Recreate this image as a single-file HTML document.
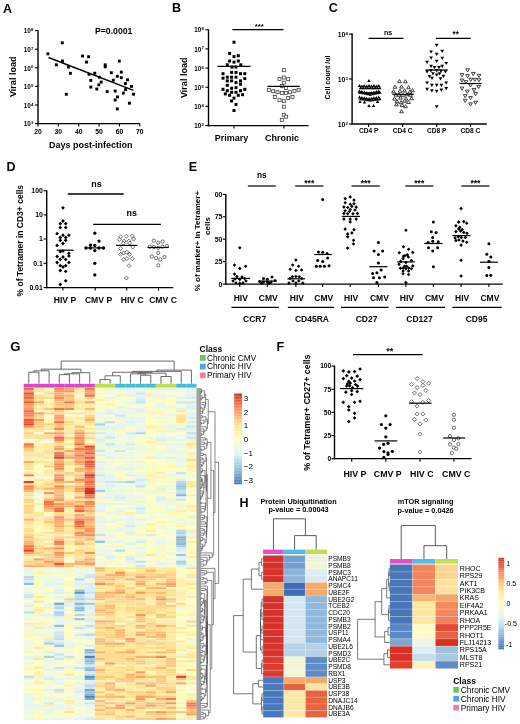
<!DOCTYPE html>
<html><head><meta charset="utf-8"><style>
html,body{margin:0;padding:0;background:#fff;}
svg{display:block;filter:blur(0.3px);}
</style></head><body>
<svg width="520" height="724" viewBox="0 0 520 724" font-family="Liberation Sans, sans-serif" shape-rendering="geometricPrecision">
<rect x="0" y="0" width="520" height="724" fill="#fff"/>
<text x="2.9" y="12.6" font-size="12.5" font-weight="bold" fill="#000">A</text>
<text x="95" y="34.1" font-size="8.7" font-weight="bold" fill="#000">P=0.0001</text>
<line x1="38" y1="29.9" x2="38" y2="124.2" stroke="#000" stroke-width="1.4"/>
<line x1="37.4" y1="123.6" x2="139.8" y2="123.6" stroke="#000" stroke-width="1.3"/>
<line x1="34.9" y1="30.6" x2="38" y2="30.6" stroke="#000" stroke-width="1.1"/>
<text x="30.7" y="33.3" font-size="6.3" font-weight="bold" text-anchor="end" fill="#000">10</text>
<text x="30.9" y="31.2" font-size="4.3" font-weight="bold" fill="#000">8</text>
<line x1="34.9" y1="49.2" x2="38" y2="49.2" stroke="#000" stroke-width="1.1"/>
<text x="30.7" y="51.9" font-size="6.3" font-weight="bold" text-anchor="end" fill="#000">10</text>
<text x="30.9" y="49.8" font-size="4.3" font-weight="bold" fill="#000">7</text>
<line x1="34.9" y1="67.8" x2="38" y2="67.8" stroke="#000" stroke-width="1.1"/>
<text x="30.7" y="70.5" font-size="6.3" font-weight="bold" text-anchor="end" fill="#000">10</text>
<text x="30.9" y="68.4" font-size="4.3" font-weight="bold" fill="#000">6</text>
<line x1="34.9" y1="86.4" x2="38" y2="86.4" stroke="#000" stroke-width="1.1"/>
<text x="30.7" y="89.1" font-size="6.3" font-weight="bold" text-anchor="end" fill="#000">10</text>
<text x="30.9" y="87" font-size="4.3" font-weight="bold" fill="#000">5</text>
<line x1="34.9" y1="105" x2="38" y2="105" stroke="#000" stroke-width="1.1"/>
<text x="30.7" y="107.7" font-size="6.3" font-weight="bold" text-anchor="end" fill="#000">10</text>
<text x="30.9" y="105.6" font-size="4.3" font-weight="bold" fill="#000">4</text>
<line x1="34.9" y1="123.6" x2="38" y2="123.6" stroke="#000" stroke-width="1.1"/>
<text x="30.7" y="126.3" font-size="6.3" font-weight="bold" text-anchor="end" fill="#000">10</text>
<text x="30.9" y="124.2" font-size="4.3" font-weight="bold" fill="#000">3</text>
<line x1="38" y1="123.6" x2="38" y2="126.6" stroke="#000" stroke-width="1.1"/>
<text x="38" y="134.3" font-size="6.8" font-weight="bold" text-anchor="middle" fill="#000">20</text>
<line x1="58.36" y1="123.6" x2="58.36" y2="126.6" stroke="#000" stroke-width="1.1"/>
<text x="58.36" y="134.3" font-size="6.8" font-weight="bold" text-anchor="middle" fill="#000">30</text>
<line x1="78.72" y1="123.6" x2="78.72" y2="126.6" stroke="#000" stroke-width="1.1"/>
<text x="78.72" y="134.3" font-size="6.8" font-weight="bold" text-anchor="middle" fill="#000">40</text>
<line x1="99.08" y1="123.6" x2="99.08" y2="126.6" stroke="#000" stroke-width="1.1"/>
<text x="99.08" y="134.3" font-size="6.8" font-weight="bold" text-anchor="middle" fill="#000">50</text>
<line x1="119.44" y1="123.6" x2="119.44" y2="126.6" stroke="#000" stroke-width="1.1"/>
<text x="119.44" y="134.3" font-size="6.8" font-weight="bold" text-anchor="middle" fill="#000">60</text>
<line x1="139.8" y1="123.6" x2="139.8" y2="126.6" stroke="#000" stroke-width="1.1"/>
<text x="139.8" y="134.3" font-size="6.8" font-weight="bold" text-anchor="middle" fill="#000">70</text>
<text x="90.7" y="148.2" font-size="9" font-weight="bold" text-anchor="middle" fill="#000">Days post-infection</text>
<text transform="translate(16.4,76.8) rotate(-90)" x="0" y="0" font-size="9" font-weight="bold" text-anchor="middle">Viral load</text>
<line x1="48.5" y1="57.5" x2="133.5" y2="90.4" stroke="#000" stroke-width="1.5"/>
<rect x="46.45" y="52.35" width="2.9" height="2.9" fill="#000"/>
<rect x="60.85" y="41.35" width="2.9" height="2.9" fill="#000"/>
<rect x="54.85" y="63.35" width="2.9" height="2.9" fill="#000"/>
<rect x="61.05" y="59.55" width="2.9" height="2.9" fill="#000"/>
<rect x="66.95" y="65.65" width="2.9" height="2.9" fill="#000"/>
<rect x="68.95" y="71.85" width="2.9" height="2.9" fill="#000"/>
<rect x="81.05" y="54.55" width="2.9" height="2.9" fill="#000"/>
<rect x="87.15" y="55.25" width="2.9" height="2.9" fill="#000"/>
<rect x="85.05" y="60.65" width="2.9" height="2.9" fill="#000"/>
<rect x="64.85" y="92.85" width="2.9" height="2.9" fill="#000"/>
<rect x="103.75" y="63.35" width="2.9" height="2.9" fill="#000"/>
<rect x="103.75" y="65.35" width="2.9" height="2.9" fill="#000"/>
<rect x="117.85" y="59.65" width="2.9" height="2.9" fill="#000"/>
<rect x="87.55" y="72.85" width="2.9" height="2.9" fill="#000"/>
<rect x="93.35" y="71.75" width="2.9" height="2.9" fill="#000"/>
<rect x="89.35" y="78.95" width="2.9" height="2.9" fill="#000"/>
<rect x="97.95" y="75.75" width="2.9" height="2.9" fill="#000"/>
<rect x="99.75" y="80.65" width="2.9" height="2.9" fill="#000"/>
<rect x="97.35" y="83.35" width="2.9" height="2.9" fill="#000"/>
<rect x="89.35" y="85.65" width="2.9" height="2.9" fill="#000"/>
<rect x="95.35" y="87.55" width="2.9" height="2.9" fill="#000"/>
<rect x="109.85" y="71.25" width="2.9" height="2.9" fill="#000"/>
<rect x="119.85" y="70.65" width="2.9" height="2.9" fill="#000"/>
<rect x="115.85" y="74.85" width="2.9" height="2.9" fill="#000"/>
<rect x="119.85" y="76.25" width="2.9" height="2.9" fill="#000"/>
<rect x="111.85" y="78.75" width="2.9" height="2.9" fill="#000"/>
<rect x="126.05" y="78.35" width="2.9" height="2.9" fill="#000"/>
<rect x="123.95" y="82.15" width="2.9" height="2.9" fill="#000"/>
<rect x="130.05" y="84.95" width="2.9" height="2.9" fill="#000"/>
<rect x="124.15" y="88.15" width="2.9" height="2.9" fill="#000"/>
<rect x="121.85" y="91.65" width="2.9" height="2.9" fill="#000"/>
<rect x="132.05" y="92.75" width="2.9" height="2.9" fill="#000"/>
<rect x="105.75" y="90.15" width="2.9" height="2.9" fill="#000"/>
<rect x="113.75" y="89.55" width="2.9" height="2.9" fill="#000"/>
<rect x="116.05" y="95.45" width="2.9" height="2.9" fill="#000"/>
<rect x="113.75" y="98.55" width="2.9" height="2.9" fill="#000"/>
<rect x="127.95" y="101.75" width="2.9" height="2.9" fill="#000"/>
<rect x="115.85" y="107.45" width="2.9" height="2.9" fill="#000"/>
<text x="172" y="11.9" font-size="12.5" font-weight="bold" fill="#000">B</text>
<line x1="208.5" y1="29.2" x2="208.5" y2="126.2" stroke="#000" stroke-width="1.4"/>
<line x1="207.9" y1="125.6" x2="308.6" y2="125.6" stroke="#000" stroke-width="1.3"/>
<line x1="205.4" y1="29.7" x2="208.5" y2="29.7" stroke="#000" stroke-width="1.1"/>
<text x="201.2" y="32.4" font-size="6.3" font-weight="bold" text-anchor="end" fill="#000">10</text>
<text x="201.4" y="30.3" font-size="4.3" font-weight="bold" fill="#000">8</text>
<line x1="205.4" y1="48.88" x2="208.5" y2="48.88" stroke="#000" stroke-width="1.1"/>
<text x="201.2" y="51.58" font-size="6.3" font-weight="bold" text-anchor="end" fill="#000">10</text>
<text x="201.4" y="49.48" font-size="4.3" font-weight="bold" fill="#000">7</text>
<line x1="205.4" y1="68.06" x2="208.5" y2="68.06" stroke="#000" stroke-width="1.1"/>
<text x="201.2" y="70.76" font-size="6.3" font-weight="bold" text-anchor="end" fill="#000">10</text>
<text x="201.4" y="68.66" font-size="4.3" font-weight="bold" fill="#000">6</text>
<line x1="205.4" y1="87.24" x2="208.5" y2="87.24" stroke="#000" stroke-width="1.1"/>
<text x="201.2" y="89.94" font-size="6.3" font-weight="bold" text-anchor="end" fill="#000">10</text>
<text x="201.4" y="87.84" font-size="4.3" font-weight="bold" fill="#000">5</text>
<line x1="205.4" y1="106.42" x2="208.5" y2="106.42" stroke="#000" stroke-width="1.1"/>
<text x="201.2" y="109.12" font-size="6.3" font-weight="bold" text-anchor="end" fill="#000">10</text>
<text x="201.4" y="107.02" font-size="4.3" font-weight="bold" fill="#000">4</text>
<line x1="205.4" y1="125.6" x2="208.5" y2="125.6" stroke="#000" stroke-width="1.1"/>
<text x="201.2" y="128.3" font-size="6.3" font-weight="bold" text-anchor="end" fill="#000">10</text>
<text x="201.4" y="126.2" font-size="4.3" font-weight="bold" fill="#000">3</text>
<line x1="234" y1="125.6" x2="234" y2="128.6" stroke="#000" stroke-width="1.1"/>
<line x1="283.8" y1="125.6" x2="283.8" y2="128.6" stroke="#000" stroke-width="1.1"/>
<text x="231.5" y="140.6" font-size="9" font-weight="bold" text-anchor="middle" fill="#000">Primary</text>
<text x="282" y="140.6" font-size="9" font-weight="bold" text-anchor="middle" fill="#000">Chronic</text>
<text transform="translate(186.7,77.8) rotate(-90)" x="0" y="0" font-size="9" font-weight="bold" text-anchor="middle">Viral load</text>
<line x1="232.4" y1="29.7" x2="283.5" y2="29.7" stroke="#000" stroke-width="1.3"/>
<text x="259.2" y="28.9" font-size="7.8" font-weight="bold" text-anchor="middle" fill="#000">***</text>
<rect x="232.5" y="40.7" width="3" height="3" fill="#000"/>
<rect x="228.1" y="51.9" width="3" height="3" fill="#000"/>
<rect x="232.5" y="55.1" width="3" height="3" fill="#000"/>
<rect x="236.8" y="54.2" width="3" height="3" fill="#000"/>
<rect x="228.1" y="59.5" width="3" height="3" fill="#000"/>
<rect x="232.5" y="60.6" width="3" height="3" fill="#000"/>
<rect x="236.8" y="59.5" width="3" height="3" fill="#000"/>
<rect x="225.8" y="63.3" width="3" height="3" fill="#000"/>
<rect x="239.3" y="63.3" width="3" height="3" fill="#000"/>
<rect x="230.5" y="65.6" width="3" height="3" fill="#000"/>
<rect x="234.5" y="65.6" width="3" height="3" fill="#000"/>
<rect x="230.1" y="70.9" width="3" height="3" fill="#000"/>
<rect x="234.5" y="70.9" width="3" height="3" fill="#000"/>
<rect x="221.5" y="72.2" width="3" height="3" fill="#000"/>
<rect x="239" y="72.2" width="3" height="3" fill="#000"/>
<rect x="243.3" y="72.2" width="3" height="3" fill="#000"/>
<rect x="225.8" y="75.7" width="3" height="3" fill="#000"/>
<rect x="230.1" y="75.7" width="3" height="3" fill="#000"/>
<rect x="234.5" y="75.7" width="3" height="3" fill="#000"/>
<rect x="221.5" y="76.7" width="3" height="3" fill="#000"/>
<rect x="243.3" y="77.1" width="3" height="3" fill="#000"/>
<rect x="225.8" y="79.4" width="3" height="3" fill="#000"/>
<rect x="230.1" y="79.4" width="3" height="3" fill="#000"/>
<rect x="239" y="79.4" width="3" height="3" fill="#000"/>
<rect x="234.5" y="81.1" width="3" height="3" fill="#000"/>
<rect x="239" y="82.7" width="3" height="3" fill="#000"/>
<rect x="225.8" y="83.8" width="3" height="3" fill="#000"/>
<rect x="234.5" y="86.1" width="3" height="3" fill="#000"/>
<rect x="230.1" y="86.8" width="3" height="3" fill="#000"/>
<rect x="221.5" y="87.8" width="3" height="3" fill="#000"/>
<rect x="243.3" y="87.8" width="3" height="3" fill="#000"/>
<rect x="225.8" y="89.2" width="3" height="3" fill="#000"/>
<rect x="239" y="89.2" width="3" height="3" fill="#000"/>
<rect x="230.1" y="90.8" width="3" height="3" fill="#000"/>
<rect x="234.5" y="90.8" width="3" height="3" fill="#000"/>
<rect x="223.8" y="92.4" width="3" height="3" fill="#000"/>
<rect x="241.1" y="93.2" width="3" height="3" fill="#000"/>
<rect x="228.1" y="93.8" width="3" height="3" fill="#000"/>
<rect x="236.8" y="93.8" width="3" height="3" fill="#000"/>
<rect x="232.5" y="96.6" width="3" height="3" fill="#000"/>
<rect x="230.1" y="99.5" width="3" height="3" fill="#000"/>
<rect x="234.5" y="102.9" width="3" height="3" fill="#000"/>
<rect x="232.5" y="109" width="3" height="3" fill="#000"/>
<line x1="217.6" y1="66.4" x2="250.5" y2="66.4" stroke="#000" stroke-width="1.3"/>
<rect x="282.3" y="68.7" width="3" height="3" fill="#fff" stroke="#333" stroke-width="0.75"/>
<rect x="278" y="77.5" width="3" height="3" fill="#fff" stroke="#333" stroke-width="0.75"/>
<rect x="282.3" y="76" width="3" height="3" fill="#fff" stroke="#333" stroke-width="0.75"/>
<rect x="286.7" y="77.7" width="3" height="3" fill="#fff" stroke="#333" stroke-width="0.75"/>
<rect x="282.3" y="81.2" width="3" height="3" fill="#fff" stroke="#333" stroke-width="0.75"/>
<rect x="280.3" y="84.4" width="3" height="3" fill="#fff" stroke="#333" stroke-width="0.75"/>
<rect x="284.4" y="86.6" width="3" height="3" fill="#fff" stroke="#333" stroke-width="0.75"/>
<rect x="267.3" y="88.3" width="3" height="3" fill="#fff" stroke="#333" stroke-width="0.75"/>
<rect x="297.1" y="88.3" width="3" height="3" fill="#fff" stroke="#333" stroke-width="0.75"/>
<rect x="271.7" y="89.7" width="3" height="3" fill="#fff" stroke="#333" stroke-width="0.75"/>
<rect x="293" y="89.3" width="3" height="3" fill="#fff" stroke="#333" stroke-width="0.75"/>
<rect x="276" y="90.7" width="3" height="3" fill="#fff" stroke="#333" stroke-width="0.75"/>
<rect x="288.5" y="90.7" width="3" height="3" fill="#fff" stroke="#333" stroke-width="0.75"/>
<rect x="280.3" y="91.6" width="3" height="3" fill="#fff" stroke="#333" stroke-width="0.75"/>
<rect x="284.4" y="91.3" width="3" height="3" fill="#fff" stroke="#333" stroke-width="0.75"/>
<rect x="273.3" y="95.6" width="3" height="3" fill="#fff" stroke="#333" stroke-width="0.75"/>
<rect x="291" y="95.3" width="3" height="3" fill="#fff" stroke="#333" stroke-width="0.75"/>
<rect x="286.7" y="96.4" width="3" height="3" fill="#fff" stroke="#333" stroke-width="0.75"/>
<rect x="278" y="98.7" width="3" height="3" fill="#fff" stroke="#333" stroke-width="0.75"/>
<rect x="282.3" y="99.7" width="3" height="3" fill="#fff" stroke="#333" stroke-width="0.75"/>
<rect x="282.3" y="105.2" width="3" height="3" fill="#fff" stroke="#333" stroke-width="0.75"/>
<rect x="282.3" y="113.3" width="3" height="3" fill="#fff" stroke="#333" stroke-width="0.75"/>
<rect x="284.7" y="115.2" width="3" height="3" fill="#fff" stroke="#333" stroke-width="0.75"/>
<rect x="280.3" y="118.3" width="3" height="3" fill="#fff" stroke="#333" stroke-width="0.75"/>
<line x1="267.5" y1="86.4" x2="299.8" y2="86.4" stroke="#000" stroke-width="1.3"/>
<text x="328.7" y="12" font-size="12.5" font-weight="bold" fill="#000">C</text>
<line x1="352.1" y1="33.2" x2="352.1" y2="124.6" stroke="#000" stroke-width="1.4"/>
<line x1="351.5" y1="124" x2="486.7" y2="124" stroke="#000" stroke-width="1.3"/>
<line x1="349" y1="34.1" x2="352.1" y2="34.1" stroke="#000" stroke-width="1.1"/>
<text x="345.3" y="36.8" font-size="6.8" font-weight="bold" text-anchor="end" fill="#000">10</text>
<text x="345.5" y="34.7" font-size="4.3" font-weight="bold" fill="#000">4</text>
<line x1="349" y1="79" x2="352.1" y2="79" stroke="#000" stroke-width="1.1"/>
<text x="345.3" y="81.7" font-size="6.8" font-weight="bold" text-anchor="end" fill="#000">10</text>
<text x="345.5" y="79.6" font-size="4.3" font-weight="bold" fill="#000">3</text>
<line x1="349" y1="124" x2="352.1" y2="124" stroke="#000" stroke-width="1.1"/>
<text x="345.3" y="126.7" font-size="6.8" font-weight="bold" text-anchor="end" fill="#000">10</text>
<text x="345.5" y="124.6" font-size="4.3" font-weight="bold" fill="#000">2</text>
<line x1="368.6" y1="124" x2="368.6" y2="127" stroke="#000" stroke-width="1.1"/>
<line x1="402.7" y1="124" x2="402.7" y2="127" stroke="#000" stroke-width="1.1"/>
<line x1="436.7" y1="124" x2="436.7" y2="127" stroke="#000" stroke-width="1.1"/>
<line x1="470.5" y1="124" x2="470.5" y2="127" stroke="#000" stroke-width="1.1"/>
<text x="368.6" y="132.9" font-size="6.6" font-weight="bold" text-anchor="middle" fill="#000">CD4 P</text>
<text x="402.7" y="132.9" font-size="6.6" font-weight="bold" text-anchor="middle" fill="#000">CD4 C</text>
<text x="436.7" y="132.9" font-size="6.6" font-weight="bold" text-anchor="middle" fill="#000">CD8 P</text>
<text x="470.5" y="132.9" font-size="6.6" font-weight="bold" text-anchor="middle" fill="#000">CD8 C</text>
<text transform="translate(330.31,77.5) rotate(-90)" x="0" y="0" font-size="7" font-weight="bold" text-anchor="middle">Cell count /ul</text>
<line x1="368.6" y1="38.3" x2="403.5" y2="38.3" stroke="#000" stroke-width="1.2"/>
<text x="388" y="35" font-size="7" font-weight="bold" text-anchor="middle" fill="#000">ns</text>
<line x1="435.9" y1="38.3" x2="470.8" y2="38.3" stroke="#000" stroke-width="1.2"/>
<text x="455.7" y="36.9" font-size="8.2" font-weight="bold" text-anchor="middle" fill="#000">**</text>
<polygon points="368.9,79.02 370.65,81.99 367.14,81.99" fill="#000"/>
<polygon points="360,100.02 361.75,102.99 358.25,102.99" fill="#000"/>
<polygon points="364.5,100.42 366.25,103.39 362.75,103.39" fill="#000"/>
<polygon points="377.5,100.02 379.25,102.99 375.75,102.99" fill="#000"/>
<polygon points="369,104.02 370.75,106.99 367.25,106.99" fill="#000"/>
<polygon points="373.5,104.02 375.25,106.99 371.75,106.99" fill="#000"/>
<polygon points="359.5,84.02 361.25,86.99 357.75,86.99" fill="#000"/>
<polygon points="360.6,86.22 362.36,89.19 358.85,89.19" fill="#000"/>
<polygon points="359.5,89.42 361.25,92.39 357.75,92.39" fill="#000"/>
<polygon points="360.6,90.82 362.36,93.79 358.85,93.79" fill="#000"/>
<polygon points="359.5,95.52 361.25,98.49 357.75,98.49" fill="#000"/>
<polygon points="360.6,97.22 362.36,100.19 358.85,100.19" fill="#000"/>
<polygon points="361.9,84.52 363.65,87.49 360.14,87.49" fill="#000"/>
<polygon points="363,86.22 364.75,89.19 361.25,89.19" fill="#000"/>
<polygon points="361.9,90.02 363.65,92.99 360.14,92.99" fill="#000"/>
<polygon points="363,91.32 364.75,94.29 361.25,94.29" fill="#000"/>
<polygon points="361.9,95.92 363.65,98.89 360.14,98.89" fill="#000"/>
<polygon points="363,97.54 364.75,100.51 361.25,100.51" fill="#000"/>
<polygon points="364.3,84.02 366.06,86.99 362.55,86.99" fill="#000"/>
<polygon points="365.4,86.22 367.16,89.19 363.65,89.19" fill="#000"/>
<polygon points="364.3,90.62 366.06,93.59 362.55,93.59" fill="#000"/>
<polygon points="365.4,91.82 367.16,94.79 363.65,94.79" fill="#000"/>
<polygon points="364.3,96.32 366.06,99.29 362.55,99.29" fill="#000"/>
<polygon points="365.4,97.87 367.16,100.84 363.65,100.84" fill="#000"/>
<polygon points="366.7,84.52 368.45,87.49 364.94,87.49" fill="#000"/>
<polygon points="367.8,86.22 369.56,89.19 366.05,89.19" fill="#000"/>
<polygon points="366.7,91.22 368.45,94.19 364.94,94.19" fill="#000"/>
<polygon points="367.8,92.32 369.56,95.29 366.05,95.29" fill="#000"/>
<polygon points="366.7,96.72 368.45,99.69 364.94,99.69" fill="#000"/>
<polygon points="367.8,98.19 369.56,101.16 366.05,101.16" fill="#000"/>
<polygon points="369.1,84.02 370.86,86.99 367.35,86.99" fill="#000"/>
<polygon points="370.2,86.22 371.96,89.19 368.45,89.19" fill="#000"/>
<polygon points="369.1,91.82 370.86,94.79 367.35,94.79" fill="#000"/>
<polygon points="370.2,92.82 371.96,95.79 368.45,95.79" fill="#000"/>
<polygon points="369.1,97.12 370.86,100.09 367.35,100.09" fill="#000"/>
<polygon points="370.2,98.52 371.96,101.49 368.45,101.49" fill="#000"/>
<polygon points="371.5,84.52 373.25,87.49 369.75,87.49" fill="#000"/>
<polygon points="372.6,86.22 374.36,89.19 370.85,89.19" fill="#000"/>
<polygon points="371.5,91.22 373.25,94.19 369.75,94.19" fill="#000"/>
<polygon points="372.6,92.32 374.36,95.29 370.85,95.29" fill="#000"/>
<polygon points="371.5,96.72 373.25,99.69 369.75,99.69" fill="#000"/>
<polygon points="372.6,98.19 374.36,101.16 370.85,101.16" fill="#000"/>
<polygon points="373.9,84.02 375.65,86.99 372.14,86.99" fill="#000"/>
<polygon points="375,86.22 376.75,89.19 373.25,89.19" fill="#000"/>
<polygon points="373.9,90.62 375.65,93.59 372.14,93.59" fill="#000"/>
<polygon points="375,91.82 376.75,94.79 373.25,94.79" fill="#000"/>
<polygon points="373.9,96.32 375.65,99.29 372.14,99.29" fill="#000"/>
<polygon points="375,97.87 376.75,100.84 373.25,100.84" fill="#000"/>
<polygon points="376.3,84.52 378.06,87.49 374.55,87.49" fill="#000"/>
<polygon points="377.4,86.22 379.16,89.19 375.65,89.19" fill="#000"/>
<polygon points="376.3,90.02 378.06,92.99 374.55,92.99" fill="#000"/>
<polygon points="377.4,91.32 379.16,94.29 375.65,94.29" fill="#000"/>
<polygon points="376.3,95.92 378.06,98.89 374.55,98.89" fill="#000"/>
<polygon points="377.4,97.54 379.16,100.51 375.65,100.51" fill="#000"/>
<polygon points="378.7,84.02 380.45,86.99 376.94,86.99" fill="#000"/>
<polygon points="379.8,86.22 381.56,89.19 378.05,89.19" fill="#000"/>
<polygon points="378.7,89.42 380.45,92.39 376.94,92.39" fill="#000"/>
<polygon points="379.8,90.82 381.56,93.79 378.05,93.79" fill="#000"/>
<polygon points="378.7,95.52 380.45,98.49 376.94,98.49" fill="#000"/>
<polygon points="379.8,97.22 381.56,100.19 378.05,100.19" fill="#000"/>
<line x1="357.8" y1="92.8" x2="380" y2="92.8" stroke="#000" stroke-width="1.2"/>
<polygon points="399.5,79.49 401.38,82.68 397.62,82.68" fill="#fff" stroke="#222" stroke-width="0.85" stroke-linejoin="round"/>
<polygon points="405.4,79.69 407.28,82.88 403.51,82.88" fill="#fff" stroke="#222" stroke-width="0.85" stroke-linejoin="round"/>
<polygon points="395,85.09 396.88,88.28 393.12,88.28" fill="#fff" stroke="#222" stroke-width="0.85" stroke-linejoin="round"/>
<polygon points="401.5,84.89 403.38,88.08 399.62,88.08" fill="#fff" stroke="#222" stroke-width="0.85" stroke-linejoin="round"/>
<polygon points="408.5,85.59 410.38,88.78 406.62,88.78" fill="#fff" stroke="#222" stroke-width="0.85" stroke-linejoin="round"/>
<polygon points="393.5,89.59 395.38,92.78 391.62,92.78" fill="#fff" stroke="#222" stroke-width="0.85" stroke-linejoin="round"/>
<polygon points="400,89.09 401.88,92.28 398.12,92.28" fill="#fff" stroke="#222" stroke-width="0.85" stroke-linejoin="round"/>
<polygon points="404.5,88.79 406.38,91.98 402.62,91.98" fill="#fff" stroke="#222" stroke-width="0.85" stroke-linejoin="round"/>
<polygon points="410,90.09 411.88,93.28 408.12,93.28" fill="#fff" stroke="#222" stroke-width="0.85" stroke-linejoin="round"/>
<polygon points="412.5,88.59 414.38,91.78 410.62,91.78" fill="#fff" stroke="#222" stroke-width="0.85" stroke-linejoin="round"/>
<polygon points="396,92.89 397.88,96.08 394.12,96.08" fill="#fff" stroke="#222" stroke-width="0.85" stroke-linejoin="round"/>
<polygon points="399,93.09 400.88,96.28 397.12,96.28" fill="#fff" stroke="#222" stroke-width="0.85" stroke-linejoin="round"/>
<polygon points="403,93.59 404.88,96.78 401.12,96.78" fill="#fff" stroke="#222" stroke-width="0.85" stroke-linejoin="round"/>
<polygon points="407,92.59 408.88,95.78 405.12,95.78" fill="#fff" stroke="#222" stroke-width="0.85" stroke-linejoin="round"/>
<polygon points="410.5,93.09 412.38,96.28 408.62,96.28" fill="#fff" stroke="#222" stroke-width="0.85" stroke-linejoin="round"/>
<polygon points="394.5,96.89 396.38,100.08 392.62,100.08" fill="#fff" stroke="#222" stroke-width="0.85" stroke-linejoin="round"/>
<polygon points="400.5,95.89 402.38,99.08 398.62,99.08" fill="#fff" stroke="#222" stroke-width="0.85" stroke-linejoin="round"/>
<polygon points="406,96.89 407.88,100.08 404.12,100.08" fill="#fff" stroke="#222" stroke-width="0.85" stroke-linejoin="round"/>
<polygon points="411.5,96.59 413.38,99.78 409.62,99.78" fill="#fff" stroke="#222" stroke-width="0.85" stroke-linejoin="round"/>
<polygon points="397,99.59 398.88,102.78 395.12,102.78" fill="#fff" stroke="#222" stroke-width="0.85" stroke-linejoin="round"/>
<polygon points="401,100.59 402.88,103.78 399.12,103.78" fill="#fff" stroke="#222" stroke-width="0.85" stroke-linejoin="round"/>
<polygon points="404.5,99.09 406.38,102.28 402.62,102.28" fill="#fff" stroke="#222" stroke-width="0.85" stroke-linejoin="round"/>
<polygon points="408.5,100.29 410.38,103.48 406.62,103.48" fill="#fff" stroke="#222" stroke-width="0.85" stroke-linejoin="round"/>
<polygon points="396.5,102.69 398.38,105.88 394.62,105.88" fill="#fff" stroke="#222" stroke-width="0.85" stroke-linejoin="round"/>
<polygon points="402,103.29 403.88,106.48 400.12,106.48" fill="#fff" stroke="#222" stroke-width="0.85" stroke-linejoin="round"/>
<polygon points="405.5,104.59 407.38,107.78 403.62,107.78" fill="#fff" stroke="#222" stroke-width="0.85" stroke-linejoin="round"/>
<polygon points="401.5,109.59 403.38,112.78 399.62,112.78" fill="#fff" stroke="#222" stroke-width="0.85" stroke-linejoin="round"/>
<line x1="392.4" y1="94.3" x2="413.8" y2="94.3" stroke="#000" stroke-width="1.2"/>
<polygon points="436.7,47.01 438.58,43.82 434.81,43.82" fill="#000"/>
<polygon points="431.1,53.61 432.99,50.42 429.22,50.42" fill="#000"/>
<polygon points="442.2,52.91 444.08,49.72 440.31,49.72" fill="#000"/>
<polygon points="436.7,56.01 438.58,52.82 434.81,52.82" fill="#000"/>
<polygon points="431.1,59.71 432.99,56.52 429.22,56.52" fill="#000"/>
<polygon points="442.2,60.01 444.08,56.82 440.31,56.82" fill="#000"/>
<polygon points="436.7,62.91 438.58,59.72 434.81,59.72" fill="#000"/>
<polygon points="427.1,63.91 428.99,60.72 425.22,60.72" fill="#000"/>
<polygon points="446.2,65.11 448.08,61.92 444.31,61.92" fill="#000"/>
<polygon points="431.1,67.91 432.99,64.72 429.22,64.72" fill="#000"/>
<polygon points="442.2,67.91 444.08,64.72 440.31,64.72" fill="#000"/>
<polygon points="434.5,69.21 436.38,66.02 432.62,66.02" fill="#000"/>
<polygon points="439,69.21 440.88,66.02 437.12,66.02" fill="#000"/>
<polygon points="427.1,73.51 428.99,70.32 425.22,70.32" fill="#000"/>
<polygon points="431,72.41 432.88,69.22 429.12,69.22" fill="#000"/>
<polygon points="436.7,72.41 438.58,69.22 434.81,69.22" fill="#000"/>
<polygon points="441,72.91 442.88,69.72 439.12,69.72" fill="#000"/>
<polygon points="445.5,73.51 447.38,70.32 443.62,70.32" fill="#000"/>
<polygon points="433,75.41 434.88,72.22 431.12,72.22" fill="#000"/>
<polygon points="439.5,75.41 441.38,72.22 437.62,72.22" fill="#000"/>
<polygon points="429.5,78.21 431.38,75.02 427.62,75.02" fill="#000"/>
<polygon points="436.7,76.71 438.58,73.52 434.81,73.52" fill="#000"/>
<polygon points="443.5,77.91 445.38,74.72 441.62,74.72" fill="#000"/>
<polygon points="432,79.91 433.88,76.72 430.12,76.72" fill="#000"/>
<polygon points="440.5,80.41 442.38,77.22 438.62,77.22" fill="#000"/>
<polygon points="427.1,84.61 428.99,81.42 425.22,81.42" fill="#000"/>
<polygon points="446.2,84.61 448.08,81.42 444.31,81.42" fill="#000"/>
<polygon points="431.9,87.01 433.78,83.82 430.01,83.82" fill="#000"/>
<polygon points="436.7,87.01 438.58,83.82 434.81,83.82" fill="#000"/>
<polygon points="441.4,87.01 443.28,83.82 439.51,83.82" fill="#000"/>
<polygon points="427.1,90.91 428.99,87.72 425.22,87.72" fill="#000"/>
<polygon points="446.2,90.21 448.08,87.02 444.31,87.02" fill="#000"/>
<polygon points="431.9,92.51 433.78,89.32 430.01,89.32" fill="#000"/>
<polygon points="436.7,93.01 438.58,89.82 434.81,89.82" fill="#000"/>
<polygon points="441.4,91.71 443.28,88.52 439.51,88.52" fill="#000"/>
<polygon points="436.7,108.41 438.58,105.22 434.81,105.22" fill="#000"/>
<line x1="425.6" y1="70" x2="447.8" y2="70" stroke="#000" stroke-width="1.2"/>
<polygon points="467.6,71.91 469.49,68.72 465.72,68.72" fill="#fff" stroke="#222" stroke-width="0.85" stroke-linejoin="round"/>
<polygon points="462,76.71 463.88,73.52 460.12,73.52" fill="#fff" stroke="#222" stroke-width="0.85" stroke-linejoin="round"/>
<polygon points="467.6,77.81 469.49,74.62 465.72,74.62" fill="#fff" stroke="#222" stroke-width="0.85" stroke-linejoin="round"/>
<polygon points="473.2,75.61 475.08,72.42 471.31,72.42" fill="#fff" stroke="#222" stroke-width="0.85" stroke-linejoin="round"/>
<polygon points="479,77.51 480.88,74.32 477.12,74.32" fill="#fff" stroke="#222" stroke-width="0.85" stroke-linejoin="round"/>
<polygon points="462,82.21 463.88,79.02 460.12,79.02" fill="#fff" stroke="#222" stroke-width="0.85" stroke-linejoin="round"/>
<polygon points="466,83.81 467.88,80.62 464.12,80.62" fill="#fff" stroke="#222" stroke-width="0.85" stroke-linejoin="round"/>
<polygon points="470.8,81.41 472.69,78.22 468.92,78.22" fill="#fff" stroke="#222" stroke-width="0.85" stroke-linejoin="round"/>
<polygon points="474.8,81.41 476.69,78.22 472.92,78.22" fill="#fff" stroke="#222" stroke-width="0.85" stroke-linejoin="round"/>
<polygon points="479,81.91 480.88,78.72 477.12,78.72" fill="#fff" stroke="#222" stroke-width="0.85" stroke-linejoin="round"/>
<polygon points="462,90.21 463.88,87.02 460.12,87.02" fill="#fff" stroke="#222" stroke-width="0.85" stroke-linejoin="round"/>
<polygon points="470.5,87.01 472.38,83.82 468.62,83.82" fill="#fff" stroke="#222" stroke-width="0.85" stroke-linejoin="round"/>
<polygon points="474,91.71 475.88,88.52 472.12,88.52" fill="#fff" stroke="#222" stroke-width="0.85" stroke-linejoin="round"/>
<polygon points="478.7,88.61 480.58,85.42 476.81,85.42" fill="#fff" stroke="#222" stroke-width="0.85" stroke-linejoin="round"/>
<polygon points="467.3,93.31 469.19,90.12 465.42,90.12" fill="#fff" stroke="#222" stroke-width="0.85" stroke-linejoin="round"/>
<polygon points="475.6,95.71 477.49,92.52 473.72,92.52" fill="#fff" stroke="#222" stroke-width="0.85" stroke-linejoin="round"/>
<polygon points="465.2,97.81 467.08,94.62 463.31,94.62" fill="#fff" stroke="#222" stroke-width="0.85" stroke-linejoin="round"/>
<polygon points="470.5,99.71 472.38,96.52 468.62,96.52" fill="#fff" stroke="#222" stroke-width="0.85" stroke-linejoin="round"/>
<polygon points="465.2,102.51 467.08,99.32 463.31,99.32" fill="#fff" stroke="#222" stroke-width="0.85" stroke-linejoin="round"/>
<polygon points="475.6,104.41 477.49,101.22 473.72,101.22" fill="#fff" stroke="#222" stroke-width="0.85" stroke-linejoin="round"/>
<polygon points="470.5,106.01 472.38,102.82 468.62,102.82" fill="#fff" stroke="#222" stroke-width="0.85" stroke-linejoin="round"/>
<line x1="459.4" y1="83.5" x2="481.6" y2="83.5" stroke="#000" stroke-width="1.2"/>
<text x="6.6" y="171.1" font-size="12.5" font-weight="bold" fill="#000">D</text>
<line x1="46.7" y1="190.3" x2="46.7" y2="288.2" stroke="#000" stroke-width="1.4"/>
<line x1="46.1" y1="287.6" x2="173.3" y2="287.6" stroke="#000" stroke-width="1.3"/>
<line x1="43.6" y1="190.8" x2="46.7" y2="190.8" stroke="#000" stroke-width="1.1"/>
<text x="42.8" y="193.2" font-size="6.9" font-weight="bold" text-anchor="end" fill="#000">100</text>
<line x1="43.6" y1="214.9" x2="46.7" y2="214.9" stroke="#000" stroke-width="1.1"/>
<text x="42.8" y="217.3" font-size="6.9" font-weight="bold" text-anchor="end" fill="#000">10</text>
<line x1="43.6" y1="239" x2="46.7" y2="239" stroke="#000" stroke-width="1.1"/>
<text x="42.8" y="241.4" font-size="6.9" font-weight="bold" text-anchor="end" fill="#000">1</text>
<line x1="43.6" y1="263.3" x2="46.7" y2="263.3" stroke="#000" stroke-width="1.1"/>
<text x="42.8" y="265.7" font-size="6.9" font-weight="bold" text-anchor="end" fill="#000">0.1</text>
<line x1="43.6" y1="287.6" x2="46.7" y2="287.6" stroke="#000" stroke-width="1.1"/>
<text x="42.8" y="290" font-size="6.9" font-weight="bold" text-anchor="end" fill="#000">0.01</text>
<line x1="62.9" y1="287.6" x2="62.9" y2="290.6" stroke="#000" stroke-width="1.1"/>
<line x1="95.2" y1="287.6" x2="95.2" y2="290.6" stroke="#000" stroke-width="1.1"/>
<line x1="126.7" y1="287.6" x2="126.7" y2="290.6" stroke="#000" stroke-width="1.1"/>
<line x1="158.5" y1="287.6" x2="158.5" y2="290.6" stroke="#000" stroke-width="1.1"/>
<text x="64.9" y="302.8" font-size="8.6" font-weight="bold" text-anchor="middle" fill="#000">HIV P</text>
<text x="98.5" y="302.8" font-size="8.6" font-weight="bold" text-anchor="middle" fill="#000">CMV P</text>
<text x="132.2" y="302.8" font-size="8.6" font-weight="bold" text-anchor="middle" fill="#000">HIV C</text>
<text x="163" y="302.8" font-size="8.6" font-weight="bold" text-anchor="middle" fill="#000">CMV C</text>
<text transform="translate(22.62,240.7) rotate(-90)" x="0" y="0" font-size="8.5" font-weight="bold" text-anchor="middle">% of Tetramer in CD3+ cells</text>
<line x1="67.8" y1="194" x2="123.7" y2="194" stroke="#000" stroke-width="1.3"/>
<text x="96.4" y="186.5" font-size="9" font-weight="bold" text-anchor="middle" fill="#000">ns</text>
<line x1="93.2" y1="224.4" x2="160.9" y2="224.4" stroke="#000" stroke-width="1.3"/>
<text x="131.7" y="216.4" font-size="9" font-weight="bold" text-anchor="middle" fill="#000">ns</text>
<polygon points="63,205.91 64.89,207.8 63,209.69 61.11,207.8" fill="#000"/>
<polygon points="63,219.11 64.89,221 63,222.89 61.11,221" fill="#000"/>
<polygon points="60.3,221.81 62.19,223.7 60.3,225.59 58.41,223.7" fill="#000"/>
<polygon points="65.7,221.81 67.59,223.7 65.7,225.59 63.81,223.7" fill="#000"/>
<polygon points="60.3,225.71 62.19,227.6 60.3,229.49 58.41,227.6" fill="#000"/>
<polygon points="65.7,225.71 67.59,227.6 65.7,229.49 63.81,227.6" fill="#000"/>
<polygon points="57.1,231.81 58.99,233.7 57.1,235.59 55.21,233.7" fill="#000"/>
<polygon points="63,233.31 64.89,235.2 63,237.09 61.11,235.2" fill="#000"/>
<polygon points="68.9,233.31 70.79,235.2 68.9,237.09 67.01,235.2" fill="#000"/>
<polygon points="60.3,235.61 62.19,237.5 60.3,239.39 58.41,237.5" fill="#000"/>
<polygon points="65.7,235.61 67.59,237.5 65.7,239.39 63.81,237.5" fill="#000"/>
<polygon points="60.3,238.41 62.19,240.3 60.3,242.19 58.41,240.3" fill="#000"/>
<polygon points="65.7,238.41 67.59,240.3 65.7,242.19 63.81,240.3" fill="#000"/>
<polygon points="57.1,243.51 58.99,245.4 57.1,247.29 55.21,245.4" fill="#000"/>
<polygon points="63,241.61 64.89,243.5 63,245.39 61.11,243.5" fill="#000"/>
<polygon points="60.3,249.81 62.19,251.7 60.3,253.59 58.41,251.7" fill="#000"/>
<polygon points="63,249.21 64.89,251.1 63,252.99 61.11,251.1" fill="#000"/>
<polygon points="68.9,251.41 70.79,253.3 68.9,255.19 67.01,253.3" fill="#000"/>
<polygon points="57.1,254.61 58.99,256.5 57.1,258.39 55.21,256.5" fill="#000"/>
<polygon points="63,255.11 64.89,257 63,258.89 61.11,257" fill="#000"/>
<polygon points="68.9,254.01 70.79,255.9 68.9,257.79 67.01,255.9" fill="#000"/>
<polygon points="60.3,257.51 62.19,259.4 60.3,261.29 58.41,259.4" fill="#000"/>
<polygon points="65.7,257.51 67.59,259.4 65.7,261.29 63.81,259.4" fill="#000"/>
<polygon points="57.1,260.61 58.99,262.5 57.1,264.39 55.21,262.5" fill="#000"/>
<polygon points="68.9,260.61 70.79,262.5 68.9,264.39 67.01,262.5" fill="#000"/>
<polygon points="60.3,263.81 62.19,265.7 60.3,267.59 58.41,265.7" fill="#000"/>
<polygon points="65.7,263.81 67.59,265.7 65.7,267.59 63.81,265.7" fill="#000"/>
<polygon points="63,265.11 64.89,267 63,268.89 61.11,267" fill="#000"/>
<polygon points="60.3,268.61 62.19,270.5 60.3,272.39 58.41,270.5" fill="#000"/>
<polygon points="65.7,269.41 67.59,271.3 65.7,273.19 63.81,271.3" fill="#000"/>
<polygon points="65.7,278.91 67.59,280.8 65.7,282.69 63.81,280.8" fill="#000"/>
<polygon points="60.3,282.51 62.19,284.4 60.3,286.29 58.41,284.4" fill="#000"/>
<line x1="56.7" y1="250.2" x2="73.7" y2="250.2" stroke="#000" stroke-width="1.2"/>
<circle cx="94.8" cy="233.2" r="1.65" fill="#000"/>
<circle cx="99" cy="241.1" r="1.65" fill="#000"/>
<circle cx="90.5" cy="245.1" r="1.65" fill="#000"/>
<circle cx="94.8" cy="245.4" r="1.65" fill="#000"/>
<circle cx="86" cy="248" r="1.65" fill="#000"/>
<circle cx="90.5" cy="248" r="1.65" fill="#000"/>
<circle cx="94.8" cy="250.6" r="1.65" fill="#000"/>
<circle cx="99" cy="248" r="1.65" fill="#000"/>
<circle cx="103.5" cy="248" r="1.65" fill="#000"/>
<circle cx="94.8" cy="263.3" r="1.65" fill="#000"/>
<circle cx="94.8" cy="274.9" r="1.65" fill="#000"/>
<line x1="84.8" y1="247.9" x2="105.1" y2="247.9" stroke="#000" stroke-width="1.2"/>
<polygon points="120.6,234.8 122.6,236.8 120.6,238.8 118.6,236.8" fill="#fff" stroke="#333" stroke-width="0.7"/>
<polygon points="126.4,234.3 128.4,236.3 126.4,238.3 124.4,236.3" fill="#fff" stroke="#333" stroke-width="0.7"/>
<polygon points="132.3,233.9 134.3,235.9 132.3,237.9 130.3,235.9" fill="#fff" stroke="#333" stroke-width="0.7"/>
<polygon points="119.3,237.5 121.3,239.5 119.3,241.5 117.3,239.5" fill="#fff" stroke="#333" stroke-width="0.7"/>
<polygon points="124,239.1 126,241.1 124,243.1 122,241.1" fill="#fff" stroke="#333" stroke-width="0.7"/>
<polygon points="128.8,239.1 130.8,241.1 128.8,243.1 126.8,241.1" fill="#fff" stroke="#333" stroke-width="0.7"/>
<polygon points="133.6,237 135.6,239 133.6,241 131.6,239" fill="#fff" stroke="#333" stroke-width="0.7"/>
<polygon points="123.3,241.2 125.3,243.2 123.3,245.2 121.3,243.2" fill="#fff" stroke="#333" stroke-width="0.7"/>
<polygon points="129.6,241.2 131.6,243.2 129.6,245.2 127.6,243.2" fill="#fff" stroke="#333" stroke-width="0.7"/>
<polygon points="132.8,245 134.8,247 132.8,249 130.8,247" fill="#fff" stroke="#333" stroke-width="0.7"/>
<polygon points="120.6,246.6 122.6,248.6 120.6,250.6 118.6,248.6" fill="#fff" stroke="#333" stroke-width="0.7"/>
<polygon points="120.6,252.3 122.6,254.3 120.6,256.3 118.6,254.3" fill="#fff" stroke="#333" stroke-width="0.7"/>
<polygon points="123.7,251 125.7,253 123.7,255 121.7,253" fill="#fff" stroke="#333" stroke-width="0.7"/>
<polygon points="126.9,250.2 128.9,252.2 126.9,254.2 124.9,252.2" fill="#fff" stroke="#333" stroke-width="0.7"/>
<polygon points="129.6,252.3 131.6,254.3 129.6,256.3 127.6,254.3" fill="#fff" stroke="#333" stroke-width="0.7"/>
<polygon points="123.7,257.4 125.7,259.4 123.7,261.4 121.7,259.4" fill="#fff" stroke="#333" stroke-width="0.7"/>
<polygon points="126.9,256.6 128.9,258.6 126.9,260.6 124.9,258.6" fill="#fff" stroke="#333" stroke-width="0.7"/>
<polygon points="132.3,256.6 134.3,258.6 132.3,260.6 130.3,258.6" fill="#fff" stroke="#333" stroke-width="0.7"/>
<polygon points="129.1,263.7 131.1,265.7 129.1,267.7 127.1,265.7" fill="#fff" stroke="#333" stroke-width="0.7"/>
<polygon points="126.4,276.1 128.4,278.1 126.4,280.1 124.4,278.1" fill="#fff" stroke="#333" stroke-width="0.7"/>
<line x1="116.1" y1="245.4" x2="137.5" y2="245.4" stroke="#000" stroke-width="1.2"/>
<circle cx="153.9" cy="240.6" r="1.63" fill="#fff" stroke="#333" stroke-width="0.7"/>
<circle cx="158.2" cy="242.7" r="1.63" fill="#fff" stroke="#333" stroke-width="0.7"/>
<circle cx="162.5" cy="241.6" r="1.63" fill="#fff" stroke="#333" stroke-width="0.7"/>
<circle cx="149.8" cy="246.7" r="1.63" fill="#fff" stroke="#333" stroke-width="0.7"/>
<circle cx="153.9" cy="247" r="1.63" fill="#fff" stroke="#333" stroke-width="0.7"/>
<circle cx="158.2" cy="247.9" r="1.63" fill="#fff" stroke="#333" stroke-width="0.7"/>
<circle cx="162.5" cy="246.7" r="1.63" fill="#fff" stroke="#333" stroke-width="0.7"/>
<circle cx="166.9" cy="245.9" r="1.63" fill="#fff" stroke="#333" stroke-width="0.7"/>
<circle cx="158.2" cy="253" r="1.63" fill="#fff" stroke="#333" stroke-width="0.7"/>
<circle cx="151.8" cy="256.5" r="1.63" fill="#fff" stroke="#333" stroke-width="0.7"/>
<circle cx="156.1" cy="258.1" r="1.63" fill="#fff" stroke="#333" stroke-width="0.7"/>
<circle cx="160.2" cy="259.4" r="1.63" fill="#fff" stroke="#333" stroke-width="0.7"/>
<circle cx="164.5" cy="257" r="1.63" fill="#fff" stroke="#333" stroke-width="0.7"/>
<circle cx="158.2" cy="265.4" r="1.63" fill="#fff" stroke="#333" stroke-width="0.7"/>
<line x1="147.5" y1="247.5" x2="168.8" y2="247.5" stroke="#000" stroke-width="1.2"/>
<text x="188.7" y="171.1" font-size="12.5" font-weight="bold" fill="#000">E</text>
<line x1="225.8" y1="193.9" x2="225.8" y2="284.7" stroke="#000" stroke-width="1.4"/>
<line x1="225.2" y1="284.1" x2="502.7" y2="284.1" stroke="#000" stroke-width="1.3"/>
<line x1="222.7" y1="194.4" x2="225.8" y2="194.4" stroke="#000" stroke-width="1.1"/>
<text x="222.4" y="196.8" font-size="6.9" font-weight="bold" text-anchor="end" fill="#000">00</text>
<line x1="222.7" y1="216.8" x2="225.8" y2="216.8" stroke="#000" stroke-width="1.1"/>
<text x="222.4" y="219.2" font-size="6.9" font-weight="bold" text-anchor="end" fill="#000">75</text>
<line x1="222.7" y1="239.2" x2="225.8" y2="239.2" stroke="#000" stroke-width="1.1"/>
<text x="222.4" y="241.6" font-size="6.9" font-weight="bold" text-anchor="end" fill="#000">50</text>
<line x1="222.7" y1="261.7" x2="225.8" y2="261.7" stroke="#000" stroke-width="1.1"/>
<text x="222.4" y="264.1" font-size="6.9" font-weight="bold" text-anchor="end" fill="#000">25</text>
<line x1="222.7" y1="284.1" x2="225.8" y2="284.1" stroke="#000" stroke-width="1.1"/>
<text x="222.4" y="286.5" font-size="6.9" font-weight="bold" text-anchor="end" fill="#000">0</text>
<line x1="239.8" y1="284.1" x2="239.8" y2="287.1" stroke="#000" stroke-width="1.1"/>
<text x="240.8" y="301" font-size="8.5" font-weight="bold" text-anchor="middle" fill="#000">HIV</text>
<line x1="267.3" y1="284.1" x2="267.3" y2="287.1" stroke="#000" stroke-width="1.1"/>
<text x="268.3" y="301" font-size="8.5" font-weight="bold" text-anchor="middle" fill="#000">CMV</text>
<line x1="295.9" y1="284.1" x2="295.9" y2="287.1" stroke="#000" stroke-width="1.1"/>
<text x="296.9" y="301" font-size="8.5" font-weight="bold" text-anchor="middle" fill="#000">HIV</text>
<line x1="322.7" y1="284.1" x2="322.7" y2="287.1" stroke="#000" stroke-width="1.1"/>
<text x="323.7" y="301" font-size="8.5" font-weight="bold" text-anchor="middle" fill="#000">CMV</text>
<line x1="350.2" y1="284.1" x2="350.2" y2="287.1" stroke="#000" stroke-width="1.1"/>
<text x="351.2" y="301" font-size="8.5" font-weight="bold" text-anchor="middle" fill="#000">HIV</text>
<line x1="378.4" y1="284.1" x2="378.4" y2="287.1" stroke="#000" stroke-width="1.1"/>
<text x="379.4" y="301" font-size="8.5" font-weight="bold" text-anchor="middle" fill="#000">CMV</text>
<line x1="405.9" y1="284.1" x2="405.9" y2="287.1" stroke="#000" stroke-width="1.1"/>
<text x="406.9" y="301" font-size="8.5" font-weight="bold" text-anchor="middle" fill="#000">HIV</text>
<line x1="433.4" y1="284.1" x2="433.4" y2="287.1" stroke="#000" stroke-width="1.1"/>
<text x="434.4" y="301" font-size="8.5" font-weight="bold" text-anchor="middle" fill="#000">CMV</text>
<line x1="461.1" y1="284.1" x2="461.1" y2="287.1" stroke="#000" stroke-width="1.1"/>
<text x="462.1" y="301" font-size="8.5" font-weight="bold" text-anchor="middle" fill="#000">HIV</text>
<line x1="488.9" y1="284.1" x2="488.9" y2="287.1" stroke="#000" stroke-width="1.1"/>
<text x="489.9" y="301" font-size="8.5" font-weight="bold" text-anchor="middle" fill="#000">CMV</text>
<line x1="231.5" y1="307.3" x2="279" y2="307.3" stroke="#000" stroke-width="1.2"/>
<text x="254.6" y="321.8" font-size="8.5" font-weight="bold" text-anchor="middle" fill="#000">CCR7</text>
<line x1="287.8" y1="307.3" x2="334" y2="307.3" stroke="#000" stroke-width="1.2"/>
<text x="312" y="321.8" font-size="8.5" font-weight="bold" text-anchor="middle" fill="#000">CD45RA</text>
<line x1="341" y1="307.3" x2="388.5" y2="307.3" stroke="#000" stroke-width="1.2"/>
<text x="366.5" y="321.8" font-size="8.5" font-weight="bold" text-anchor="middle" fill="#000">CD27</text>
<line x1="395.8" y1="307.3" x2="445" y2="307.3" stroke="#000" stroke-width="1.2"/>
<text x="419.5" y="321.8" font-size="8.5" font-weight="bold" text-anchor="middle" fill="#000">CD127</text>
<line x1="452.4" y1="307.3" x2="501.7" y2="307.3" stroke="#000" stroke-width="1.2"/>
<text x="476.5" y="321.8" font-size="8.5" font-weight="bold" text-anchor="middle" fill="#000">CD95</text>
<text transform="translate(200.25,241.1) rotate(-90)" x="0" y="0" font-size="8" font-weight="bold" text-anchor="middle">% of marker+ in Tetramer+</text>
<text transform="translate(209.95,226) rotate(-90)" x="0" y="0" font-size="8" font-weight="bold" text-anchor="middle">cells</text>
<line x1="247.8" y1="186" x2="275.8" y2="186" stroke="#000" stroke-width="1.2"/>
<text x="261.8" y="178" font-size="8.2" font-weight="bold" text-anchor="middle" fill="#000">ns</text>
<line x1="295.2" y1="186" x2="323.4" y2="186" stroke="#000" stroke-width="1.2"/>
<text x="309.3" y="185.8" font-size="8.6" font-weight="bold" text-anchor="middle" fill="#000">***</text>
<line x1="351.5" y1="186" x2="379.8" y2="186" stroke="#000" stroke-width="1.2"/>
<text x="365.65" y="185.8" font-size="8.6" font-weight="bold" text-anchor="middle" fill="#000">***</text>
<line x1="405.2" y1="186" x2="433.4" y2="186" stroke="#000" stroke-width="1.2"/>
<text x="419.3" y="185.8" font-size="8.6" font-weight="bold" text-anchor="middle" fill="#000">***</text>
<line x1="461.4" y1="186" x2="489.5" y2="186" stroke="#000" stroke-width="1.2"/>
<text x="475.45" y="185.8" font-size="8.6" font-weight="bold" text-anchor="middle" fill="#000">***</text>
<polygon points="239.8,245.92 241.58,247.7 239.8,249.48 238.02,247.7" fill="#000"/>
<polygon points="234.5,263.22 236.28,265 234.5,266.78 232.72,265" fill="#000"/>
<polygon points="245.7,264.52 247.48,266.3 245.7,268.08 243.92,266.3" fill="#000"/>
<polygon points="239.8,266.62 241.58,268.4 239.8,270.18 238.02,268.4" fill="#000"/>
<polygon points="234.5,272.32 236.28,274.1 234.5,275.88 232.72,274.1" fill="#000"/>
<polygon points="237,274.72 238.78,276.5 237,278.28 235.22,276.5" fill="#000"/>
<polygon points="242,275.22 243.78,277 242,278.78 240.22,277" fill="#000"/>
<polygon points="239.8,277.72 241.58,279.5 239.8,281.28 238.02,279.5" fill="#000"/>
<polygon points="233,279.22 234.78,281 233,282.78 231.22,281" fill="#000"/>
<polygon points="246,279.22 247.78,281 246,282.78 244.22,281" fill="#000"/>
<polygon points="236,281.22 237.78,283 236,284.78 234.22,283" fill="#000"/>
<polygon points="243,281.22 244.78,283 243,284.78 241.22,283" fill="#000"/>
<polygon points="239.8,281.52 241.58,283.3 239.8,285.08 238.02,283.3" fill="#000"/>
<polygon points="235,277.22 236.78,279 235,280.78 233.22,279" fill="#000"/>
<polygon points="244.5,276.72 246.28,278.5 244.5,280.28 242.72,278.5" fill="#000"/>
<circle cx="263.5" cy="278.4" r="1.5" fill="#000"/>
<circle cx="272" cy="276.9" r="1.5" fill="#000"/>
<circle cx="263.5" cy="282" r="1.5" fill="#000"/>
<circle cx="267.3" cy="282" r="1.5" fill="#000"/>
<circle cx="271" cy="282" r="1.5" fill="#000"/>
<circle cx="275" cy="280.5" r="1.5" fill="#000"/>
<circle cx="259.6" cy="281.5" r="1.5" fill="#000"/>
<circle cx="267.3" cy="279.3" r="1.5" fill="#000"/>
<circle cx="269" cy="283.2" r="1.5" fill="#000"/>
<circle cx="261.5" cy="283.2" r="1.5" fill="#000"/>
<polygon points="295.9,258.22 297.68,260 295.9,261.78 294.12,260" fill="#000"/>
<polygon points="292.7,263.22 294.48,265 292.7,266.78 290.92,265" fill="#000"/>
<polygon points="298.6,264.52 300.38,266.3 298.6,268.08 296.82,266.3" fill="#000"/>
<polygon points="290.2,267.52 291.98,269.3 290.2,271.08 288.42,269.3" fill="#000"/>
<polygon points="295.9,268.72 297.68,270.5 295.9,272.28 294.12,270.5" fill="#000"/>
<polygon points="301.6,268.12 303.38,269.9 301.6,271.68 299.82,269.9" fill="#000"/>
<polygon points="295.9,274.72 297.68,276.5 295.9,278.28 294.12,276.5" fill="#000"/>
<polygon points="290,276.72 291.78,278.5 290,280.28 288.22,278.5" fill="#000"/>
<polygon points="301.8,276.72 303.58,278.5 301.8,280.28 300.02,278.5" fill="#000"/>
<polygon points="293,279.22 294.78,281 293,282.78 291.22,281" fill="#000"/>
<polygon points="298.8,279.22 300.58,281 298.8,282.78 297.02,281" fill="#000"/>
<polygon points="289,281.22 290.78,283 289,284.78 287.22,283" fill="#000"/>
<polygon points="295.9,281.22 297.68,283 295.9,284.78 294.12,283" fill="#000"/>
<polygon points="302.8,281.22 304.58,283 302.8,284.78 301.02,283" fill="#000"/>
<polygon points="292.5,275.02 294.28,276.8 292.5,278.58 290.72,276.8" fill="#000"/>
<polygon points="299.3,275.02 301.08,276.8 299.3,278.58 297.52,276.8" fill="#000"/>
<circle cx="322.7" cy="199.5" r="1.5" fill="#000"/>
<circle cx="318.5" cy="251.9" r="1.5" fill="#000"/>
<circle cx="322.7" cy="252.3" r="1.5" fill="#000"/>
<circle cx="327" cy="253.6" r="1.5" fill="#000"/>
<circle cx="317.7" cy="260.4" r="1.5" fill="#000"/>
<circle cx="327.6" cy="257.9" r="1.5" fill="#000"/>
<circle cx="322.7" cy="261.4" r="1.5" fill="#000"/>
<circle cx="316.4" cy="266.3" r="1.5" fill="#000"/>
<circle cx="320.2" cy="266.3" r="1.5" fill="#000"/>
<circle cx="324.4" cy="266.3" r="1.5" fill="#000"/>
<circle cx="329.1" cy="265.7" r="1.5" fill="#000"/>
<polygon points="345.2,196.82 346.98,198.6 345.2,200.38 343.42,198.6" fill="#000"/>
<polygon points="350.2,195.12 351.98,196.9 350.2,198.68 348.42,196.9" fill="#000"/>
<polygon points="354,198.32 355.78,200.1 354,201.88 352.22,200.1" fill="#000"/>
<polygon points="345.2,201.02 346.98,202.8 345.2,204.58 343.42,202.8" fill="#000"/>
<polygon points="350.2,202.52 351.98,204.3 350.2,206.08 348.42,204.3" fill="#000"/>
<polygon points="354,201.92 355.78,203.7 354,205.48 352.22,203.7" fill="#000"/>
<polygon points="343.9,205.32 345.68,207.1 343.9,208.88 342.12,207.1" fill="#000"/>
<polygon points="347.7,205.72 349.48,207.5 347.7,209.28 345.92,207.5" fill="#000"/>
<polygon points="351.9,204.62 353.68,206.4 351.9,208.18 350.12,206.4" fill="#000"/>
<polygon points="356.2,205.32 357.98,207.1 356.2,208.88 354.42,207.1" fill="#000"/>
<polygon points="345.2,208.92 346.98,210.7 345.2,212.48 343.42,210.7" fill="#000"/>
<polygon points="350.2,207.82 351.98,209.6 350.2,211.38 348.42,209.6" fill="#000"/>
<polygon points="355,208.22 356.78,210 355,211.78 353.22,210" fill="#000"/>
<polygon points="343.9,211.62 345.68,213.4 343.9,215.18 342.12,213.4" fill="#000"/>
<polygon points="347.7,212.02 349.48,213.8 347.7,215.58 345.92,213.8" fill="#000"/>
<polygon points="353,212.02 354.78,213.8 353,215.58 351.22,213.8" fill="#000"/>
<polygon points="357.4,211.62 359.18,213.4 357.4,215.18 355.62,213.4" fill="#000"/>
<polygon points="349.5,209.72 351.28,211.5 349.5,213.28 347.72,211.5" fill="#000"/>
<polygon points="343.9,217.32 345.68,219.1 343.9,220.88 342.12,219.1" fill="#000"/>
<polygon points="350.2,217.32 351.98,219.1 350.2,220.88 348.42,219.1" fill="#000"/>
<polygon points="356.2,217.32 357.98,219.1 356.2,220.88 354.42,219.1" fill="#000"/>
<polygon points="350.2,220.12 351.98,221.9 350.2,223.68 348.42,221.9" fill="#000"/>
<polygon points="345.2,227.32 346.98,229.1 345.2,230.88 343.42,229.1" fill="#000"/>
<polygon points="354,227.92 355.78,229.7 354,231.48 352.22,229.7" fill="#000"/>
<polygon points="347.7,232.12 349.48,233.9 347.7,235.68 345.92,233.9" fill="#000"/>
<polygon points="351.9,231.12 353.68,232.9 351.9,234.68 350.12,232.9" fill="#000"/>
<polygon points="347.7,234.92 349.48,236.7 347.7,238.48 345.92,236.7" fill="#000"/>
<polygon points="353.5,238.52 355.28,240.3 353.5,242.08 351.72,240.3" fill="#000"/>
<polygon points="353.5,242.12 355.28,243.9 353.5,245.68 351.72,243.9" fill="#000"/>
<polygon points="347.7,246.32 349.48,248.1 347.7,249.88 345.92,248.1" fill="#000"/>
<circle cx="378.4" cy="242.4" r="1.5" fill="#000"/>
<circle cx="374.1" cy="250.9" r="1.5" fill="#000"/>
<circle cx="382.6" cy="250.9" r="1.5" fill="#000"/>
<circle cx="378.4" cy="254.5" r="1.5" fill="#000"/>
<circle cx="378.4" cy="262.9" r="1.5" fill="#000"/>
<circle cx="372.7" cy="273.5" r="1.5" fill="#000"/>
<circle cx="381.1" cy="269.9" r="1.5" fill="#000"/>
<circle cx="376.9" cy="272.7" r="1.5" fill="#000"/>
<circle cx="373.5" cy="277.7" r="1.5" fill="#000"/>
<circle cx="379.4" cy="277.7" r="1.5" fill="#000"/>
<circle cx="384.7" cy="276.9" r="1.5" fill="#000"/>
<circle cx="376.9" cy="282.6" r="1.5" fill="#000"/>
<polygon points="405.9,228.52 407.68,230.3 405.9,232.08 404.12,230.3" fill="#000"/>
<polygon points="403.5,245.02 405.28,246.8 403.5,248.58 401.72,246.8" fill="#000"/>
<polygon points="408.6,247.52 410.38,249.3 408.6,251.08 406.82,249.3" fill="#000"/>
<polygon points="399.3,251.02 401.08,252.8 399.3,254.58 397.52,252.8" fill="#000"/>
<polygon points="412.8,250.62 414.58,252.4 412.8,254.18 411.02,252.4" fill="#000"/>
<polygon points="403.5,254.42 405.28,256.2 403.5,257.98 401.72,256.2" fill="#000"/>
<polygon points="407.3,253.02 409.08,254.8 407.3,256.58 405.52,254.8" fill="#000"/>
<polygon points="408.3,255.12 410.08,256.9 408.3,258.68 406.52,256.9" fill="#000"/>
<polygon points="404.8,253.92 406.58,255.7 404.8,257.48 403.02,255.7" fill="#000"/>
<polygon points="403.1,256.82 404.88,258.6 403.1,260.38 401.32,258.6" fill="#000"/>
<polygon points="411.4,258.62 413.18,260.4 411.4,262.18 409.62,260.4" fill="#000"/>
<polygon points="400.7,259.62 402.48,261.4 400.7,263.18 398.92,261.4" fill="#000"/>
<polygon points="406,260.62 407.78,262.4 406,264.18 404.22,262.4" fill="#000"/>
<polygon points="399,262.52 400.78,264.3 399,266.08 397.22,264.3" fill="#000"/>
<polygon points="412.8,264.12 414.58,265.9 412.8,267.68 411.02,265.9" fill="#000"/>
<polygon points="404.5,264.42 406.28,266.2 404.5,267.98 402.72,266.2" fill="#000"/>
<polygon points="406.6,264.42 408.38,266.2 406.6,267.98 404.82,266.2" fill="#000"/>
<polygon points="400.4,266.52 402.18,268.3 400.4,270.08 398.62,268.3" fill="#000"/>
<polygon points="403.1,266.22 404.88,268 403.1,269.78 401.32,268" fill="#000"/>
<polygon points="405.9,266.82 407.68,268.6 405.9,270.38 404.12,268.6" fill="#000"/>
<polygon points="408.6,266.22 410.38,268 408.6,269.78 406.82,268" fill="#000"/>
<polygon points="411.4,267.02 413.18,268.8 411.4,270.58 409.62,268.8" fill="#000"/>
<polygon points="403.1,269.22 404.88,271 403.1,272.78 401.32,271" fill="#000"/>
<polygon points="408.6,269.22 410.38,271 408.6,272.78 406.82,271" fill="#000"/>
<polygon points="403.1,272.02 404.88,273.8 403.1,275.58 401.32,273.8" fill="#000"/>
<polygon points="408.6,272.72 410.38,274.5 408.6,276.28 406.82,274.5" fill="#000"/>
<polygon points="405.9,280.82 407.68,282.6 405.9,284.38 404.12,282.6" fill="#000"/>
<circle cx="433.4" cy="221.9" r="1.5" fill="#000"/>
<circle cx="431.3" cy="231.8" r="1.5" fill="#000"/>
<circle cx="436.1" cy="232.5" r="1.5" fill="#000"/>
<circle cx="432.7" cy="237.5" r="1.5" fill="#000"/>
<circle cx="428.1" cy="242.4" r="1.5" fill="#000"/>
<circle cx="432.7" cy="241.3" r="1.5" fill="#000"/>
<circle cx="438.2" cy="241.8" r="1.5" fill="#000"/>
<circle cx="428.5" cy="247.7" r="1.5" fill="#000"/>
<circle cx="437.6" cy="247.7" r="1.5" fill="#000"/>
<circle cx="432.7" cy="250.9" r="1.5" fill="#000"/>
<circle cx="433.4" cy="266.7" r="1.5" fill="#000"/>
<polygon points="461.1,206.82 462.88,208.6 461.1,210.38 459.32,208.6" fill="#000"/>
<polygon points="458.7,220.32 460.48,222.1 458.7,223.88 456.92,222.1" fill="#000"/>
<polygon points="463.8,219.82 465.58,221.6 463.8,223.38 462.02,221.6" fill="#000"/>
<polygon points="466.7,221.42 468.48,223.2 466.7,224.98 464.92,223.2" fill="#000"/>
<polygon points="455.9,223.92 457.68,225.7 455.9,227.48 454.12,225.7" fill="#000"/>
<polygon points="459.8,225.52 461.58,227.3 459.8,229.08 458.02,227.3" fill="#000"/>
<polygon points="458.7,227.12 460.48,228.9 458.7,230.68 456.92,228.9" fill="#000"/>
<polygon points="462.2,227.72 463.98,229.5 462.2,231.28 460.42,229.5" fill="#000"/>
<polygon points="455.9,229.82 457.68,231.6 455.9,233.38 454.12,231.6" fill="#000"/>
<polygon points="460.6,229.32 462.38,231.1 460.6,232.88 458.82,231.1" fill="#000"/>
<polygon points="463.8,230.62 465.58,232.4 463.8,234.18 462.02,232.4" fill="#000"/>
<polygon points="467,231.42 468.78,233.2 467,234.98 465.22,233.2" fill="#000"/>
<polygon points="455.1,236.12 456.88,237.9 455.1,239.68 453.32,237.9" fill="#000"/>
<polygon points="458.3,235.02 460.08,236.8 458.3,238.58 456.52,236.8" fill="#000"/>
<polygon points="461.4,235.72 463.18,237.5 461.4,239.28 459.62,237.5" fill="#000"/>
<polygon points="465.4,235.72 467.18,237.5 465.4,239.28 463.62,237.5" fill="#000"/>
<polygon points="455.9,238.82 457.68,240.6 455.9,242.38 454.12,240.6" fill="#000"/>
<polygon points="459,238.22 460.78,240 459,241.78 457.22,240" fill="#000"/>
<polygon points="463,239.32 464.78,241.1 463,242.88 461.22,241.1" fill="#000"/>
<polygon points="466.7,240.42 468.48,242.2 466.7,243.98 464.92,242.2" fill="#000"/>
<polygon points="461.1,243.32 462.88,245.1 461.1,246.88 459.32,245.1" fill="#000"/>
<polygon points="461.1,258.42 462.88,260.2 461.1,261.98 459.32,260.2" fill="#000"/>
<polygon points="461.1,274.22 462.88,276 461.1,277.78 459.32,276" fill="#000"/>
<circle cx="488.9" cy="243.8" r="1.5" fill="#000"/>
<circle cx="486.8" cy="254.3" r="1.5" fill="#000"/>
<circle cx="490.8" cy="257" r="1.5" fill="#000"/>
<circle cx="488.9" cy="261.3" r="1.5" fill="#000"/>
<circle cx="488.9" cy="267.6" r="1.5" fill="#000"/>
<circle cx="486.8" cy="275.6" r="1.5" fill="#000"/>
<circle cx="490.8" cy="275.2" r="1.5" fill="#000"/>
<line x1="231.3" y1="278.4" x2="250" y2="278.4" stroke="#000" stroke-width="1.2"/>
<line x1="258.8" y1="281.1" x2="276.8" y2="281.1" stroke="#000" stroke-width="1.2"/>
<line x1="287.4" y1="278.8" x2="305" y2="278.8" stroke="#000" stroke-width="1.2"/>
<line x1="314.3" y1="254.5" x2="331.8" y2="254.5" stroke="#000" stroke-width="1.2"/>
<line x1="341.8" y1="216.4" x2="360" y2="216.4" stroke="#000" stroke-width="1.2"/>
<line x1="369.3" y1="266.7" x2="387.5" y2="266.7" stroke="#000" stroke-width="1.2"/>
<line x1="397.2" y1="261.9" x2="414.8" y2="261.9" stroke="#000" stroke-width="1.2"/>
<line x1="424.3" y1="243.5" x2="442.5" y2="243.5" stroke="#000" stroke-width="1.2"/>
<line x1="452.4" y1="235.6" x2="470.5" y2="235.6" stroke="#000" stroke-width="1.2"/>
<line x1="480" y1="262.2" x2="497.9" y2="262.2" stroke="#000" stroke-width="1.2"/>
<text x="276.4" y="351.1" font-size="12.5" font-weight="bold" fill="#000">F</text>
<line x1="334.5" y1="365.6" x2="334.5" y2="459.3" stroke="#000" stroke-width="1.4"/>
<line x1="333.9" y1="458.7" x2="471.5" y2="458.7" stroke="#000" stroke-width="1.3"/>
<line x1="331.4" y1="366.1" x2="334.5" y2="366.1" stroke="#000" stroke-width="1.1"/>
<text x="331.3" y="368.4" font-size="6.7" font-weight="bold" text-anchor="end" fill="#000">100</text>
<line x1="331.4" y1="389.3" x2="334.5" y2="389.3" stroke="#000" stroke-width="1.1"/>
<text x="331.3" y="391.6" font-size="6.7" font-weight="bold" text-anchor="end" fill="#000">75</text>
<line x1="331.4" y1="412.4" x2="334.5" y2="412.4" stroke="#000" stroke-width="1.1"/>
<text x="331.3" y="414.7" font-size="6.7" font-weight="bold" text-anchor="end" fill="#000">50</text>
<line x1="331.4" y1="435.6" x2="334.5" y2="435.6" stroke="#000" stroke-width="1.1"/>
<text x="331.3" y="437.9" font-size="6.7" font-weight="bold" text-anchor="end" fill="#000">25</text>
<line x1="331.4" y1="458.7" x2="334.5" y2="458.7" stroke="#000" stroke-width="1.1"/>
<text x="331.3" y="461" font-size="6.7" font-weight="bold" text-anchor="end" fill="#000">0</text>
<line x1="351.7" y1="458.7" x2="351.7" y2="461.7" stroke="#000" stroke-width="1.1"/>
<line x1="385.8" y1="458.7" x2="385.8" y2="461.7" stroke="#000" stroke-width="1.1"/>
<line x1="420" y1="458.7" x2="420" y2="461.7" stroke="#000" stroke-width="1.1"/>
<line x1="453.9" y1="458.7" x2="453.9" y2="461.7" stroke="#000" stroke-width="1.1"/>
<text x="355" y="476.9" font-size="8.8" font-weight="bold" text-anchor="middle" fill="#000">HIV P</text>
<text x="387.8" y="476.9" font-size="8.8" font-weight="bold" text-anchor="middle" fill="#000">CMV P</text>
<text x="421.8" y="476.9" font-size="8.8" font-weight="bold" text-anchor="middle" fill="#000">HIV C</text>
<text x="456.3" y="476.9" font-size="8.8" font-weight="bold" text-anchor="middle" fill="#000">CMV C</text>
<text transform="translate(309.76,412.6) rotate(-90)" x="0" y="0" font-size="8.9" font-weight="bold" text-anchor="middle">% of Tetramer+ CD27+ cells</text>
<line x1="353" y1="354.6" x2="422.5" y2="354.6" stroke="#000" stroke-width="1.3"/>
<text x="389.8" y="353.6" font-size="9.2" font-weight="bold" text-anchor="middle" fill="#000">**</text>
<polygon points="343.3,369.04 345.16,370.9 343.3,372.76 341.44,370.9" fill="#000"/>
<polygon points="348.8,370.04 350.66,371.9 348.8,373.76 346.94,371.9" fill="#000"/>
<polygon points="354.6,369.74 356.46,371.6 354.6,373.46 352.74,371.6" fill="#000"/>
<polygon points="360.1,367.14 361.96,369 360.1,370.86 358.24,369" fill="#000"/>
<polygon points="346.7,373.84 348.56,375.7 346.7,377.56 344.84,375.7" fill="#000"/>
<polygon points="357.2,374.34 359.06,376.2 357.2,378.06 355.34,376.2" fill="#000"/>
<polygon points="343.3,376.74 345.16,378.6 343.3,380.46 341.44,378.6" fill="#000"/>
<polygon points="351.7,376.24 353.56,378.1 351.7,379.96 349.84,378.1" fill="#000"/>
<polygon points="360.1,377.74 361.96,379.6 360.1,381.46 358.24,379.6" fill="#000"/>
<polygon points="348.8,379.54 350.66,381.4 348.8,383.26 346.94,381.4" fill="#000"/>
<polygon points="354.6,379.14 356.46,381 354.6,382.86 352.74,381" fill="#000"/>
<polygon points="347.4,382.04 349.26,383.9 347.4,385.76 345.54,383.9" fill="#000"/>
<polygon points="350.3,381.34 352.16,383.2 350.3,385.06 348.44,383.2" fill="#000"/>
<polygon points="346.7,384.24 348.56,386.1 346.7,387.96 344.84,386.1" fill="#000"/>
<polygon points="349.6,383.94 351.46,385.8 349.6,387.66 347.74,385.8" fill="#000"/>
<polygon points="357.5,384.24 359.36,386.1 357.5,387.96 355.64,386.1" fill="#000"/>
<polygon points="345.9,390.34 347.76,392.2 345.9,394.06 344.04,392.2" fill="#000"/>
<polygon points="351.7,388.84 353.56,390.7 351.7,392.56 349.84,390.7" fill="#000"/>
<polygon points="357.2,389.74 359.06,391.6 357.2,393.46 355.34,391.6" fill="#000"/>
<polygon points="351.7,392.64 353.56,394.5 351.7,396.36 349.84,394.5" fill="#000"/>
<polygon points="343.3,400.44 345.16,402.3 343.3,404.16 341.44,402.3" fill="#000"/>
<polygon points="354.6,400.44 356.46,402.3 354.6,404.16 352.74,402.3" fill="#000"/>
<polygon points="360.1,399.44 361.96,401.3 360.1,403.16 358.24,401.3" fill="#000"/>
<polygon points="348.8,404.84 350.66,406.7 348.8,408.56 346.94,406.7" fill="#000"/>
<polygon points="348.8,408.14 350.66,410 348.8,411.86 346.94,410" fill="#000"/>
<polygon points="354.6,411.44 356.46,413.3 354.6,415.16 352.74,413.3" fill="#000"/>
<polygon points="354.6,416.14 356.46,418 354.6,419.86 352.74,418" fill="#000"/>
<polygon points="348.8,419.74 350.66,421.6 348.8,423.46 346.94,421.6" fill="#000"/>
<polygon points="352.5,385.64 354.36,387.5 352.5,389.36 350.64,387.5" fill="#000"/>
<polygon points="355.5,382.64 357.36,384.5 355.5,386.36 353.64,384.5" fill="#000"/>
<line x1="340.1" y1="388.6" x2="363.3" y2="388.6" stroke="#000" stroke-width="1.2"/>
<circle cx="385.8" cy="415.8" r="1.6" fill="#000"/>
<circle cx="381.4" cy="424.5" r="1.6" fill="#000"/>
<circle cx="390.1" cy="424.5" r="1.6" fill="#000"/>
<circle cx="385.8" cy="428.1" r="1.6" fill="#000"/>
<circle cx="385.8" cy="436.8" r="1.6" fill="#000"/>
<circle cx="383.6" cy="444.3" r="1.6" fill="#000"/>
<circle cx="388" cy="443.3" r="1.6" fill="#000"/>
<circle cx="379.6" cy="448.1" r="1.6" fill="#000"/>
<circle cx="383.9" cy="451.6" r="1.6" fill="#000"/>
<circle cx="388" cy="452.8" r="1.6" fill="#000"/>
<circle cx="392.3" cy="451.3" r="1.6" fill="#000"/>
<circle cx="388" cy="454.5" r="1.6" fill="#000"/>
<circle cx="383.9" cy="457.4" r="1.6" fill="#000"/>
<line x1="374.6" y1="440.9" x2="397.4" y2="440.9" stroke="#000" stroke-width="1.2"/>
<polygon points="417.1,376.54 419.16,378.6 417.1,380.66 415.04,378.6" fill="#fff" stroke="#333" stroke-width="0.7"/>
<polygon points="422.9,379.64 424.96,381.7 422.9,383.76 420.84,381.7" fill="#fff" stroke="#333" stroke-width="0.7"/>
<polygon points="428.7,381.14 430.76,383.2 428.7,385.26 426.64,383.2" fill="#fff" stroke="#333" stroke-width="0.7"/>
<polygon points="411.6,382.24 413.66,384.3 411.6,386.36 409.54,384.3" fill="#fff" stroke="#333" stroke-width="0.7"/>
<polygon points="422.9,383.34 424.96,385.4 422.9,387.46 420.84,385.4" fill="#fff" stroke="#333" stroke-width="0.7"/>
<polygon points="417.1,385.44 419.16,387.5 417.1,389.56 415.04,387.5" fill="#fff" stroke="#333" stroke-width="0.7"/>
<polygon points="425.8,388.34 427.86,390.4 425.8,392.46 423.74,390.4" fill="#fff" stroke="#333" stroke-width="0.7"/>
<polygon points="414.5,390.94 416.56,393 414.5,395.06 412.44,393" fill="#fff" stroke="#333" stroke-width="0.7"/>
<polygon points="420,392.44 422.06,394.5 420,396.56 417.94,394.5" fill="#fff" stroke="#333" stroke-width="0.7"/>
<polygon points="411.6,399.64 413.66,401.7 411.6,403.76 409.54,401.7" fill="#fff" stroke="#333" stroke-width="0.7"/>
<polygon points="422.9,400.24 424.96,402.3 422.9,404.36 420.84,402.3" fill="#fff" stroke="#333" stroke-width="0.7"/>
<polygon points="428.7,398.54 430.76,400.6 428.7,402.66 426.64,400.6" fill="#fff" stroke="#333" stroke-width="0.7"/>
<polygon points="417.1,404.04 419.16,406.1 417.1,408.16 415.04,406.1" fill="#fff" stroke="#333" stroke-width="0.7"/>
<polygon points="417.1,411.84 419.16,413.9 417.1,415.96 415.04,413.9" fill="#fff" stroke="#333" stroke-width="0.7"/>
<polygon points="422.9,411.84 424.96,413.9 422.9,415.96 420.84,413.9" fill="#fff" stroke="#333" stroke-width="0.7"/>
<polygon points="414.5,417.34 416.56,419.4 414.5,421.46 412.44,419.4" fill="#fff" stroke="#333" stroke-width="0.7"/>
<polygon points="425.8,418.04 427.86,420.1 425.8,422.16 423.74,420.1" fill="#fff" stroke="#333" stroke-width="0.7"/>
<polygon points="420,421.74 422.06,423.8 420,425.86 417.94,423.8" fill="#fff" stroke="#333" stroke-width="0.7"/>
<polygon points="420,432.14 422.06,434.2 420,436.26 417.94,434.2" fill="#fff" stroke="#333" stroke-width="0.7"/>
<polygon points="420,449.94 422.06,452 420,454.06 417.94,452" fill="#fff" stroke="#333" stroke-width="0.7"/>
<line x1="409" y1="403.2" x2="431.6" y2="403.2" stroke="#000" stroke-width="1.2"/>
<circle cx="453.9" cy="414.8" r="1.66" fill="#fff" stroke="#333" stroke-width="0.7"/>
<circle cx="453.9" cy="419.7" r="1.66" fill="#fff" stroke="#333" stroke-width="0.7"/>
<circle cx="453.9" cy="427.8" r="1.66" fill="#fff" stroke="#333" stroke-width="0.7"/>
<circle cx="450" cy="436.1" r="1.66" fill="#fff" stroke="#333" stroke-width="0.7"/>
<circle cx="458.3" cy="438.3" r="1.66" fill="#fff" stroke="#333" stroke-width="0.7"/>
<circle cx="453.9" cy="440" r="1.66" fill="#fff" stroke="#333" stroke-width="0.7"/>
<circle cx="450" cy="444.3" r="1.66" fill="#fff" stroke="#333" stroke-width="0.7"/>
<circle cx="458.3" cy="444.1" r="1.66" fill="#fff" stroke="#333" stroke-width="0.7"/>
<circle cx="453.9" cy="447.7" r="1.66" fill="#fff" stroke="#333" stroke-width="0.7"/>
<circle cx="456.2" cy="448.7" r="1.66" fill="#fff" stroke="#333" stroke-width="0.7"/>
<circle cx="451.9" cy="453" r="1.66" fill="#fff" stroke="#333" stroke-width="0.7"/>
<line x1="443.2" y1="438" x2="465.2" y2="438" stroke="#000" stroke-width="1.2"/>
<text x="10.3" y="351.3" font-size="13.2" font-weight="bold" fill="#000">G</text>
<rect x="23.7" y="388" width="10.21" height="2.26" fill="#ee6946"/>
<rect x="33.86" y="388" width="10.21" height="2.26" fill="#feeaa0"/>
<rect x="44.03" y="388" width="10.21" height="2.26" fill="#feffc1"/>
<rect x="54.19" y="388" width="10.21" height="2.26" fill="#fb8b58"/>
<rect x="64.36" y="388" width="10.21" height="2.26" fill="#fda86b"/>
<rect x="74.52" y="388" width="10.21" height="2.26" fill="#feeba0"/>
<rect x="84.69" y="388" width="10.21" height="2.26" fill="#f2754c"/>
<rect x="94.85" y="388" width="10.21" height="2.26" fill="#fafdc7"/>
<rect x="105.02" y="388" width="10.21" height="2.26" fill="#e9f7e7"/>
<rect x="115.18" y="388" width="10.21" height="2.26" fill="#e0f3f8"/>
<rect x="125.35" y="388" width="10.21" height="2.26" fill="#e1f4f5"/>
<rect x="135.51" y="388" width="10.21" height="2.26" fill="#eff9dc"/>
<rect x="145.68" y="388" width="10.21" height="2.26" fill="#fcfec4"/>
<rect x="155.84" y="388" width="10.21" height="2.26" fill="#ddf1f7"/>
<rect x="166.01" y="388" width="10.21" height="2.26" fill="#e1f3f6"/>
<rect x="176.17" y="388" width="10.21" height="2.26" fill="#f0f9db"/>
<rect x="186.34" y="388" width="10.21" height="2.26" fill="#ebf7e4"/>
<rect x="23.7" y="390.21" width="10.21" height="2.26" fill="#fc9b62"/>
<rect x="33.86" y="390.21" width="10.21" height="2.26" fill="#fee496"/>
<rect x="44.03" y="390.21" width="10.21" height="2.26" fill="#fff1aa"/>
<rect x="54.19" y="390.21" width="10.21" height="2.26" fill="#fc955f"/>
<rect x="64.36" y="390.21" width="10.21" height="2.26" fill="#fc8f5a"/>
<rect x="74.52" y="390.21" width="10.21" height="2.26" fill="#feea9f"/>
<rect x="84.69" y="390.21" width="10.21" height="2.26" fill="#fca066"/>
<rect x="94.85" y="390.21" width="10.21" height="2.26" fill="#fffab7"/>
<rect x="105.02" y="390.21" width="10.21" height="2.26" fill="#f4fbd3"/>
<rect x="115.18" y="390.21" width="10.21" height="2.26" fill="#eff9dd"/>
<rect x="125.35" y="390.21" width="10.21" height="2.26" fill="#e7f6ec"/>
<rect x="135.51" y="390.21" width="10.21" height="2.26" fill="#ebf7e4"/>
<rect x="145.68" y="390.21" width="10.21" height="2.26" fill="#f6fccf"/>
<rect x="155.84" y="390.21" width="10.21" height="2.26" fill="#f2fad6"/>
<rect x="166.01" y="390.21" width="10.21" height="2.26" fill="#f0f9db"/>
<rect x="176.17" y="390.21" width="10.21" height="2.26" fill="#eef9de"/>
<rect x="186.34" y="390.21" width="10.21" height="2.26" fill="#dff2f7"/>
<rect x="23.7" y="392.43" width="10.21" height="2.26" fill="#e24c36"/>
<rect x="33.86" y="392.43" width="10.21" height="2.26" fill="#fdfec2"/>
<rect x="44.03" y="392.43" width="10.21" height="2.26" fill="#fed589"/>
<rect x="54.19" y="392.43" width="10.21" height="2.26" fill="#fdae6f"/>
<rect x="64.36" y="392.43" width="10.21" height="2.26" fill="#fee090"/>
<rect x="74.52" y="392.43" width="10.21" height="2.26" fill="#fff1a9"/>
<rect x="84.69" y="392.43" width="10.21" height="2.26" fill="#fc9a61"/>
<rect x="94.85" y="392.43" width="10.21" height="2.26" fill="#fff7b3"/>
<rect x="105.02" y="392.43" width="10.21" height="2.26" fill="#eef8de"/>
<rect x="115.18" y="392.43" width="10.21" height="2.26" fill="#f2fad6"/>
<rect x="125.35" y="392.43" width="10.21" height="2.26" fill="#edf8df"/>
<rect x="135.51" y="392.43" width="10.21" height="2.26" fill="#cce6f1"/>
<rect x="145.68" y="392.43" width="10.21" height="2.26" fill="#edf8e1"/>
<rect x="155.84" y="392.43" width="10.21" height="2.26" fill="#fafdc7"/>
<rect x="166.01" y="392.43" width="10.21" height="2.26" fill="#fcfec5"/>
<rect x="176.17" y="392.43" width="10.21" height="2.26" fill="#f9fdca"/>
<rect x="186.34" y="392.43" width="10.21" height="2.26" fill="#e4f4f1"/>
<rect x="23.7" y="394.64" width="10.21" height="2.26" fill="#f3774d"/>
<rect x="33.86" y="394.64" width="10.21" height="2.26" fill="#fee090"/>
<rect x="44.03" y="394.64" width="10.21" height="2.26" fill="#fff4af"/>
<rect x="54.19" y="394.64" width="10.21" height="2.26" fill="#fda96b"/>
<rect x="64.36" y="394.64" width="10.21" height="2.26" fill="#fdac6d"/>
<rect x="74.52" y="394.64" width="10.21" height="2.26" fill="#fdfec2"/>
<rect x="84.69" y="394.64" width="10.21" height="2.26" fill="#f06e48"/>
<rect x="94.85" y="394.64" width="10.21" height="2.26" fill="#f1fad9"/>
<rect x="105.02" y="394.64" width="10.21" height="2.26" fill="#f9fdc9"/>
<rect x="115.18" y="394.64" width="10.21" height="2.26" fill="#fff5b0"/>
<rect x="125.35" y="394.64" width="10.21" height="2.26" fill="#e2f4f4"/>
<rect x="135.51" y="394.64" width="10.21" height="2.26" fill="#e6f5ee"/>
<rect x="145.68" y="394.64" width="10.21" height="2.26" fill="#fff1aa"/>
<rect x="155.84" y="394.64" width="10.21" height="2.26" fill="#e6f5ec"/>
<rect x="166.01" y="394.64" width="10.21" height="2.26" fill="#eef8de"/>
<rect x="176.17" y="394.64" width="10.21" height="2.26" fill="#f2fad7"/>
<rect x="186.34" y="394.64" width="10.21" height="2.26" fill="#e3f4f3"/>
<rect x="23.7" y="396.85" width="10.21" height="2.26" fill="#ee6a46"/>
<rect x="33.86" y="396.85" width="10.21" height="2.26" fill="#fed88a"/>
<rect x="44.03" y="396.85" width="10.21" height="2.26" fill="#fed88b"/>
<rect x="54.19" y="396.85" width="10.21" height="2.26" fill="#fc8e5a"/>
<rect x="64.36" y="396.85" width="10.21" height="2.26" fill="#fdc981"/>
<rect x="74.52" y="396.85" width="10.21" height="2.26" fill="#fff5b0"/>
<rect x="84.69" y="396.85" width="10.21" height="2.26" fill="#fed387"/>
<rect x="94.85" y="396.85" width="10.21" height="2.26" fill="#fffcbb"/>
<rect x="105.02" y="396.85" width="10.21" height="2.26" fill="#e4f5f0"/>
<rect x="115.18" y="396.85" width="10.21" height="2.26" fill="#f9fdca"/>
<rect x="125.35" y="396.85" width="10.21" height="2.26" fill="#fffdbc"/>
<rect x="135.51" y="396.85" width="10.21" height="2.26" fill="#dcf1f7"/>
<rect x="145.68" y="396.85" width="10.21" height="2.26" fill="#f2fad8"/>
<rect x="155.84" y="396.85" width="10.21" height="2.26" fill="#edf8e1"/>
<rect x="166.01" y="396.85" width="10.21" height="2.26" fill="#fcfec4"/>
<rect x="176.17" y="396.85" width="10.21" height="2.26" fill="#e1f3f6"/>
<rect x="186.34" y="396.85" width="10.21" height="2.26" fill="#d3ebf3"/>
<rect x="23.7" y="399.07" width="10.21" height="2.26" fill="#fc965f"/>
<rect x="33.86" y="399.07" width="10.21" height="2.26" fill="#fee598"/>
<rect x="44.03" y="399.07" width="10.21" height="2.26" fill="#fffcbb"/>
<rect x="54.19" y="399.07" width="10.21" height="2.26" fill="#fdb372"/>
<rect x="64.36" y="399.07" width="10.21" height="2.26" fill="#fdc07b"/>
<rect x="74.52" y="399.07" width="10.21" height="2.26" fill="#feeaa0"/>
<rect x="84.69" y="399.07" width="10.21" height="2.26" fill="#fff1aa"/>
<rect x="94.85" y="399.07" width="10.21" height="2.26" fill="#fff3ad"/>
<rect x="105.02" y="399.07" width="10.21" height="2.26" fill="#fffbba"/>
<rect x="115.18" y="399.07" width="10.21" height="2.26" fill="#fdfec3"/>
<rect x="125.35" y="399.07" width="10.21" height="2.26" fill="#f0f9db"/>
<rect x="135.51" y="399.07" width="10.21" height="2.26" fill="#d5ecf4"/>
<rect x="145.68" y="399.07" width="10.21" height="2.26" fill="#f6fbd0"/>
<rect x="155.84" y="399.07" width="10.21" height="2.26" fill="#fffebe"/>
<rect x="166.01" y="399.07" width="10.21" height="2.26" fill="#f7fcce"/>
<rect x="176.17" y="399.07" width="10.21" height="2.26" fill="#eef9de"/>
<rect x="186.34" y="399.07" width="10.21" height="2.26" fill="#f5fbd1"/>
<rect x="23.7" y="401.28" width="10.21" height="2.26" fill="#e7573c"/>
<rect x="33.86" y="401.28" width="10.21" height="2.26" fill="#fda76a"/>
<rect x="44.03" y="401.28" width="10.21" height="2.26" fill="#fff5b0"/>
<rect x="54.19" y="401.28" width="10.21" height="2.26" fill="#fdc37d"/>
<rect x="64.36" y="401.28" width="10.21" height="2.26" fill="#f4794e"/>
<rect x="74.52" y="401.28" width="10.21" height="2.26" fill="#fee497"/>
<rect x="84.69" y="401.28" width="10.21" height="2.26" fill="#fca166"/>
<rect x="94.85" y="401.28" width="10.21" height="2.26" fill="#fafdc8"/>
<rect x="105.02" y="401.28" width="10.21" height="2.26" fill="#f3fad5"/>
<rect x="115.18" y="401.28" width="10.21" height="2.26" fill="#f1fad9"/>
<rect x="125.35" y="401.28" width="10.21" height="2.26" fill="#e7f6eb"/>
<rect x="135.51" y="401.28" width="10.21" height="2.26" fill="#c0deec"/>
<rect x="145.68" y="401.28" width="10.21" height="2.26" fill="#f7fccf"/>
<rect x="155.84" y="401.28" width="10.21" height="2.26" fill="#eff9dd"/>
<rect x="166.01" y="401.28" width="10.21" height="2.26" fill="#fffcba"/>
<rect x="176.17" y="401.28" width="10.21" height="2.26" fill="#cce6f1"/>
<rect x="186.34" y="401.28" width="10.21" height="2.26" fill="#c9e4f0"/>
<rect x="23.7" y="403.49" width="10.21" height="2.26" fill="#fc915c"/>
<rect x="33.86" y="403.49" width="10.21" height="2.26" fill="#fee090"/>
<rect x="44.03" y="403.49" width="10.21" height="2.26" fill="#feeca2"/>
<rect x="54.19" y="403.49" width="10.21" height="2.26" fill="#fdc27c"/>
<rect x="64.36" y="403.49" width="10.21" height="2.26" fill="#fdc27c"/>
<rect x="74.52" y="403.49" width="10.21" height="2.26" fill="#feeba0"/>
<rect x="84.69" y="403.49" width="10.21" height="2.26" fill="#feeda4"/>
<rect x="94.85" y="403.49" width="10.21" height="2.26" fill="#fafdc8"/>
<rect x="105.02" y="403.49" width="10.21" height="2.26" fill="#feefa6"/>
<rect x="115.18" y="403.49" width="10.21" height="2.26" fill="#fcfec4"/>
<rect x="125.35" y="403.49" width="10.21" height="2.26" fill="#eef8de"/>
<rect x="135.51" y="403.49" width="10.21" height="2.26" fill="#e9f6e7"/>
<rect x="145.68" y="403.49" width="10.21" height="2.26" fill="#fbfec6"/>
<rect x="155.84" y="403.49" width="10.21" height="2.26" fill="#e4f4f1"/>
<rect x="166.01" y="403.49" width="10.21" height="2.26" fill="#fffdbc"/>
<rect x="176.17" y="403.49" width="10.21" height="2.26" fill="#f3fad6"/>
<rect x="186.34" y="403.49" width="10.21" height="2.26" fill="#e2f4f5"/>
<rect x="23.7" y="405.71" width="10.21" height="2.26" fill="#fdb373"/>
<rect x="33.86" y="405.71" width="10.21" height="2.26" fill="#fff4ae"/>
<rect x="44.03" y="405.71" width="10.21" height="2.26" fill="#fff3ad"/>
<rect x="54.19" y="405.71" width="10.21" height="2.26" fill="#fed488"/>
<rect x="64.36" y="405.71" width="10.21" height="2.26" fill="#fdc780"/>
<rect x="74.52" y="405.71" width="10.21" height="2.26" fill="#feefa6"/>
<rect x="84.69" y="405.71" width="10.21" height="2.26" fill="#fff0a8"/>
<rect x="94.85" y="405.71" width="10.21" height="2.26" fill="#fafdc8"/>
<rect x="105.02" y="405.71" width="10.21" height="2.26" fill="#f6fcd0"/>
<rect x="115.18" y="405.71" width="10.21" height="2.26" fill="#e8f6ea"/>
<rect x="125.35" y="405.71" width="10.21" height="2.26" fill="#fbfdc6"/>
<rect x="135.51" y="405.71" width="10.21" height="2.26" fill="#f8fccd"/>
<rect x="145.68" y="405.71" width="10.21" height="2.26" fill="#fffab7"/>
<rect x="155.84" y="405.71" width="10.21" height="2.26" fill="#ebf7e3"/>
<rect x="166.01" y="405.71" width="10.21" height="2.26" fill="#edf8e1"/>
<rect x="176.17" y="405.71" width="10.21" height="2.26" fill="#f1fad9"/>
<rect x="186.34" y="405.71" width="10.21" height="2.26" fill="#dcf0f6"/>
<rect x="23.7" y="407.92" width="10.21" height="2.26" fill="#fc9861"/>
<rect x="33.86" y="407.92" width="10.21" height="2.26" fill="#fee89d"/>
<rect x="44.03" y="407.92" width="10.21" height="2.26" fill="#fdc880"/>
<rect x="54.19" y="407.92" width="10.21" height="2.26" fill="#f3764d"/>
<rect x="64.36" y="407.92" width="10.21" height="2.26" fill="#fb8a57"/>
<rect x="74.52" y="407.92" width="10.21" height="2.26" fill="#feefa7"/>
<rect x="84.69" y="407.92" width="10.21" height="2.26" fill="#fdbd79"/>
<rect x="94.85" y="407.92" width="10.21" height="2.26" fill="#f7fcce"/>
<rect x="105.02" y="407.92" width="10.21" height="2.26" fill="#fff8b4"/>
<rect x="115.18" y="407.92" width="10.21" height="2.26" fill="#ecf8e2"/>
<rect x="125.35" y="407.92" width="10.21" height="2.26" fill="#e7f6eb"/>
<rect x="135.51" y="407.92" width="10.21" height="2.26" fill="#e5f5ef"/>
<rect x="145.68" y="407.92" width="10.21" height="2.26" fill="#fffbb8"/>
<rect x="155.84" y="407.92" width="10.21" height="2.26" fill="#f7fccd"/>
<rect x="166.01" y="407.92" width="10.21" height="2.26" fill="#f6fccf"/>
<rect x="176.17" y="407.92" width="10.21" height="2.26" fill="#def2f7"/>
<rect x="186.34" y="407.92" width="10.21" height="2.26" fill="#e0f3f8"/>
<rect x="23.7" y="410.13" width="10.21" height="2.26" fill="#f06e48"/>
<rect x="33.86" y="410.13" width="10.21" height="2.26" fill="#fffcbb"/>
<rect x="44.03" y="410.13" width="10.21" height="2.26" fill="#fff5b0"/>
<rect x="54.19" y="410.13" width="10.21" height="2.26" fill="#fdca81"/>
<rect x="64.36" y="410.13" width="10.21" height="2.26" fill="#f8fccc"/>
<rect x="74.52" y="410.13" width="10.21" height="2.26" fill="#f3fad5"/>
<rect x="84.69" y="410.13" width="10.21" height="2.26" fill="#fee99e"/>
<rect x="94.85" y="410.13" width="10.21" height="2.26" fill="#fffebd"/>
<rect x="105.02" y="410.13" width="10.21" height="2.26" fill="#e1f4f5"/>
<rect x="115.18" y="410.13" width="10.21" height="2.26" fill="#eef8df"/>
<rect x="125.35" y="410.13" width="10.21" height="2.26" fill="#f2fad8"/>
<rect x="135.51" y="410.13" width="10.21" height="2.26" fill="#dcf0f6"/>
<rect x="145.68" y="410.13" width="10.21" height="2.26" fill="#edf8e1"/>
<rect x="155.84" y="410.13" width="10.21" height="2.26" fill="#f5fbd2"/>
<rect x="166.01" y="410.13" width="10.21" height="2.26" fill="#f9fdca"/>
<rect x="176.17" y="410.13" width="10.21" height="2.26" fill="#fee89d"/>
<rect x="186.34" y="410.13" width="10.21" height="2.26" fill="#f6fbd0"/>
<rect x="23.7" y="412.35" width="10.21" height="2.26" fill="#f57b4f"/>
<rect x="33.86" y="412.35" width="10.21" height="2.26" fill="#fc9a61"/>
<rect x="44.03" y="412.35" width="10.21" height="2.26" fill="#fed186"/>
<rect x="54.19" y="412.35" width="10.21" height="2.26" fill="#fee090"/>
<rect x="64.36" y="412.35" width="10.21" height="2.26" fill="#feefa7"/>
<rect x="74.52" y="412.35" width="10.21" height="2.26" fill="#fee496"/>
<rect x="84.69" y="412.35" width="10.21" height="2.26" fill="#fff0a8"/>
<rect x="94.85" y="412.35" width="10.21" height="2.26" fill="#def2f7"/>
<rect x="105.02" y="412.35" width="10.21" height="2.26" fill="#d3eaf3"/>
<rect x="115.18" y="412.35" width="10.21" height="2.26" fill="#e1f4f6"/>
<rect x="125.35" y="412.35" width="10.21" height="2.26" fill="#e0f3f7"/>
<rect x="135.51" y="412.35" width="10.21" height="2.26" fill="#f0f9db"/>
<rect x="145.68" y="412.35" width="10.21" height="2.26" fill="#fff3ad"/>
<rect x="155.84" y="412.35" width="10.21" height="2.26" fill="#fff7b3"/>
<rect x="166.01" y="412.35" width="10.21" height="2.26" fill="#f5fbd1"/>
<rect x="176.17" y="412.35" width="10.21" height="2.26" fill="#ffffc0"/>
<rect x="186.34" y="412.35" width="10.21" height="2.26" fill="#dcf1f7"/>
<rect x="23.7" y="414.56" width="10.21" height="2.26" fill="#f67e51"/>
<rect x="33.86" y="414.56" width="10.21" height="2.26" fill="#fed388"/>
<rect x="44.03" y="414.56" width="10.21" height="2.26" fill="#f9fdc9"/>
<rect x="54.19" y="414.56" width="10.21" height="2.26" fill="#fda569"/>
<rect x="64.36" y="414.56" width="10.21" height="2.26" fill="#fafdc8"/>
<rect x="74.52" y="414.56" width="10.21" height="2.26" fill="#fffbb9"/>
<rect x="84.69" y="414.56" width="10.21" height="2.26" fill="#fed98b"/>
<rect x="94.85" y="414.56" width="10.21" height="2.26" fill="#eff9dd"/>
<rect x="105.02" y="414.56" width="10.21" height="2.26" fill="#fdfec2"/>
<rect x="115.18" y="414.56" width="10.21" height="2.26" fill="#c7e3ef"/>
<rect x="125.35" y="414.56" width="10.21" height="2.26" fill="#f2fad6"/>
<rect x="135.51" y="414.56" width="10.21" height="2.26" fill="#f6fccf"/>
<rect x="145.68" y="414.56" width="10.21" height="2.26" fill="#f9fdca"/>
<rect x="155.84" y="414.56" width="10.21" height="2.26" fill="#fdfec3"/>
<rect x="166.01" y="414.56" width="10.21" height="2.26" fill="#e9f6e8"/>
<rect x="176.17" y="414.56" width="10.21" height="2.26" fill="#fee090"/>
<rect x="186.34" y="414.56" width="10.21" height="2.26" fill="#e6f5ed"/>
<rect x="23.7" y="416.77" width="10.21" height="2.26" fill="#fdac6e"/>
<rect x="33.86" y="416.77" width="10.21" height="2.26" fill="#fee091"/>
<rect x="44.03" y="416.77" width="10.21" height="2.26" fill="#fffcba"/>
<rect x="54.19" y="416.77" width="10.21" height="2.26" fill="#fc9d64"/>
<rect x="64.36" y="416.77" width="10.21" height="2.26" fill="#feeea6"/>
<rect x="74.52" y="416.77" width="10.21" height="2.26" fill="#fee89c"/>
<rect x="84.69" y="416.77" width="10.21" height="2.26" fill="#fdca81"/>
<rect x="94.85" y="416.77" width="10.21" height="2.26" fill="#eef8df"/>
<rect x="105.02" y="416.77" width="10.21" height="2.26" fill="#ebf7e4"/>
<rect x="115.18" y="416.77" width="10.21" height="2.26" fill="#e9f7e7"/>
<rect x="125.35" y="416.77" width="10.21" height="2.26" fill="#e7f6eb"/>
<rect x="135.51" y="416.77" width="10.21" height="2.26" fill="#e7f6eb"/>
<rect x="145.68" y="416.77" width="10.21" height="2.26" fill="#fffbb9"/>
<rect x="155.84" y="416.77" width="10.21" height="2.26" fill="#edf8df"/>
<rect x="166.01" y="416.77" width="10.21" height="2.26" fill="#f9fdcb"/>
<rect x="176.17" y="416.77" width="10.21" height="2.26" fill="#fee395"/>
<rect x="186.34" y="416.77" width="10.21" height="2.26" fill="#d6edf4"/>
<rect x="23.7" y="418.99" width="10.21" height="2.26" fill="#e6553b"/>
<rect x="33.86" y="418.99" width="10.21" height="2.26" fill="#fc9a61"/>
<rect x="44.03" y="418.99" width="10.21" height="2.26" fill="#fff8b4"/>
<rect x="54.19" y="418.99" width="10.21" height="2.26" fill="#fdb574"/>
<rect x="64.36" y="418.99" width="10.21" height="2.26" fill="#feefa7"/>
<rect x="74.52" y="418.99" width="10.21" height="2.26" fill="#fff5b0"/>
<rect x="84.69" y="418.99" width="10.21" height="2.26" fill="#fdb070"/>
<rect x="94.85" y="418.99" width="10.21" height="2.26" fill="#f2fad7"/>
<rect x="105.02" y="418.99" width="10.21" height="2.26" fill="#f9fdca"/>
<rect x="115.18" y="418.99" width="10.21" height="2.26" fill="#fff8b4"/>
<rect x="125.35" y="418.99" width="10.21" height="2.26" fill="#e9f6e8"/>
<rect x="135.51" y="418.99" width="10.21" height="2.26" fill="#ecf7e3"/>
<rect x="145.68" y="418.99" width="10.21" height="2.26" fill="#fdfec3"/>
<rect x="155.84" y="418.99" width="10.21" height="2.26" fill="#fffdbc"/>
<rect x="166.01" y="418.99" width="10.21" height="2.26" fill="#f4fbd3"/>
<rect x="176.17" y="418.99" width="10.21" height="2.26" fill="#fee191"/>
<rect x="186.34" y="418.99" width="10.21" height="2.26" fill="#edf8e0"/>
<rect x="23.7" y="421.2" width="10.21" height="2.26" fill="#e85c3e"/>
<rect x="33.86" y="421.2" width="10.21" height="2.26" fill="#fecc83"/>
<rect x="44.03" y="421.2" width="10.21" height="2.26" fill="#fff7b3"/>
<rect x="54.19" y="421.2" width="10.21" height="2.26" fill="#f07049"/>
<rect x="64.36" y="421.2" width="10.21" height="2.26" fill="#fed589"/>
<rect x="74.52" y="421.2" width="10.21" height="2.26" fill="#fff4ae"/>
<rect x="84.69" y="421.2" width="10.21" height="2.26" fill="#fed68a"/>
<rect x="94.85" y="421.2" width="10.21" height="2.26" fill="#e0f3f8"/>
<rect x="105.02" y="421.2" width="10.21" height="2.26" fill="#bcdbeb"/>
<rect x="115.18" y="421.2" width="10.21" height="2.26" fill="#f0f9db"/>
<rect x="125.35" y="421.2" width="10.21" height="2.26" fill="#e0f3f8"/>
<rect x="135.51" y="421.2" width="10.21" height="2.26" fill="#e6f5ee"/>
<rect x="145.68" y="421.2" width="10.21" height="2.26" fill="#fffebd"/>
<rect x="155.84" y="421.2" width="10.21" height="2.26" fill="#eff9dc"/>
<rect x="166.01" y="421.2" width="10.21" height="2.26" fill="#f7fcce"/>
<rect x="176.17" y="421.2" width="10.21" height="2.26" fill="#fee89c"/>
<rect x="186.34" y="421.2" width="10.21" height="2.26" fill="#d3eaf3"/>
<rect x="23.7" y="423.41" width="10.21" height="2.26" fill="#de4130"/>
<rect x="33.86" y="423.41" width="10.21" height="2.26" fill="#fecd84"/>
<rect x="44.03" y="423.41" width="10.21" height="2.26" fill="#fecf85"/>
<rect x="54.19" y="423.41" width="10.21" height="2.26" fill="#fdc780"/>
<rect x="64.36" y="423.41" width="10.21" height="2.26" fill="#fee191"/>
<rect x="74.52" y="423.41" width="10.21" height="2.26" fill="#feeea6"/>
<rect x="84.69" y="423.41" width="10.21" height="2.26" fill="#fee79a"/>
<rect x="94.85" y="423.41" width="10.21" height="2.26" fill="#a9cfe4"/>
<rect x="105.02" y="423.41" width="10.21" height="2.26" fill="#fcfec4"/>
<rect x="115.18" y="423.41" width="10.21" height="2.26" fill="#e3f4f2"/>
<rect x="125.35" y="423.41" width="10.21" height="2.26" fill="#e2f4f5"/>
<rect x="135.51" y="423.41" width="10.21" height="2.26" fill="#eef9dd"/>
<rect x="145.68" y="423.41" width="10.21" height="2.26" fill="#fcfec4"/>
<rect x="155.84" y="423.41" width="10.21" height="2.26" fill="#f7fccd"/>
<rect x="166.01" y="423.41" width="10.21" height="2.26" fill="#f1fad8"/>
<rect x="176.17" y="423.41" width="10.21" height="2.26" fill="#fffbb8"/>
<rect x="186.34" y="423.41" width="10.21" height="2.26" fill="#e9f6e8"/>
<rect x="23.7" y="425.63" width="10.21" height="2.26" fill="#fc8f5a"/>
<rect x="33.86" y="425.63" width="10.21" height="2.26" fill="#fdc880"/>
<rect x="44.03" y="425.63" width="10.21" height="2.26" fill="#fee698"/>
<rect x="54.19" y="425.63" width="10.21" height="2.26" fill="#fdc37d"/>
<rect x="64.36" y="425.63" width="10.21" height="2.26" fill="#fff3ad"/>
<rect x="74.52" y="425.63" width="10.21" height="2.26" fill="#fdba77"/>
<rect x="84.69" y="425.63" width="10.21" height="2.26" fill="#fffbb8"/>
<rect x="94.85" y="425.63" width="10.21" height="2.26" fill="#e4f4f1"/>
<rect x="105.02" y="425.63" width="10.21" height="2.26" fill="#e1f3f6"/>
<rect x="115.18" y="425.63" width="10.21" height="2.26" fill="#e6f5ec"/>
<rect x="125.35" y="425.63" width="10.21" height="2.26" fill="#f2fad6"/>
<rect x="135.51" y="425.63" width="10.21" height="2.26" fill="#edf8e1"/>
<rect x="145.68" y="425.63" width="10.21" height="2.26" fill="#feeca3"/>
<rect x="155.84" y="425.63" width="10.21" height="2.26" fill="#fff5b0"/>
<rect x="166.01" y="425.63" width="10.21" height="2.26" fill="#e1f4f5"/>
<rect x="176.17" y="425.63" width="10.21" height="2.26" fill="#f2fad7"/>
<rect x="186.34" y="425.63" width="10.21" height="2.26" fill="#c7e2ef"/>
<rect x="23.7" y="427.84" width="10.21" height="2.26" fill="#fee496"/>
<rect x="33.86" y="427.84" width="10.21" height="2.26" fill="#fee293"/>
<rect x="44.03" y="427.84" width="10.21" height="2.26" fill="#fee698"/>
<rect x="54.19" y="427.84" width="10.21" height="2.26" fill="#fa8957"/>
<rect x="64.36" y="427.84" width="10.21" height="2.26" fill="#fee99e"/>
<rect x="74.52" y="427.84" width="10.21" height="2.26" fill="#fee294"/>
<rect x="84.69" y="427.84" width="10.21" height="2.26" fill="#fee99d"/>
<rect x="94.85" y="427.84" width="10.21" height="2.26" fill="#daeff6"/>
<rect x="105.02" y="427.84" width="10.21" height="2.26" fill="#e2f4f5"/>
<rect x="115.18" y="427.84" width="10.21" height="2.26" fill="#e3f4f3"/>
<rect x="125.35" y="427.84" width="10.21" height="2.26" fill="#feffc0"/>
<rect x="135.51" y="427.84" width="10.21" height="2.26" fill="#e9f7e7"/>
<rect x="145.68" y="427.84" width="10.21" height="2.26" fill="#fff5b0"/>
<rect x="155.84" y="427.84" width="10.21" height="2.26" fill="#eef9dd"/>
<rect x="166.01" y="427.84" width="10.21" height="2.26" fill="#fff8b5"/>
<rect x="176.17" y="427.84" width="10.21" height="2.26" fill="#d9eef5"/>
<rect x="186.34" y="427.84" width="10.21" height="2.26" fill="#e4f4f1"/>
<rect x="23.7" y="430.05" width="10.21" height="2.26" fill="#feeea5"/>
<rect x="33.86" y="430.05" width="10.21" height="2.26" fill="#fee79b"/>
<rect x="44.03" y="430.05" width="10.21" height="2.26" fill="#f4fbd2"/>
<rect x="54.19" y="430.05" width="10.21" height="2.26" fill="#fee090"/>
<rect x="64.36" y="430.05" width="10.21" height="2.26" fill="#fff0a8"/>
<rect x="74.52" y="430.05" width="10.21" height="2.26" fill="#fdc17b"/>
<rect x="84.69" y="430.05" width="10.21" height="2.26" fill="#fff8b4"/>
<rect x="94.85" y="430.05" width="10.21" height="2.26" fill="#fcfec5"/>
<rect x="105.02" y="430.05" width="10.21" height="2.26" fill="#eff9dd"/>
<rect x="115.18" y="430.05" width="10.21" height="2.26" fill="#fff9b7"/>
<rect x="125.35" y="430.05" width="10.21" height="2.26" fill="#f6fbd0"/>
<rect x="135.51" y="430.05" width="10.21" height="2.26" fill="#e4f5f0"/>
<rect x="145.68" y="430.05" width="10.21" height="2.26" fill="#fbfdc7"/>
<rect x="155.84" y="430.05" width="10.21" height="2.26" fill="#fff5af"/>
<rect x="166.01" y="430.05" width="10.21" height="2.26" fill="#e9f6e8"/>
<rect x="176.17" y="430.05" width="10.21" height="2.26" fill="#ecf8e1"/>
<rect x="186.34" y="430.05" width="10.21" height="2.26" fill="#eaf7e5"/>
<rect x="23.7" y="432.27" width="10.21" height="2.26" fill="#fecc83"/>
<rect x="33.86" y="432.27" width="10.21" height="2.26" fill="#fffbb9"/>
<rect x="44.03" y="432.27" width="10.21" height="2.26" fill="#fdaf6f"/>
<rect x="54.19" y="432.27" width="10.21" height="2.26" fill="#fc9e64"/>
<rect x="64.36" y="432.27" width="10.21" height="2.26" fill="#fee293"/>
<rect x="74.52" y="432.27" width="10.21" height="2.26" fill="#fc8f5a"/>
<rect x="84.69" y="432.27" width="10.21" height="2.26" fill="#fed186"/>
<rect x="94.85" y="432.27" width="10.21" height="2.26" fill="#d2eaf3"/>
<rect x="105.02" y="432.27" width="10.21" height="2.26" fill="#e2f4f4"/>
<rect x="115.18" y="432.27" width="10.21" height="2.26" fill="#fdfec3"/>
<rect x="125.35" y="432.27" width="10.21" height="2.26" fill="#d0e8f2"/>
<rect x="135.51" y="432.27" width="10.21" height="2.26" fill="#b0d3e6"/>
<rect x="145.68" y="432.27" width="10.21" height="2.26" fill="#feffc0"/>
<rect x="155.84" y="432.27" width="10.21" height="2.26" fill="#f5fbd2"/>
<rect x="166.01" y="432.27" width="10.21" height="2.26" fill="#f9fdc9"/>
<rect x="176.17" y="432.27" width="10.21" height="2.26" fill="#feffc1"/>
<rect x="186.34" y="432.27" width="10.21" height="2.26" fill="#bedceb"/>
<rect x="23.7" y="434.48" width="10.21" height="2.26" fill="#fee294"/>
<rect x="33.86" y="434.48" width="10.21" height="2.26" fill="#fee192"/>
<rect x="44.03" y="434.48" width="10.21" height="2.26" fill="#fee090"/>
<rect x="54.19" y="434.48" width="10.21" height="2.26" fill="#fdc37d"/>
<rect x="64.36" y="434.48" width="10.21" height="2.26" fill="#fff8b5"/>
<rect x="74.52" y="434.48" width="10.21" height="2.26" fill="#fda76a"/>
<rect x="84.69" y="434.48" width="10.21" height="2.26" fill="#fff0a9"/>
<rect x="94.85" y="434.48" width="10.21" height="2.26" fill="#f6fbd0"/>
<rect x="105.02" y="434.48" width="10.21" height="2.26" fill="#e4f5f0"/>
<rect x="115.18" y="434.48" width="10.21" height="2.26" fill="#ecf8e2"/>
<rect x="125.35" y="434.48" width="10.21" height="2.26" fill="#e2f4f4"/>
<rect x="135.51" y="434.48" width="10.21" height="2.26" fill="#feffc0"/>
<rect x="145.68" y="434.48" width="10.21" height="2.26" fill="#feffc0"/>
<rect x="155.84" y="434.48" width="10.21" height="2.26" fill="#eff9dd"/>
<rect x="166.01" y="434.48" width="10.21" height="2.26" fill="#fbfdc6"/>
<rect x="176.17" y="434.48" width="10.21" height="2.26" fill="#ecf7e3"/>
<rect x="186.34" y="434.48" width="10.21" height="2.26" fill="#e5f5ef"/>
<rect x="23.7" y="436.69" width="10.21" height="2.26" fill="#fee395"/>
<rect x="33.86" y="436.69" width="10.21" height="2.26" fill="#fee292"/>
<rect x="44.03" y="436.69" width="10.21" height="2.26" fill="#fedb8d"/>
<rect x="54.19" y="436.69" width="10.21" height="2.26" fill="#ef6c47"/>
<rect x="64.36" y="436.69" width="10.21" height="2.26" fill="#fece84"/>
<rect x="74.52" y="436.69" width="10.21" height="2.26" fill="#fa8856"/>
<rect x="84.69" y="436.69" width="10.21" height="2.26" fill="#fed88b"/>
<rect x="94.85" y="436.69" width="10.21" height="2.26" fill="#e8f6e9"/>
<rect x="105.02" y="436.69" width="10.21" height="2.26" fill="#cde7f1"/>
<rect x="115.18" y="436.69" width="10.21" height="2.26" fill="#f4fbd4"/>
<rect x="125.35" y="436.69" width="10.21" height="2.26" fill="#e9f7e7"/>
<rect x="135.51" y="436.69" width="10.21" height="2.26" fill="#eff9dc"/>
<rect x="145.68" y="436.69" width="10.21" height="2.26" fill="#f1fad9"/>
<rect x="155.84" y="436.69" width="10.21" height="2.26" fill="#e6f5ec"/>
<rect x="166.01" y="436.69" width="10.21" height="2.26" fill="#e5f5ef"/>
<rect x="176.17" y="436.69" width="10.21" height="2.26" fill="#f6fbd0"/>
<rect x="186.34" y="436.69" width="10.21" height="2.26" fill="#cae5f0"/>
<rect x="23.7" y="438.91" width="10.21" height="2.26" fill="#feffc1"/>
<rect x="33.86" y="438.91" width="10.21" height="2.26" fill="#fff3ad"/>
<rect x="44.03" y="438.91" width="10.21" height="2.26" fill="#e7f6ec"/>
<rect x="54.19" y="438.91" width="10.21" height="2.26" fill="#f98454"/>
<rect x="64.36" y="438.91" width="10.21" height="2.26" fill="#feeea5"/>
<rect x="74.52" y="438.91" width="10.21" height="2.26" fill="#fda669"/>
<rect x="84.69" y="438.91" width="10.21" height="2.26" fill="#fff1aa"/>
<rect x="94.85" y="438.91" width="10.21" height="2.26" fill="#d9eff6"/>
<rect x="105.02" y="438.91" width="10.21" height="2.26" fill="#f1fad8"/>
<rect x="115.18" y="438.91" width="10.21" height="2.26" fill="#eff9dc"/>
<rect x="125.35" y="438.91" width="10.21" height="2.26" fill="#f3fad5"/>
<rect x="135.51" y="438.91" width="10.21" height="2.26" fill="#fdfec3"/>
<rect x="145.68" y="438.91" width="10.21" height="2.26" fill="#fffab7"/>
<rect x="155.84" y="438.91" width="10.21" height="2.26" fill="#ddf1f7"/>
<rect x="166.01" y="438.91" width="10.21" height="2.26" fill="#eaf7e6"/>
<rect x="176.17" y="438.91" width="10.21" height="2.26" fill="#e1f3f7"/>
<rect x="186.34" y="438.91" width="10.21" height="2.26" fill="#f5fbd1"/>
<rect x="23.7" y="441.12" width="10.21" height="2.26" fill="#eef8de"/>
<rect x="33.86" y="441.12" width="10.21" height="2.26" fill="#f6fcd0"/>
<rect x="44.03" y="441.12" width="10.21" height="2.26" fill="#fbfec6"/>
<rect x="54.19" y="441.12" width="10.21" height="2.26" fill="#fdc27c"/>
<rect x="64.36" y="441.12" width="10.21" height="2.26" fill="#fffcba"/>
<rect x="74.52" y="441.12" width="10.21" height="2.26" fill="#fc9c63"/>
<rect x="84.69" y="441.12" width="10.21" height="2.26" fill="#fbfec6"/>
<rect x="94.85" y="441.12" width="10.21" height="2.26" fill="#e0f3f7"/>
<rect x="105.02" y="441.12" width="10.21" height="2.26" fill="#f4fbd4"/>
<rect x="115.18" y="441.12" width="10.21" height="2.26" fill="#f5fbd2"/>
<rect x="125.35" y="441.12" width="10.21" height="2.26" fill="#e9f6e8"/>
<rect x="135.51" y="441.12" width="10.21" height="2.26" fill="#fdfec2"/>
<rect x="145.68" y="441.12" width="10.21" height="2.26" fill="#feeea6"/>
<rect x="155.84" y="441.12" width="10.21" height="2.26" fill="#fff3ad"/>
<rect x="166.01" y="441.12" width="10.21" height="2.26" fill="#f7fcce"/>
<rect x="176.17" y="441.12" width="10.21" height="2.26" fill="#f4fbd3"/>
<rect x="186.34" y="441.12" width="10.21" height="2.26" fill="#fff5b0"/>
<rect x="23.7" y="443.33" width="10.21" height="2.26" fill="#ee6a46"/>
<rect x="33.86" y="443.33" width="10.21" height="2.26" fill="#fff6b2"/>
<rect x="44.03" y="443.33" width="10.21" height="2.26" fill="#fee89d"/>
<rect x="54.19" y="443.33" width="10.21" height="2.26" fill="#fee699"/>
<rect x="64.36" y="443.33" width="10.21" height="2.26" fill="#fee090"/>
<rect x="74.52" y="443.33" width="10.21" height="2.26" fill="#ee6a46"/>
<rect x="84.69" y="443.33" width="10.21" height="2.26" fill="#fedc8d"/>
<rect x="94.85" y="443.33" width="10.21" height="2.26" fill="#f5fbd1"/>
<rect x="105.02" y="443.33" width="10.21" height="2.26" fill="#c6e2ee"/>
<rect x="115.18" y="443.33" width="10.21" height="2.26" fill="#edf8e1"/>
<rect x="125.35" y="443.33" width="10.21" height="2.26" fill="#d3eaf3"/>
<rect x="135.51" y="443.33" width="10.21" height="2.26" fill="#f1f9d9"/>
<rect x="145.68" y="443.33" width="10.21" height="2.26" fill="#fffcbb"/>
<rect x="155.84" y="443.33" width="10.21" height="2.26" fill="#e4f5f0"/>
<rect x="166.01" y="443.33" width="10.21" height="2.26" fill="#eaf7e5"/>
<rect x="176.17" y="443.33" width="10.21" height="2.26" fill="#e6f5ed"/>
<rect x="186.34" y="443.33" width="10.21" height="2.26" fill="#fee394"/>
<rect x="23.7" y="445.55" width="10.21" height="2.26" fill="#fc8c58"/>
<rect x="33.86" y="445.55" width="10.21" height="2.26" fill="#feeda4"/>
<rect x="44.03" y="445.55" width="10.21" height="2.26" fill="#feea9f"/>
<rect x="54.19" y="445.55" width="10.21" height="2.26" fill="#fdb573"/>
<rect x="64.36" y="445.55" width="10.21" height="2.26" fill="#fffab7"/>
<rect x="74.52" y="445.55" width="10.21" height="2.26" fill="#fdb976"/>
<rect x="84.69" y="445.55" width="10.21" height="2.26" fill="#e24c36"/>
<rect x="94.85" y="445.55" width="10.21" height="2.26" fill="#edf8e1"/>
<rect x="105.02" y="445.55" width="10.21" height="2.26" fill="#e5f5ee"/>
<rect x="115.18" y="445.55" width="10.21" height="2.26" fill="#e1f3f6"/>
<rect x="125.35" y="445.55" width="10.21" height="2.26" fill="#edf8e1"/>
<rect x="135.51" y="445.55" width="10.21" height="2.26" fill="#eef8df"/>
<rect x="145.68" y="445.55" width="10.21" height="2.26" fill="#f4fbd3"/>
<rect x="155.84" y="445.55" width="10.21" height="2.26" fill="#ffffbf"/>
<rect x="166.01" y="445.55" width="10.21" height="2.26" fill="#eef8df"/>
<rect x="176.17" y="445.55" width="10.21" height="2.26" fill="#ebf7e3"/>
<rect x="186.34" y="445.55" width="10.21" height="2.26" fill="#fff5af"/>
<rect x="23.7" y="447.76" width="10.21" height="2.26" fill="#fdc880"/>
<rect x="33.86" y="447.76" width="10.21" height="2.26" fill="#fff2ab"/>
<rect x="44.03" y="447.76" width="10.21" height="2.26" fill="#fff1a9"/>
<rect x="54.19" y="447.76" width="10.21" height="2.26" fill="#fc9961"/>
<rect x="64.36" y="447.76" width="10.21" height="2.26" fill="#fee598"/>
<rect x="74.52" y="447.76" width="10.21" height="2.26" fill="#f3764d"/>
<rect x="84.69" y="447.76" width="10.21" height="2.26" fill="#f1714a"/>
<rect x="94.85" y="447.76" width="10.21" height="2.26" fill="#e8f6e9"/>
<rect x="105.02" y="447.76" width="10.21" height="2.26" fill="#eef8de"/>
<rect x="115.18" y="447.76" width="10.21" height="2.26" fill="#f8fccc"/>
<rect x="125.35" y="447.76" width="10.21" height="2.26" fill="#def2f7"/>
<rect x="135.51" y="447.76" width="10.21" height="2.26" fill="#ebf7e4"/>
<rect x="145.68" y="447.76" width="10.21" height="2.26" fill="#f7fcce"/>
<rect x="155.84" y="447.76" width="10.21" height="2.26" fill="#fffcbb"/>
<rect x="166.01" y="447.76" width="10.21" height="2.26" fill="#eef8de"/>
<rect x="176.17" y="447.76" width="10.21" height="2.26" fill="#f9fdca"/>
<rect x="186.34" y="447.76" width="10.21" height="2.26" fill="#f0f9db"/>
<rect x="23.7" y="449.97" width="10.21" height="2.26" fill="#fecf85"/>
<rect x="33.86" y="449.97" width="10.21" height="2.26" fill="#fff4af"/>
<rect x="44.03" y="449.97" width="10.21" height="2.26" fill="#fee090"/>
<rect x="54.19" y="449.97" width="10.21" height="2.26" fill="#fee597"/>
<rect x="64.36" y="449.97" width="10.21" height="2.26" fill="#fdac6d"/>
<rect x="74.52" y="449.97" width="10.21" height="2.26" fill="#fc9e64"/>
<rect x="84.69" y="449.97" width="10.21" height="2.26" fill="#fb8957"/>
<rect x="94.85" y="449.97" width="10.21" height="2.26" fill="#cce6f1"/>
<rect x="105.02" y="449.97" width="10.21" height="2.26" fill="#f2fad8"/>
<rect x="115.18" y="449.97" width="10.21" height="2.26" fill="#c6e2ee"/>
<rect x="125.35" y="449.97" width="10.21" height="2.26" fill="#f8fccb"/>
<rect x="135.51" y="449.97" width="10.21" height="2.26" fill="#f1f9d9"/>
<rect x="145.68" y="449.97" width="10.21" height="2.26" fill="#fff7b2"/>
<rect x="155.84" y="449.97" width="10.21" height="2.26" fill="#f2fad8"/>
<rect x="166.01" y="449.97" width="10.21" height="2.26" fill="#e8f6ea"/>
<rect x="176.17" y="449.97" width="10.21" height="2.26" fill="#e7f6eb"/>
<rect x="186.34" y="449.97" width="10.21" height="2.26" fill="#fafdc8"/>
<rect x="23.7" y="452.19" width="10.21" height="2.26" fill="#fee598"/>
<rect x="33.86" y="452.19" width="10.21" height="2.26" fill="#fee89c"/>
<rect x="44.03" y="452.19" width="10.21" height="2.26" fill="#fee395"/>
<rect x="54.19" y="452.19" width="10.21" height="2.26" fill="#f1714a"/>
<rect x="64.36" y="452.19" width="10.21" height="2.26" fill="#fedf8f"/>
<rect x="74.52" y="452.19" width="10.21" height="2.26" fill="#fda368"/>
<rect x="84.69" y="452.19" width="10.21" height="2.26" fill="#ea5f40"/>
<rect x="94.85" y="452.19" width="10.21" height="2.26" fill="#f0f9db"/>
<rect x="105.02" y="452.19" width="10.21" height="2.26" fill="#e1f3f6"/>
<rect x="115.18" y="452.19" width="10.21" height="2.26" fill="#ecf8e3"/>
<rect x="125.35" y="452.19" width="10.21" height="2.26" fill="#eaf7e6"/>
<rect x="135.51" y="452.19" width="10.21" height="2.26" fill="#edf8e1"/>
<rect x="145.68" y="452.19" width="10.21" height="2.26" fill="#f3fad5"/>
<rect x="155.84" y="452.19" width="10.21" height="2.26" fill="#ebf7e4"/>
<rect x="166.01" y="452.19" width="10.21" height="2.26" fill="#e5f5ee"/>
<rect x="176.17" y="452.19" width="10.21" height="2.26" fill="#e7f6ec"/>
<rect x="186.34" y="452.19" width="10.21" height="2.26" fill="#fff0a9"/>
<rect x="23.7" y="454.4" width="10.21" height="2.26" fill="#fee191"/>
<rect x="33.86" y="454.4" width="10.21" height="2.26" fill="#fee090"/>
<rect x="44.03" y="454.4" width="10.21" height="2.26" fill="#fff1aa"/>
<rect x="54.19" y="454.4" width="10.21" height="2.26" fill="#f06f49"/>
<rect x="64.36" y="454.4" width="10.21" height="2.26" fill="#fdc17b"/>
<rect x="74.52" y="454.4" width="10.21" height="2.26" fill="#f57c50"/>
<rect x="84.69" y="454.4" width="10.21" height="2.26" fill="#fc975f"/>
<rect x="94.85" y="454.4" width="10.21" height="2.26" fill="#ddf1f7"/>
<rect x="105.02" y="454.4" width="10.21" height="2.26" fill="#f1fad8"/>
<rect x="115.18" y="454.4" width="10.21" height="2.26" fill="#fff4ae"/>
<rect x="125.35" y="454.4" width="10.21" height="2.26" fill="#eaf7e6"/>
<rect x="135.51" y="454.4" width="10.21" height="2.26" fill="#f6fccf"/>
<rect x="145.68" y="454.4" width="10.21" height="2.26" fill="#f4fbd4"/>
<rect x="155.84" y="454.4" width="10.21" height="2.26" fill="#eef8df"/>
<rect x="166.01" y="454.4" width="10.21" height="2.26" fill="#fdfec2"/>
<rect x="176.17" y="454.4" width="10.21" height="2.26" fill="#eff9dd"/>
<rect x="186.34" y="454.4" width="10.21" height="2.26" fill="#fff4af"/>
<rect x="23.7" y="456.61" width="10.21" height="2.26" fill="#feea9f"/>
<rect x="33.86" y="456.61" width="10.21" height="2.26" fill="#feefa7"/>
<rect x="44.03" y="456.61" width="10.21" height="2.26" fill="#fee394"/>
<rect x="54.19" y="456.61" width="10.21" height="2.26" fill="#de4130"/>
<rect x="64.36" y="456.61" width="10.21" height="2.26" fill="#fc9c63"/>
<rect x="74.52" y="456.61" width="10.21" height="2.26" fill="#fc9760"/>
<rect x="84.69" y="456.61" width="10.21" height="2.26" fill="#e7573c"/>
<rect x="94.85" y="456.61" width="10.21" height="2.26" fill="#feffc0"/>
<rect x="105.02" y="456.61" width="10.21" height="2.26" fill="#ddf1f7"/>
<rect x="115.18" y="456.61" width="10.21" height="2.26" fill="#e9f7e7"/>
<rect x="125.35" y="456.61" width="10.21" height="2.26" fill="#eaf7e6"/>
<rect x="135.51" y="456.61" width="10.21" height="2.26" fill="#f2fad7"/>
<rect x="145.68" y="456.61" width="10.21" height="2.26" fill="#feeda3"/>
<rect x="155.84" y="456.61" width="10.21" height="2.26" fill="#e2f4f4"/>
<rect x="166.01" y="456.61" width="10.21" height="2.26" fill="#d9eef5"/>
<rect x="176.17" y="456.61" width="10.21" height="2.26" fill="#ebf7e3"/>
<rect x="186.34" y="456.61" width="10.21" height="2.26" fill="#fffcbb"/>
<rect x="23.7" y="458.83" width="10.21" height="2.26" fill="#fffbb9"/>
<rect x="33.86" y="458.83" width="10.21" height="2.26" fill="#fff4ae"/>
<rect x="44.03" y="458.83" width="10.21" height="2.26" fill="#fdfec3"/>
<rect x="54.19" y="458.83" width="10.21" height="2.26" fill="#fdc27c"/>
<rect x="64.36" y="458.83" width="10.21" height="2.26" fill="#fff2ab"/>
<rect x="74.52" y="458.83" width="10.21" height="2.26" fill="#fdb372"/>
<rect x="84.69" y="458.83" width="10.21" height="2.26" fill="#fc9d63"/>
<rect x="94.85" y="458.83" width="10.21" height="2.26" fill="#f5fbd1"/>
<rect x="105.02" y="458.83" width="10.21" height="2.26" fill="#fffdbc"/>
<rect x="115.18" y="458.83" width="10.21" height="2.26" fill="#f3fad5"/>
<rect x="125.35" y="458.83" width="10.21" height="2.26" fill="#f7fccd"/>
<rect x="135.51" y="458.83" width="10.21" height="2.26" fill="#fffbb9"/>
<rect x="145.68" y="458.83" width="10.21" height="2.26" fill="#feffc1"/>
<rect x="155.84" y="458.83" width="10.21" height="2.26" fill="#f9fdcb"/>
<rect x="166.01" y="458.83" width="10.21" height="2.26" fill="#f4fbd3"/>
<rect x="176.17" y="458.83" width="10.21" height="2.26" fill="#ebf7e4"/>
<rect x="186.34" y="458.83" width="10.21" height="2.26" fill="#fedb8d"/>
<rect x="23.7" y="461.04" width="10.21" height="2.26" fill="#fda76a"/>
<rect x="33.86" y="461.04" width="10.21" height="2.26" fill="#fee394"/>
<rect x="44.03" y="461.04" width="10.21" height="2.26" fill="#fee79b"/>
<rect x="54.19" y="461.04" width="10.21" height="2.26" fill="#fda66a"/>
<rect x="64.36" y="461.04" width="10.21" height="2.26" fill="#fed98c"/>
<rect x="74.52" y="461.04" width="10.21" height="2.26" fill="#fc955e"/>
<rect x="84.69" y="461.04" width="10.21" height="2.26" fill="#e5543a"/>
<rect x="94.85" y="461.04" width="10.21" height="2.26" fill="#dcf1f7"/>
<rect x="105.02" y="461.04" width="10.21" height="2.26" fill="#ebf7e4"/>
<rect x="115.18" y="461.04" width="10.21" height="2.26" fill="#f5fbd1"/>
<rect x="125.35" y="461.04" width="10.21" height="2.26" fill="#eaf7e6"/>
<rect x="135.51" y="461.04" width="10.21" height="2.26" fill="#eaf7e6"/>
<rect x="145.68" y="461.04" width="10.21" height="2.26" fill="#fffdbb"/>
<rect x="155.84" y="461.04" width="10.21" height="2.26" fill="#fafdc8"/>
<rect x="166.01" y="461.04" width="10.21" height="2.26" fill="#f2fad6"/>
<rect x="176.17" y="461.04" width="10.21" height="2.26" fill="#ecf8e2"/>
<rect x="186.34" y="461.04" width="10.21" height="2.26" fill="#f8fccc"/>
<rect x="23.7" y="463.25" width="10.21" height="2.26" fill="#fee192"/>
<rect x="33.86" y="463.25" width="10.21" height="2.26" fill="#fffdbc"/>
<rect x="44.03" y="463.25" width="10.21" height="2.26" fill="#feeba1"/>
<rect x="54.19" y="463.25" width="10.21" height="2.26" fill="#fa8857"/>
<rect x="64.36" y="463.25" width="10.21" height="2.26" fill="#fed88a"/>
<rect x="74.52" y="463.25" width="10.21" height="2.26" fill="#fdaf6f"/>
<rect x="84.69" y="463.25" width="10.21" height="2.26" fill="#e7593d"/>
<rect x="94.85" y="463.25" width="10.21" height="2.26" fill="#eff9dc"/>
<rect x="105.02" y="463.25" width="10.21" height="2.26" fill="#eff9dc"/>
<rect x="115.18" y="463.25" width="10.21" height="2.26" fill="#fffdbb"/>
<rect x="125.35" y="463.25" width="10.21" height="2.26" fill="#e8f6e9"/>
<rect x="135.51" y="463.25" width="10.21" height="2.26" fill="#f3fad5"/>
<rect x="145.68" y="463.25" width="10.21" height="2.26" fill="#f7fccd"/>
<rect x="155.84" y="463.25" width="10.21" height="2.26" fill="#ffffc0"/>
<rect x="166.01" y="463.25" width="10.21" height="2.26" fill="#fffdbd"/>
<rect x="176.17" y="463.25" width="10.21" height="2.26" fill="#f1fad8"/>
<rect x="186.34" y="463.25" width="10.21" height="2.26" fill="#fff8b4"/>
<rect x="23.7" y="465.47" width="10.21" height="2.26" fill="#fee395"/>
<rect x="33.86" y="465.47" width="10.21" height="2.26" fill="#fbfdc7"/>
<rect x="44.03" y="465.47" width="10.21" height="2.26" fill="#fecb82"/>
<rect x="54.19" y="465.47" width="10.21" height="2.26" fill="#fc945d"/>
<rect x="64.36" y="465.47" width="10.21" height="2.26" fill="#fffcbb"/>
<rect x="74.52" y="465.47" width="10.21" height="2.26" fill="#feeda3"/>
<rect x="84.69" y="465.47" width="10.21" height="2.26" fill="#ec6443"/>
<rect x="94.85" y="465.47" width="10.21" height="2.26" fill="#e3f4f3"/>
<rect x="105.02" y="465.47" width="10.21" height="2.26" fill="#f3fad5"/>
<rect x="115.18" y="465.47" width="10.21" height="2.26" fill="#e5f5f0"/>
<rect x="125.35" y="465.47" width="10.21" height="2.26" fill="#f1fad9"/>
<rect x="135.51" y="465.47" width="10.21" height="2.26" fill="#e8f6e8"/>
<rect x="145.68" y="465.47" width="10.21" height="2.26" fill="#fff8b5"/>
<rect x="155.84" y="465.47" width="10.21" height="2.26" fill="#f3fad4"/>
<rect x="166.01" y="465.47" width="10.21" height="2.26" fill="#fff5b0"/>
<rect x="176.17" y="465.47" width="10.21" height="2.26" fill="#e7f6eb"/>
<rect x="186.34" y="465.47" width="10.21" height="2.26" fill="#feeda4"/>
<rect x="23.7" y="467.68" width="10.21" height="2.26" fill="#fedf8f"/>
<rect x="33.86" y="467.68" width="10.21" height="2.26" fill="#fbfdc7"/>
<rect x="44.03" y="467.68" width="10.21" height="2.26" fill="#fdfec4"/>
<rect x="54.19" y="467.68" width="10.21" height="2.26" fill="#fb8a57"/>
<rect x="64.36" y="467.68" width="10.21" height="2.26" fill="#fff4ae"/>
<rect x="74.52" y="467.68" width="10.21" height="2.26" fill="#fdac6e"/>
<rect x="84.69" y="467.68" width="10.21" height="2.26" fill="#fc8e5a"/>
<rect x="94.85" y="467.68" width="10.21" height="2.26" fill="#def1f7"/>
<rect x="105.02" y="467.68" width="10.21" height="2.26" fill="#ecf8e2"/>
<rect x="115.18" y="467.68" width="10.21" height="2.26" fill="#e0f3f7"/>
<rect x="125.35" y="467.68" width="10.21" height="2.26" fill="#def2f7"/>
<rect x="135.51" y="467.68" width="10.21" height="2.26" fill="#f8fccc"/>
<rect x="145.68" y="467.68" width="10.21" height="2.26" fill="#f2fad6"/>
<rect x="155.84" y="467.68" width="10.21" height="2.26" fill="#fdfec2"/>
<rect x="166.01" y="467.68" width="10.21" height="2.26" fill="#fcfec4"/>
<rect x="176.17" y="467.68" width="10.21" height="2.26" fill="#ffffbf"/>
<rect x="186.34" y="467.68" width="10.21" height="2.26" fill="#fff9b6"/>
<rect x="23.7" y="469.89" width="10.21" height="2.26" fill="#fffab8"/>
<rect x="33.86" y="469.89" width="10.21" height="2.26" fill="#fcfec5"/>
<rect x="44.03" y="469.89" width="10.21" height="2.26" fill="#feeba1"/>
<rect x="54.19" y="469.89" width="10.21" height="2.26" fill="#fdc37d"/>
<rect x="64.36" y="469.89" width="10.21" height="2.26" fill="#fff8b5"/>
<rect x="74.52" y="469.89" width="10.21" height="2.26" fill="#fdb674"/>
<rect x="84.69" y="469.89" width="10.21" height="2.26" fill="#fdb272"/>
<rect x="94.85" y="469.89" width="10.21" height="2.26" fill="#f6fccf"/>
<rect x="105.02" y="469.89" width="10.21" height="2.26" fill="#f2fad8"/>
<rect x="115.18" y="469.89" width="10.21" height="2.26" fill="#fffab7"/>
<rect x="125.35" y="469.89" width="10.21" height="2.26" fill="#f7fccd"/>
<rect x="135.51" y="469.89" width="10.21" height="2.26" fill="#ffffbf"/>
<rect x="145.68" y="469.89" width="10.21" height="2.26" fill="#fffcbb"/>
<rect x="155.84" y="469.89" width="10.21" height="2.26" fill="#fffbb9"/>
<rect x="166.01" y="469.89" width="10.21" height="2.26" fill="#f9fdca"/>
<rect x="176.17" y="469.89" width="10.21" height="2.26" fill="#fbfdc6"/>
<rect x="186.34" y="469.89" width="10.21" height="2.26" fill="#fff6b1"/>
<rect x="23.7" y="472.11" width="10.21" height="2.26" fill="#feeca2"/>
<rect x="33.86" y="472.11" width="10.21" height="2.26" fill="#fff5b0"/>
<rect x="44.03" y="472.11" width="10.21" height="2.26" fill="#fee89d"/>
<rect x="54.19" y="472.11" width="10.21" height="2.26" fill="#fee89c"/>
<rect x="64.36" y="472.11" width="10.21" height="2.26" fill="#fdcb82"/>
<rect x="74.52" y="472.11" width="10.21" height="2.26" fill="#fee598"/>
<rect x="84.69" y="472.11" width="10.21" height="2.26" fill="#fc8d59"/>
<rect x="94.85" y="472.11" width="10.21" height="2.26" fill="#e6f5ed"/>
<rect x="105.02" y="472.11" width="10.21" height="2.26" fill="#f3fad6"/>
<rect x="115.18" y="472.11" width="10.21" height="2.26" fill="#f4fbd3"/>
<rect x="125.35" y="472.11" width="10.21" height="2.26" fill="#edf8e0"/>
<rect x="135.51" y="472.11" width="10.21" height="2.26" fill="#eff9dd"/>
<rect x="145.68" y="472.11" width="10.21" height="2.26" fill="#fff7b3"/>
<rect x="155.84" y="472.11" width="10.21" height="2.26" fill="#feeea5"/>
<rect x="166.01" y="472.11" width="10.21" height="2.26" fill="#f9fdca"/>
<rect x="176.17" y="472.11" width="10.21" height="2.26" fill="#c5e1ee"/>
<rect x="186.34" y="472.11" width="10.21" height="2.26" fill="#fbfdc7"/>
<rect x="23.7" y="474.32" width="10.21" height="2.26" fill="#f67e51"/>
<rect x="33.86" y="474.32" width="10.21" height="2.26" fill="#fff7b3"/>
<rect x="44.03" y="474.32" width="10.21" height="2.26" fill="#feefa6"/>
<rect x="54.19" y="474.32" width="10.21" height="2.26" fill="#fc925c"/>
<rect x="64.36" y="474.32" width="10.21" height="2.26" fill="#fede8e"/>
<rect x="74.52" y="474.32" width="10.21" height="2.26" fill="#fdc47d"/>
<rect x="84.69" y="474.32" width="10.21" height="2.26" fill="#d73027"/>
<rect x="94.85" y="474.32" width="10.21" height="2.26" fill="#cde7f1"/>
<rect x="105.02" y="474.32" width="10.21" height="2.26" fill="#e5f5ef"/>
<rect x="115.18" y="474.32" width="10.21" height="2.26" fill="#ffffbf"/>
<rect x="125.35" y="474.32" width="10.21" height="2.26" fill="#d6edf4"/>
<rect x="135.51" y="474.32" width="10.21" height="2.26" fill="#e8f6ea"/>
<rect x="145.68" y="474.32" width="10.21" height="2.26" fill="#fff0a9"/>
<rect x="155.84" y="474.32" width="10.21" height="2.26" fill="#f0f9db"/>
<rect x="166.01" y="474.32" width="10.21" height="2.26" fill="#e7f6ec"/>
<rect x="176.17" y="474.32" width="10.21" height="2.26" fill="#e5f5ef"/>
<rect x="186.34" y="474.32" width="10.21" height="2.26" fill="#fff6b2"/>
<rect x="23.7" y="476.53" width="10.21" height="2.26" fill="#fff8b5"/>
<rect x="33.86" y="476.53" width="10.21" height="2.26" fill="#f1fad8"/>
<rect x="44.03" y="476.53" width="10.21" height="2.26" fill="#f8fccb"/>
<rect x="54.19" y="476.53" width="10.21" height="2.26" fill="#fca166"/>
<rect x="64.36" y="476.53" width="10.21" height="2.26" fill="#fff2ab"/>
<rect x="74.52" y="476.53" width="10.21" height="2.26" fill="#fecd83"/>
<rect x="84.69" y="476.53" width="10.21" height="2.26" fill="#ea5f40"/>
<rect x="94.85" y="476.53" width="10.21" height="2.26" fill="#e7f6ec"/>
<rect x="105.02" y="476.53" width="10.21" height="2.26" fill="#e1f3f6"/>
<rect x="115.18" y="476.53" width="10.21" height="2.26" fill="#fffab8"/>
<rect x="125.35" y="476.53" width="10.21" height="2.26" fill="#fdfec3"/>
<rect x="135.51" y="476.53" width="10.21" height="2.26" fill="#e9f6e8"/>
<rect x="145.68" y="476.53" width="10.21" height="2.26" fill="#fff5af"/>
<rect x="155.84" y="476.53" width="10.21" height="2.26" fill="#fff3ad"/>
<rect x="166.01" y="476.53" width="10.21" height="2.26" fill="#fffebe"/>
<rect x="176.17" y="476.53" width="10.21" height="2.26" fill="#f8fccb"/>
<rect x="186.34" y="476.53" width="10.21" height="2.26" fill="#f6fccf"/>
<rect x="23.7" y="478.75" width="10.21" height="2.26" fill="#fffdbc"/>
<rect x="33.86" y="478.75" width="10.21" height="2.26" fill="#fee597"/>
<rect x="44.03" y="478.75" width="10.21" height="2.26" fill="#fff0a8"/>
<rect x="54.19" y="478.75" width="10.21" height="2.26" fill="#f88454"/>
<rect x="64.36" y="478.75" width="10.21" height="2.26" fill="#fff0a8"/>
<rect x="74.52" y="478.75" width="10.21" height="2.26" fill="#fa8857"/>
<rect x="84.69" y="478.75" width="10.21" height="2.26" fill="#fa8856"/>
<rect x="94.85" y="478.75" width="10.21" height="2.26" fill="#e5f5ee"/>
<rect x="105.02" y="478.75" width="10.21" height="2.26" fill="#f0f9da"/>
<rect x="115.18" y="478.75" width="10.21" height="2.26" fill="#f5fbd1"/>
<rect x="125.35" y="478.75" width="10.21" height="2.26" fill="#edf8e0"/>
<rect x="135.51" y="478.75" width="10.21" height="2.26" fill="#d1e9f3"/>
<rect x="145.68" y="478.75" width="10.21" height="2.26" fill="#fff2ac"/>
<rect x="155.84" y="478.75" width="10.21" height="2.26" fill="#fdfec3"/>
<rect x="166.01" y="478.75" width="10.21" height="2.26" fill="#fffcba"/>
<rect x="176.17" y="478.75" width="10.21" height="2.26" fill="#daeff6"/>
<rect x="186.34" y="478.75" width="10.21" height="2.26" fill="#fbfec6"/>
<rect x="23.7" y="480.96" width="10.21" height="2.26" fill="#dd3f2f"/>
<rect x="33.86" y="480.96" width="10.21" height="2.26" fill="#fff8b4"/>
<rect x="44.03" y="480.96" width="10.21" height="2.26" fill="#fee698"/>
<rect x="54.19" y="480.96" width="10.21" height="2.26" fill="#fdb674"/>
<rect x="64.36" y="480.96" width="10.21" height="2.26" fill="#fdb171"/>
<rect x="74.52" y="480.96" width="10.21" height="2.26" fill="#fdbc78"/>
<rect x="84.69" y="480.96" width="10.21" height="2.26" fill="#ee6a46"/>
<rect x="94.85" y="480.96" width="10.21" height="2.26" fill="#e1f3f6"/>
<rect x="105.02" y="480.96" width="10.21" height="2.26" fill="#cae5f0"/>
<rect x="115.18" y="480.96" width="10.21" height="2.26" fill="#c2dfed"/>
<rect x="125.35" y="480.96" width="10.21" height="2.26" fill="#acd1e5"/>
<rect x="135.51" y="480.96" width="10.21" height="2.26" fill="#e3f4f2"/>
<rect x="145.68" y="480.96" width="10.21" height="2.26" fill="#edf8e0"/>
<rect x="155.84" y="480.96" width="10.21" height="2.26" fill="#f5fbd2"/>
<rect x="166.01" y="480.96" width="10.21" height="2.26" fill="#e9f7e7"/>
<rect x="176.17" y="480.96" width="10.21" height="2.26" fill="#bbdaea"/>
<rect x="186.34" y="480.96" width="10.21" height="2.26" fill="#feeba1"/>
<rect x="23.7" y="483.17" width="10.21" height="2.26" fill="#fedf8f"/>
<rect x="33.86" y="483.17" width="10.21" height="2.26" fill="#feeda4"/>
<rect x="44.03" y="483.17" width="10.21" height="2.26" fill="#fecf85"/>
<rect x="54.19" y="483.17" width="10.21" height="2.26" fill="#fede8f"/>
<rect x="64.36" y="483.17" width="10.21" height="2.26" fill="#fcfec5"/>
<rect x="74.52" y="483.17" width="10.21" height="2.26" fill="#fee395"/>
<rect x="84.69" y="483.17" width="10.21" height="2.26" fill="#f2754c"/>
<rect x="94.85" y="483.17" width="10.21" height="2.26" fill="#f6fccf"/>
<rect x="105.02" y="483.17" width="10.21" height="2.26" fill="#e1f3f6"/>
<rect x="115.18" y="483.17" width="10.21" height="2.26" fill="#f2fad7"/>
<rect x="125.35" y="483.17" width="10.21" height="2.26" fill="#eef8df"/>
<rect x="135.51" y="483.17" width="10.21" height="2.26" fill="#dcf0f7"/>
<rect x="145.68" y="483.17" width="10.21" height="2.26" fill="#edf8e0"/>
<rect x="155.84" y="483.17" width="10.21" height="2.26" fill="#feffc1"/>
<rect x="166.01" y="483.17" width="10.21" height="2.26" fill="#ffffbf"/>
<rect x="176.17" y="483.17" width="10.21" height="2.26" fill="#aacfe4"/>
<rect x="186.34" y="483.17" width="10.21" height="2.26" fill="#fee89c"/>
<rect x="23.7" y="485.39" width="10.21" height="2.26" fill="#f78052"/>
<rect x="33.86" y="485.39" width="10.21" height="2.26" fill="#fee395"/>
<rect x="44.03" y="485.39" width="10.21" height="2.26" fill="#fee294"/>
<rect x="54.19" y="485.39" width="10.21" height="2.26" fill="#f88253"/>
<rect x="64.36" y="485.39" width="10.21" height="2.26" fill="#fdc37d"/>
<rect x="74.52" y="485.39" width="10.21" height="2.26" fill="#fdb574"/>
<rect x="84.69" y="485.39" width="10.21" height="2.26" fill="#f88354"/>
<rect x="94.85" y="485.39" width="10.21" height="2.26" fill="#e4f5f0"/>
<rect x="105.02" y="485.39" width="10.21" height="2.26" fill="#d6edf4"/>
<rect x="115.18" y="485.39" width="10.21" height="2.26" fill="#def2f7"/>
<rect x="125.35" y="485.39" width="10.21" height="2.26" fill="#f1fad9"/>
<rect x="135.51" y="485.39" width="10.21" height="2.26" fill="#c3e0ed"/>
<rect x="145.68" y="485.39" width="10.21" height="2.26" fill="#fffcba"/>
<rect x="155.84" y="485.39" width="10.21" height="2.26" fill="#e9f7e7"/>
<rect x="166.01" y="485.39" width="10.21" height="2.26" fill="#e2f4f4"/>
<rect x="176.17" y="485.39" width="10.21" height="2.26" fill="#94c1dc"/>
<rect x="186.34" y="485.39" width="10.21" height="2.26" fill="#fee699"/>
<rect x="23.7" y="487.6" width="10.21" height="2.26" fill="#fc8f5b"/>
<rect x="33.86" y="487.6" width="10.21" height="2.26" fill="#fecf85"/>
<rect x="44.03" y="487.6" width="10.21" height="2.26" fill="#fdaf6f"/>
<rect x="54.19" y="487.6" width="10.21" height="2.26" fill="#fdac6e"/>
<rect x="64.36" y="487.6" width="10.21" height="2.26" fill="#fedd8e"/>
<rect x="74.52" y="487.6" width="10.21" height="2.26" fill="#fc905b"/>
<rect x="84.69" y="487.6" width="10.21" height="2.26" fill="#d73027"/>
<rect x="94.85" y="487.6" width="10.21" height="2.26" fill="#dff3f8"/>
<rect x="105.02" y="487.6" width="10.21" height="2.26" fill="#f8fccd"/>
<rect x="115.18" y="487.6" width="10.21" height="2.26" fill="#f2fad8"/>
<rect x="125.35" y="487.6" width="10.21" height="2.26" fill="#f1fad8"/>
<rect x="135.51" y="487.6" width="10.21" height="2.26" fill="#fffab7"/>
<rect x="145.68" y="487.6" width="10.21" height="2.26" fill="#fcfec4"/>
<rect x="155.84" y="487.6" width="10.21" height="2.26" fill="#feefa7"/>
<rect x="166.01" y="487.6" width="10.21" height="2.26" fill="#f3fad6"/>
<rect x="176.17" y="487.6" width="10.21" height="2.26" fill="#a5cce2"/>
<rect x="186.34" y="487.6" width="10.21" height="2.26" fill="#fcfec5"/>
<rect x="23.7" y="489.81" width="10.21" height="2.26" fill="#fdb775"/>
<rect x="33.86" y="489.81" width="10.21" height="2.26" fill="#fff5af"/>
<rect x="44.03" y="489.81" width="10.21" height="2.26" fill="#fff9b6"/>
<rect x="54.19" y="489.81" width="10.21" height="2.26" fill="#fdbe7a"/>
<rect x="64.36" y="489.81" width="10.21" height="2.26" fill="#fee395"/>
<rect x="74.52" y="489.81" width="10.21" height="2.26" fill="#fca166"/>
<rect x="84.69" y="489.81" width="10.21" height="2.26" fill="#d73027"/>
<rect x="94.85" y="489.81" width="10.21" height="2.26" fill="#a7cde3"/>
<rect x="105.02" y="489.81" width="10.21" height="2.26" fill="#e4f5f0"/>
<rect x="115.18" y="489.81" width="10.21" height="2.26" fill="#e8f6e9"/>
<rect x="125.35" y="489.81" width="10.21" height="2.26" fill="#e9f6e8"/>
<rect x="135.51" y="489.81" width="10.21" height="2.26" fill="#ecf8e1"/>
<rect x="145.68" y="489.81" width="10.21" height="2.26" fill="#eef8de"/>
<rect x="155.84" y="489.81" width="10.21" height="2.26" fill="#e1f3f6"/>
<rect x="166.01" y="489.81" width="10.21" height="2.26" fill="#fdfec2"/>
<rect x="176.17" y="489.81" width="10.21" height="2.26" fill="#c6e2ee"/>
<rect x="186.34" y="489.81" width="10.21" height="2.26" fill="#f7fcce"/>
<rect x="23.7" y="492.03" width="10.21" height="2.26" fill="#fee89c"/>
<rect x="33.86" y="492.03" width="10.21" height="2.26" fill="#edf8e1"/>
<rect x="44.03" y="492.03" width="10.21" height="2.26" fill="#fc905b"/>
<rect x="54.19" y="492.03" width="10.21" height="2.26" fill="#fdc47e"/>
<rect x="64.36" y="492.03" width="10.21" height="2.26" fill="#fff4af"/>
<rect x="74.52" y="492.03" width="10.21" height="2.26" fill="#fedf90"/>
<rect x="84.69" y="492.03" width="10.21" height="2.26" fill="#d73027"/>
<rect x="94.85" y="492.03" width="10.21" height="2.26" fill="#eff9dc"/>
<rect x="105.02" y="492.03" width="10.21" height="2.26" fill="#edf8e1"/>
<rect x="115.18" y="492.03" width="10.21" height="2.26" fill="#f2fad7"/>
<rect x="125.35" y="492.03" width="10.21" height="2.26" fill="#f8fccc"/>
<rect x="135.51" y="492.03" width="10.21" height="2.26" fill="#f6fccf"/>
<rect x="145.68" y="492.03" width="10.21" height="2.26" fill="#ecf8e1"/>
<rect x="155.84" y="492.03" width="10.21" height="2.26" fill="#f2fad7"/>
<rect x="166.01" y="492.03" width="10.21" height="2.26" fill="#edf8e0"/>
<rect x="176.17" y="492.03" width="10.21" height="2.26" fill="#bfddec"/>
<rect x="186.34" y="492.03" width="10.21" height="2.26" fill="#ffffbf"/>
<rect x="23.7" y="494.24" width="10.21" height="2.26" fill="#fedf8f"/>
<rect x="33.86" y="494.24" width="10.21" height="2.26" fill="#f3fad5"/>
<rect x="44.03" y="494.24" width="10.21" height="2.26" fill="#feeca3"/>
<rect x="54.19" y="494.24" width="10.21" height="2.26" fill="#fdae6f"/>
<rect x="64.36" y="494.24" width="10.21" height="2.26" fill="#fff3ad"/>
<rect x="74.52" y="494.24" width="10.21" height="2.26" fill="#fee091"/>
<rect x="84.69" y="494.24" width="10.21" height="2.26" fill="#f4794e"/>
<rect x="94.85" y="494.24" width="10.21" height="2.26" fill="#f2fad6"/>
<rect x="105.02" y="494.24" width="10.21" height="2.26" fill="#eaf7e5"/>
<rect x="115.18" y="494.24" width="10.21" height="2.26" fill="#e4f4f1"/>
<rect x="125.35" y="494.24" width="10.21" height="2.26" fill="#ecf8e1"/>
<rect x="135.51" y="494.24" width="10.21" height="2.26" fill="#f6fcd0"/>
<rect x="145.68" y="494.24" width="10.21" height="2.26" fill="#fffbb9"/>
<rect x="155.84" y="494.24" width="10.21" height="2.26" fill="#fffbb9"/>
<rect x="166.01" y="494.24" width="10.21" height="2.26" fill="#fafdc8"/>
<rect x="176.17" y="494.24" width="10.21" height="2.26" fill="#84b3d5"/>
<rect x="186.34" y="494.24" width="10.21" height="2.26" fill="#feefa7"/>
<rect x="23.7" y="496.45" width="10.21" height="2.26" fill="#fff5b1"/>
<rect x="33.86" y="496.45" width="10.21" height="2.26" fill="#f4fbd3"/>
<rect x="44.03" y="496.45" width="10.21" height="2.26" fill="#fee090"/>
<rect x="54.19" y="496.45" width="10.21" height="2.26" fill="#fdb372"/>
<rect x="64.36" y="496.45" width="10.21" height="2.26" fill="#fff8b4"/>
<rect x="74.52" y="496.45" width="10.21" height="2.26" fill="#fc9d64"/>
<rect x="84.69" y="496.45" width="10.21" height="2.26" fill="#ee6b47"/>
<rect x="94.85" y="496.45" width="10.21" height="2.26" fill="#e5f5ef"/>
<rect x="105.02" y="496.45" width="10.21" height="2.26" fill="#e4f5f1"/>
<rect x="115.18" y="496.45" width="10.21" height="2.26" fill="#cfe8f2"/>
<rect x="125.35" y="496.45" width="10.21" height="2.26" fill="#e5f5ef"/>
<rect x="135.51" y="496.45" width="10.21" height="2.26" fill="#e6f5ec"/>
<rect x="145.68" y="496.45" width="10.21" height="2.26" fill="#fafdc8"/>
<rect x="155.84" y="496.45" width="10.21" height="2.26" fill="#d6ecf4"/>
<rect x="166.01" y="496.45" width="10.21" height="2.26" fill="#f7fcce"/>
<rect x="176.17" y="496.45" width="10.21" height="2.26" fill="#e2f4f5"/>
<rect x="186.34" y="496.45" width="10.21" height="2.26" fill="#fcfec4"/>
<rect x="23.7" y="498.67" width="10.21" height="2.26" fill="#fed387"/>
<rect x="33.86" y="498.67" width="10.21" height="2.26" fill="#f4fbd4"/>
<rect x="44.03" y="498.67" width="10.21" height="2.26" fill="#fdb473"/>
<rect x="54.19" y="498.67" width="10.21" height="2.26" fill="#fc915c"/>
<rect x="64.36" y="498.67" width="10.21" height="2.26" fill="#fee598"/>
<rect x="74.52" y="498.67" width="10.21" height="2.26" fill="#fee89b"/>
<rect x="84.69" y="498.67" width="10.21" height="2.26" fill="#fee395"/>
<rect x="94.85" y="498.67" width="10.21" height="2.26" fill="#fff9b6"/>
<rect x="105.02" y="498.67" width="10.21" height="2.26" fill="#eff9dd"/>
<rect x="115.18" y="498.67" width="10.21" height="2.26" fill="#daeff6"/>
<rect x="125.35" y="498.67" width="10.21" height="2.26" fill="#eff9dd"/>
<rect x="135.51" y="498.67" width="10.21" height="2.26" fill="#f5fbd1"/>
<rect x="145.68" y="498.67" width="10.21" height="2.26" fill="#fdfec3"/>
<rect x="155.84" y="498.67" width="10.21" height="2.26" fill="#dbf0f6"/>
<rect x="166.01" y="498.67" width="10.21" height="2.26" fill="#fff4ae"/>
<rect x="176.17" y="498.67" width="10.21" height="2.26" fill="#cae4f0"/>
<rect x="186.34" y="498.67" width="10.21" height="2.26" fill="#fdfec3"/>
<rect x="23.7" y="500.88" width="10.21" height="2.26" fill="#fed88a"/>
<rect x="33.86" y="500.88" width="10.21" height="2.26" fill="#ffffbf"/>
<rect x="44.03" y="500.88" width="10.21" height="2.26" fill="#f3774d"/>
<rect x="54.19" y="500.88" width="10.21" height="2.26" fill="#fedf8f"/>
<rect x="64.36" y="500.88" width="10.21" height="2.26" fill="#fdc47d"/>
<rect x="74.52" y="500.88" width="10.21" height="2.26" fill="#fdb070"/>
<rect x="84.69" y="500.88" width="10.21" height="2.26" fill="#f98756"/>
<rect x="94.85" y="500.88" width="10.21" height="2.26" fill="#f2fad7"/>
<rect x="105.02" y="500.88" width="10.21" height="2.26" fill="#fafdc9"/>
<rect x="115.18" y="500.88" width="10.21" height="2.26" fill="#fffebe"/>
<rect x="125.35" y="500.88" width="10.21" height="2.26" fill="#f5fbd1"/>
<rect x="135.51" y="500.88" width="10.21" height="2.26" fill="#e6f5ed"/>
<rect x="145.68" y="500.88" width="10.21" height="2.26" fill="#fffcbb"/>
<rect x="155.84" y="500.88" width="10.21" height="2.26" fill="#ecf8e1"/>
<rect x="166.01" y="500.88" width="10.21" height="2.26" fill="#e7f6ec"/>
<rect x="176.17" y="500.88" width="10.21" height="2.26" fill="#fbfec6"/>
<rect x="186.34" y="500.88" width="10.21" height="2.26" fill="#fffdbb"/>
<rect x="23.7" y="503.09" width="10.21" height="2.26" fill="#feefa7"/>
<rect x="33.86" y="503.09" width="10.21" height="2.26" fill="#feefa7"/>
<rect x="44.03" y="503.09" width="10.21" height="2.26" fill="#f1724a"/>
<rect x="54.19" y="503.09" width="10.21" height="2.26" fill="#fc905b"/>
<rect x="64.36" y="503.09" width="10.21" height="2.26" fill="#fda96b"/>
<rect x="74.52" y="503.09" width="10.21" height="2.26" fill="#fecd83"/>
<rect x="84.69" y="503.09" width="10.21" height="2.26" fill="#fa8857"/>
<rect x="94.85" y="503.09" width="10.21" height="2.26" fill="#e1f3f6"/>
<rect x="105.02" y="503.09" width="10.21" height="2.26" fill="#e5f5ee"/>
<rect x="115.18" y="503.09" width="10.21" height="2.26" fill="#e1f3f6"/>
<rect x="125.35" y="503.09" width="10.21" height="2.26" fill="#e8f6ea"/>
<rect x="135.51" y="503.09" width="10.21" height="2.26" fill="#f1fad8"/>
<rect x="145.68" y="503.09" width="10.21" height="2.26" fill="#f9fdca"/>
<rect x="155.84" y="503.09" width="10.21" height="2.26" fill="#f5fbd2"/>
<rect x="166.01" y="503.09" width="10.21" height="2.26" fill="#e7f6ea"/>
<rect x="176.17" y="503.09" width="10.21" height="2.26" fill="#fff7b3"/>
<rect x="186.34" y="503.09" width="10.21" height="2.26" fill="#f3fad5"/>
<rect x="23.7" y="505.31" width="10.21" height="2.26" fill="#fdc780"/>
<rect x="33.86" y="505.31" width="10.21" height="2.26" fill="#fdfec2"/>
<rect x="44.03" y="505.31" width="10.21" height="2.26" fill="#fa8756"/>
<rect x="54.19" y="505.31" width="10.21" height="2.26" fill="#fda368"/>
<rect x="64.36" y="505.31" width="10.21" height="2.26" fill="#fdb775"/>
<rect x="74.52" y="505.31" width="10.21" height="2.26" fill="#ef6d48"/>
<rect x="84.69" y="505.31" width="10.21" height="2.26" fill="#fc9d63"/>
<rect x="94.85" y="505.31" width="10.21" height="2.26" fill="#e0f3f8"/>
<rect x="105.02" y="505.31" width="10.21" height="2.26" fill="#eff9dc"/>
<rect x="115.18" y="505.31" width="10.21" height="2.26" fill="#fdfec3"/>
<rect x="125.35" y="505.31" width="10.21" height="2.26" fill="#f2fad6"/>
<rect x="135.51" y="505.31" width="10.21" height="2.26" fill="#e2f4f4"/>
<rect x="145.68" y="505.31" width="10.21" height="2.26" fill="#f5fbd1"/>
<rect x="155.84" y="505.31" width="10.21" height="2.26" fill="#f2fad7"/>
<rect x="166.01" y="505.31" width="10.21" height="2.26" fill="#f5fbd2"/>
<rect x="176.17" y="505.31" width="10.21" height="2.26" fill="#e8f6ea"/>
<rect x="186.34" y="505.31" width="10.21" height="2.26" fill="#fee89d"/>
<rect x="23.7" y="507.52" width="10.21" height="2.26" fill="#fed98b"/>
<rect x="33.86" y="507.52" width="10.21" height="2.26" fill="#f9fdc9"/>
<rect x="44.03" y="507.52" width="10.21" height="2.26" fill="#fda468"/>
<rect x="54.19" y="507.52" width="10.21" height="2.26" fill="#ef6b47"/>
<rect x="64.36" y="507.52" width="10.21" height="2.26" fill="#fff1aa"/>
<rect x="74.52" y="507.52" width="10.21" height="2.26" fill="#fc965f"/>
<rect x="84.69" y="507.52" width="10.21" height="2.26" fill="#fecd83"/>
<rect x="94.85" y="507.52" width="10.21" height="2.26" fill="#e3f4f2"/>
<rect x="105.02" y="507.52" width="10.21" height="2.26" fill="#fcfec4"/>
<rect x="115.18" y="507.52" width="10.21" height="2.26" fill="#eaf7e6"/>
<rect x="125.35" y="507.52" width="10.21" height="2.26" fill="#e8f6e9"/>
<rect x="135.51" y="507.52" width="10.21" height="2.26" fill="#cce6f1"/>
<rect x="145.68" y="507.52" width="10.21" height="2.26" fill="#f8fccc"/>
<rect x="155.84" y="507.52" width="10.21" height="2.26" fill="#f8fccd"/>
<rect x="166.01" y="507.52" width="10.21" height="2.26" fill="#eff9dc"/>
<rect x="176.17" y="507.52" width="10.21" height="2.26" fill="#f4fbd4"/>
<rect x="186.34" y="507.52" width="10.21" height="2.26" fill="#fff5b0"/>
<rect x="23.7" y="509.73" width="10.21" height="2.26" fill="#fed588"/>
<rect x="33.86" y="509.73" width="10.21" height="2.26" fill="#fafdc9"/>
<rect x="44.03" y="509.73" width="10.21" height="2.26" fill="#fdc77f"/>
<rect x="54.19" y="509.73" width="10.21" height="2.26" fill="#ed6745"/>
<rect x="64.36" y="509.73" width="10.21" height="2.26" fill="#fff4ae"/>
<rect x="74.52" y="509.73" width="10.21" height="2.26" fill="#ea6141"/>
<rect x="84.69" y="509.73" width="10.21" height="2.26" fill="#fda76a"/>
<rect x="94.85" y="509.73" width="10.21" height="2.26" fill="#def2f7"/>
<rect x="105.02" y="509.73" width="10.21" height="2.26" fill="#f2fad6"/>
<rect x="115.18" y="509.73" width="10.21" height="2.26" fill="#e6f5ec"/>
<rect x="125.35" y="509.73" width="10.21" height="2.26" fill="#fafdc8"/>
<rect x="135.51" y="509.73" width="10.21" height="2.26" fill="#def2f7"/>
<rect x="145.68" y="509.73" width="10.21" height="2.26" fill="#fffebe"/>
<rect x="155.84" y="509.73" width="10.21" height="2.26" fill="#fffcbb"/>
<rect x="166.01" y="509.73" width="10.21" height="2.26" fill="#e7f6eb"/>
<rect x="176.17" y="509.73" width="10.21" height="2.26" fill="#feefa7"/>
<rect x="186.34" y="509.73" width="10.21" height="2.26" fill="#fff6b2"/>
<rect x="23.7" y="511.95" width="10.21" height="2.26" fill="#fed98b"/>
<rect x="33.86" y="511.95" width="10.21" height="2.26" fill="#fee699"/>
<rect x="44.03" y="511.95" width="10.21" height="2.26" fill="#fffcba"/>
<rect x="54.19" y="511.95" width="10.21" height="2.26" fill="#feda8c"/>
<rect x="64.36" y="511.95" width="10.21" height="2.26" fill="#fff1a9"/>
<rect x="74.52" y="511.95" width="10.21" height="2.26" fill="#fee395"/>
<rect x="84.69" y="511.95" width="10.21" height="2.26" fill="#fecf85"/>
<rect x="94.85" y="511.95" width="10.21" height="2.26" fill="#fcfec4"/>
<rect x="105.02" y="511.95" width="10.21" height="2.26" fill="#ebf7e4"/>
<rect x="115.18" y="511.95" width="10.21" height="2.26" fill="#fff8b5"/>
<rect x="125.35" y="511.95" width="10.21" height="2.26" fill="#feefa7"/>
<rect x="135.51" y="511.95" width="10.21" height="2.26" fill="#dbf0f6"/>
<rect x="145.68" y="511.95" width="10.21" height="2.26" fill="#eef9de"/>
<rect x="155.84" y="511.95" width="10.21" height="2.26" fill="#f4fbd3"/>
<rect x="166.01" y="511.95" width="10.21" height="2.26" fill="#fffab8"/>
<rect x="176.17" y="511.95" width="10.21" height="2.26" fill="#fffab7"/>
<rect x="186.34" y="511.95" width="10.21" height="2.26" fill="#fcfec4"/>
<rect x="23.7" y="514.16" width="10.21" height="2.26" fill="#feefa6"/>
<rect x="33.86" y="514.16" width="10.21" height="2.26" fill="#fee191"/>
<rect x="44.03" y="514.16" width="10.21" height="2.26" fill="#fffcbb"/>
<rect x="54.19" y="514.16" width="10.21" height="2.26" fill="#fed287"/>
<rect x="64.36" y="514.16" width="10.21" height="2.26" fill="#fee293"/>
<rect x="74.52" y="514.16" width="10.21" height="2.26" fill="#fca267"/>
<rect x="84.69" y="514.16" width="10.21" height="2.26" fill="#fedf90"/>
<rect x="94.85" y="514.16" width="10.21" height="2.26" fill="#ffffc0"/>
<rect x="105.02" y="514.16" width="10.21" height="2.26" fill="#f2fad8"/>
<rect x="115.18" y="514.16" width="10.21" height="2.26" fill="#edf8e0"/>
<rect x="125.35" y="514.16" width="10.21" height="2.26" fill="#edf8e0"/>
<rect x="135.51" y="514.16" width="10.21" height="2.26" fill="#fcfec4"/>
<rect x="145.68" y="514.16" width="10.21" height="2.26" fill="#fcfec5"/>
<rect x="155.84" y="514.16" width="10.21" height="2.26" fill="#fcfec5"/>
<rect x="166.01" y="514.16" width="10.21" height="2.26" fill="#fffbb9"/>
<rect x="176.17" y="514.16" width="10.21" height="2.26" fill="#fff6b1"/>
<rect x="186.34" y="514.16" width="10.21" height="2.26" fill="#eef8de"/>
<rect x="23.7" y="516.37" width="10.21" height="2.26" fill="#fee598"/>
<rect x="33.86" y="516.37" width="10.21" height="2.26" fill="#feefa6"/>
<rect x="44.03" y="516.37" width="10.21" height="2.26" fill="#fee395"/>
<rect x="54.19" y="516.37" width="10.21" height="2.26" fill="#fc8e5a"/>
<rect x="64.36" y="516.37" width="10.21" height="2.26" fill="#feeea5"/>
<rect x="74.52" y="516.37" width="10.21" height="2.26" fill="#fdaf6f"/>
<rect x="84.69" y="516.37" width="10.21" height="2.26" fill="#fdad6e"/>
<rect x="94.85" y="516.37" width="10.21" height="2.26" fill="#e5f5f0"/>
<rect x="105.02" y="516.37" width="10.21" height="2.26" fill="#fffebd"/>
<rect x="115.18" y="516.37" width="10.21" height="2.26" fill="#f7fccd"/>
<rect x="125.35" y="516.37" width="10.21" height="2.26" fill="#f0f9db"/>
<rect x="135.51" y="516.37" width="10.21" height="2.26" fill="#fbfdc6"/>
<rect x="145.68" y="516.37" width="10.21" height="2.26" fill="#f6fccf"/>
<rect x="155.84" y="516.37" width="10.21" height="2.26" fill="#f3fad6"/>
<rect x="166.01" y="516.37" width="10.21" height="2.26" fill="#f5fbd2"/>
<rect x="176.17" y="516.37" width="10.21" height="2.26" fill="#fffcbb"/>
<rect x="186.34" y="516.37" width="10.21" height="2.26" fill="#feeda4"/>
<rect x="23.7" y="518.59" width="10.21" height="2.26" fill="#fdb372"/>
<rect x="33.86" y="518.59" width="10.21" height="2.26" fill="#fee99e"/>
<rect x="44.03" y="518.59" width="10.21" height="2.26" fill="#fedc8d"/>
<rect x="54.19" y="518.59" width="10.21" height="2.26" fill="#fca166"/>
<rect x="64.36" y="518.59" width="10.21" height="2.26" fill="#fdba77"/>
<rect x="74.52" y="518.59" width="10.21" height="2.26" fill="#f98655"/>
<rect x="84.69" y="518.59" width="10.21" height="2.26" fill="#fc9c63"/>
<rect x="94.85" y="518.59" width="10.21" height="2.26" fill="#eaf7e6"/>
<rect x="105.02" y="518.59" width="10.21" height="2.26" fill="#f0f9da"/>
<rect x="115.18" y="518.59" width="10.21" height="2.26" fill="#e6f5ed"/>
<rect x="125.35" y="518.59" width="10.21" height="2.26" fill="#e8f6e9"/>
<rect x="135.51" y="518.59" width="10.21" height="2.26" fill="#e1f3f6"/>
<rect x="145.68" y="518.59" width="10.21" height="2.26" fill="#eaf7e6"/>
<rect x="155.84" y="518.59" width="10.21" height="2.26" fill="#ffffbf"/>
<rect x="166.01" y="518.59" width="10.21" height="2.26" fill="#f7fccd"/>
<rect x="176.17" y="518.59" width="10.21" height="2.26" fill="#e4f5f1"/>
<rect x="186.34" y="518.59" width="10.21" height="2.26" fill="#f1fad8"/>
<rect x="23.7" y="520.8" width="10.21" height="2.26" fill="#fee191"/>
<rect x="33.86" y="520.8" width="10.21" height="2.26" fill="#fff5af"/>
<rect x="44.03" y="520.8" width="10.21" height="2.26" fill="#fdc57e"/>
<rect x="54.19" y="520.8" width="10.21" height="2.26" fill="#fdae6f"/>
<rect x="64.36" y="520.8" width="10.21" height="2.26" fill="#fee598"/>
<rect x="74.52" y="520.8" width="10.21" height="2.26" fill="#eb6142"/>
<rect x="84.69" y="520.8" width="10.21" height="2.26" fill="#fdb574"/>
<rect x="94.85" y="520.8" width="10.21" height="2.26" fill="#e8f6e9"/>
<rect x="105.02" y="520.8" width="10.21" height="2.26" fill="#eaf7e6"/>
<rect x="115.18" y="520.8" width="10.21" height="2.26" fill="#f8fccc"/>
<rect x="125.35" y="520.8" width="10.21" height="2.26" fill="#e3f4f3"/>
<rect x="135.51" y="520.8" width="10.21" height="2.26" fill="#f8fccb"/>
<rect x="145.68" y="520.8" width="10.21" height="2.26" fill="#feffc1"/>
<rect x="155.84" y="520.8" width="10.21" height="2.26" fill="#fff6b2"/>
<rect x="166.01" y="520.8" width="10.21" height="2.26" fill="#f5fbd1"/>
<rect x="176.17" y="520.8" width="10.21" height="2.26" fill="#f0f9da"/>
<rect x="186.34" y="520.8" width="10.21" height="2.26" fill="#f7fccd"/>
<rect x="23.7" y="523.01" width="10.21" height="2.26" fill="#fee699"/>
<rect x="33.86" y="523.01" width="10.21" height="2.26" fill="#fff5b0"/>
<rect x="44.03" y="523.01" width="10.21" height="2.26" fill="#fee699"/>
<rect x="54.19" y="523.01" width="10.21" height="2.26" fill="#fdbd79"/>
<rect x="64.36" y="523.01" width="10.21" height="2.26" fill="#fff7b3"/>
<rect x="74.52" y="523.01" width="10.21" height="2.26" fill="#f3764c"/>
<rect x="84.69" y="523.01" width="10.21" height="2.26" fill="#fecd83"/>
<rect x="94.85" y="523.01" width="10.21" height="2.26" fill="#f1f9d9"/>
<rect x="105.02" y="523.01" width="10.21" height="2.26" fill="#ffffbf"/>
<rect x="115.18" y="523.01" width="10.21" height="2.26" fill="#fffab8"/>
<rect x="125.35" y="523.01" width="10.21" height="2.26" fill="#e9f6e8"/>
<rect x="135.51" y="523.01" width="10.21" height="2.26" fill="#f0f9db"/>
<rect x="145.68" y="523.01" width="10.21" height="2.26" fill="#feeea6"/>
<rect x="155.84" y="523.01" width="10.21" height="2.26" fill="#fffab7"/>
<rect x="166.01" y="523.01" width="10.21" height="2.26" fill="#ffffbf"/>
<rect x="176.17" y="523.01" width="10.21" height="2.26" fill="#fff8b4"/>
<rect x="186.34" y="523.01" width="10.21" height="2.26" fill="#eaf7e6"/>
<rect x="23.7" y="525.23" width="10.21" height="2.26" fill="#fff1aa"/>
<rect x="33.86" y="525.23" width="10.21" height="2.26" fill="#fff7b2"/>
<rect x="44.03" y="525.23" width="10.21" height="2.26" fill="#fff0a8"/>
<rect x="54.19" y="525.23" width="10.21" height="2.26" fill="#fda267"/>
<rect x="64.36" y="525.23" width="10.21" height="2.26" fill="#fed085"/>
<rect x="74.52" y="525.23" width="10.21" height="2.26" fill="#f06e48"/>
<rect x="84.69" y="525.23" width="10.21" height="2.26" fill="#fda96b"/>
<rect x="94.85" y="525.23" width="10.21" height="2.26" fill="#e6f5ed"/>
<rect x="105.02" y="525.23" width="10.21" height="2.26" fill="#f9fdc9"/>
<rect x="115.18" y="525.23" width="10.21" height="2.26" fill="#f5fbd2"/>
<rect x="125.35" y="525.23" width="10.21" height="2.26" fill="#cee7f1"/>
<rect x="135.51" y="525.23" width="10.21" height="2.26" fill="#edf8e0"/>
<rect x="145.68" y="525.23" width="10.21" height="2.26" fill="#fffcba"/>
<rect x="155.84" y="525.23" width="10.21" height="2.26" fill="#eaf7e6"/>
<rect x="166.01" y="525.23" width="10.21" height="2.26" fill="#f8fccd"/>
<rect x="176.17" y="525.23" width="10.21" height="2.26" fill="#fff4ae"/>
<rect x="186.34" y="525.23" width="10.21" height="2.26" fill="#fdfec3"/>
<rect x="23.7" y="527.44" width="10.21" height="2.26" fill="#fee091"/>
<rect x="33.86" y="527.44" width="10.21" height="2.26" fill="#fffab7"/>
<rect x="44.03" y="527.44" width="10.21" height="2.26" fill="#fff0a9"/>
<rect x="54.19" y="527.44" width="10.21" height="2.26" fill="#fecf85"/>
<rect x="64.36" y="527.44" width="10.21" height="2.26" fill="#feeba0"/>
<rect x="74.52" y="527.44" width="10.21" height="2.26" fill="#fda267"/>
<rect x="84.69" y="527.44" width="10.21" height="2.26" fill="#fc915c"/>
<rect x="94.85" y="527.44" width="10.21" height="2.26" fill="#e8f6ea"/>
<rect x="105.02" y="527.44" width="10.21" height="2.26" fill="#f3fad5"/>
<rect x="115.18" y="527.44" width="10.21" height="2.26" fill="#e1f4f6"/>
<rect x="125.35" y="527.44" width="10.21" height="2.26" fill="#ecf8e1"/>
<rect x="135.51" y="527.44" width="10.21" height="2.26" fill="#f3fbd4"/>
<rect x="145.68" y="527.44" width="10.21" height="2.26" fill="#fffbb8"/>
<rect x="155.84" y="527.44" width="10.21" height="2.26" fill="#edf8e1"/>
<rect x="166.01" y="527.44" width="10.21" height="2.26" fill="#f3fad6"/>
<rect x="176.17" y="527.44" width="10.21" height="2.26" fill="#f9fdca"/>
<rect x="186.34" y="527.44" width="10.21" height="2.26" fill="#fbfdc7"/>
<rect x="23.7" y="529.65" width="10.21" height="2.26" fill="#fed78a"/>
<rect x="33.86" y="529.65" width="10.21" height="2.26" fill="#feffc0"/>
<rect x="44.03" y="529.65" width="10.21" height="2.26" fill="#fbfdc7"/>
<rect x="54.19" y="529.65" width="10.21" height="2.26" fill="#fdc77f"/>
<rect x="64.36" y="529.65" width="10.21" height="2.26" fill="#fee79a"/>
<rect x="74.52" y="529.65" width="10.21" height="2.26" fill="#fed98b"/>
<rect x="84.69" y="529.65" width="10.21" height="2.26" fill="#fc8c59"/>
<rect x="94.85" y="529.65" width="10.21" height="2.26" fill="#ecf7e3"/>
<rect x="105.02" y="529.65" width="10.21" height="2.26" fill="#f1fad8"/>
<rect x="115.18" y="529.65" width="10.21" height="2.26" fill="#e8f6ea"/>
<rect x="125.35" y="529.65" width="10.21" height="2.26" fill="#eef8df"/>
<rect x="135.51" y="529.65" width="10.21" height="2.26" fill="#fffab8"/>
<rect x="145.68" y="529.65" width="10.21" height="2.26" fill="#feeba1"/>
<rect x="155.84" y="529.65" width="10.21" height="2.26" fill="#fdfec3"/>
<rect x="166.01" y="529.65" width="10.21" height="2.26" fill="#f2fad7"/>
<rect x="176.17" y="529.65" width="10.21" height="2.26" fill="#b7d8e9"/>
<rect x="186.34" y="529.65" width="10.21" height="2.26" fill="#feeea5"/>
<rect x="23.7" y="531.87" width="10.21" height="2.26" fill="#fff0a8"/>
<rect x="33.86" y="531.87" width="10.21" height="2.26" fill="#fff5b0"/>
<rect x="44.03" y="531.87" width="10.21" height="2.26" fill="#fee598"/>
<rect x="54.19" y="531.87" width="10.21" height="2.26" fill="#fede8f"/>
<rect x="64.36" y="531.87" width="10.21" height="2.26" fill="#fee89c"/>
<rect x="74.52" y="531.87" width="10.21" height="2.26" fill="#fb8957"/>
<rect x="84.69" y="531.87" width="10.21" height="2.26" fill="#fdb876"/>
<rect x="94.85" y="531.87" width="10.21" height="2.26" fill="#eaf7e6"/>
<rect x="105.02" y="531.87" width="10.21" height="2.26" fill="#f6fccf"/>
<rect x="115.18" y="531.87" width="10.21" height="2.26" fill="#f9fdc9"/>
<rect x="125.35" y="531.87" width="10.21" height="2.26" fill="#daeff6"/>
<rect x="135.51" y="531.87" width="10.21" height="2.26" fill="#fffcbb"/>
<rect x="145.68" y="531.87" width="10.21" height="2.26" fill="#fffbb9"/>
<rect x="155.84" y="531.87" width="10.21" height="2.26" fill="#fafdc9"/>
<rect x="166.01" y="531.87" width="10.21" height="2.26" fill="#f2fad7"/>
<rect x="176.17" y="531.87" width="10.21" height="2.26" fill="#b3d5e7"/>
<rect x="186.34" y="531.87" width="10.21" height="2.26" fill="#e3f4f3"/>
<rect x="23.7" y="534.08" width="10.21" height="2.26" fill="#fed387"/>
<rect x="33.86" y="534.08" width="10.21" height="2.26" fill="#fee99e"/>
<rect x="44.03" y="534.08" width="10.21" height="2.26" fill="#fff5b0"/>
<rect x="54.19" y="534.08" width="10.21" height="2.26" fill="#feeca2"/>
<rect x="64.36" y="534.08" width="10.21" height="2.26" fill="#fff7b3"/>
<rect x="74.52" y="534.08" width="10.21" height="2.26" fill="#fc9961"/>
<rect x="84.69" y="534.08" width="10.21" height="2.26" fill="#fc8d59"/>
<rect x="94.85" y="534.08" width="10.21" height="2.26" fill="#c7e2ef"/>
<rect x="105.02" y="534.08" width="10.21" height="2.26" fill="#eaf7e7"/>
<rect x="115.18" y="534.08" width="10.21" height="2.26" fill="#f8fccd"/>
<rect x="125.35" y="534.08" width="10.21" height="2.26" fill="#f4fbd3"/>
<rect x="135.51" y="534.08" width="10.21" height="2.26" fill="#ecf8e2"/>
<rect x="145.68" y="534.08" width="10.21" height="2.26" fill="#d2eaf3"/>
<rect x="155.84" y="534.08" width="10.21" height="2.26" fill="#fbfec6"/>
<rect x="166.01" y="534.08" width="10.21" height="2.26" fill="#f6fbd0"/>
<rect x="176.17" y="534.08" width="10.21" height="2.26" fill="#c7e3ef"/>
<rect x="186.34" y="534.08" width="10.21" height="2.26" fill="#f4fbd3"/>
<rect x="23.7" y="536.29" width="10.21" height="2.26" fill="#fdbb77"/>
<rect x="33.86" y="536.29" width="10.21" height="2.26" fill="#fff4ae"/>
<rect x="44.03" y="536.29" width="10.21" height="2.26" fill="#feefa7"/>
<rect x="54.19" y="536.29" width="10.21" height="2.26" fill="#fed186"/>
<rect x="64.36" y="536.29" width="10.21" height="2.26" fill="#fed689"/>
<rect x="74.52" y="536.29" width="10.21" height="2.26" fill="#fdc77f"/>
<rect x="84.69" y="536.29" width="10.21" height="2.26" fill="#fdca82"/>
<rect x="94.85" y="536.29" width="10.21" height="2.26" fill="#f0f9db"/>
<rect x="105.02" y="536.29" width="10.21" height="2.26" fill="#eaf7e5"/>
<rect x="115.18" y="536.29" width="10.21" height="2.26" fill="#fcfec4"/>
<rect x="125.35" y="536.29" width="10.21" height="2.26" fill="#f3fad5"/>
<rect x="135.51" y="536.29" width="10.21" height="2.26" fill="#ffffbe"/>
<rect x="145.68" y="536.29" width="10.21" height="2.26" fill="#fafdc8"/>
<rect x="155.84" y="536.29" width="10.21" height="2.26" fill="#f4fbd3"/>
<rect x="166.01" y="536.29" width="10.21" height="2.26" fill="#f9fdca"/>
<rect x="176.17" y="536.29" width="10.21" height="2.26" fill="#85b4d5"/>
<rect x="186.34" y="536.29" width="10.21" height="2.26" fill="#feeda3"/>
<rect x="23.7" y="538.51" width="10.21" height="2.26" fill="#fecc83"/>
<rect x="33.86" y="538.51" width="10.21" height="2.26" fill="#fee395"/>
<rect x="44.03" y="538.51" width="10.21" height="2.26" fill="#fee597"/>
<rect x="54.19" y="538.51" width="10.21" height="2.26" fill="#fdb976"/>
<rect x="64.36" y="538.51" width="10.21" height="2.26" fill="#fff5af"/>
<rect x="74.52" y="538.51" width="10.21" height="2.26" fill="#fedc8d"/>
<rect x="84.69" y="538.51" width="10.21" height="2.26" fill="#fdad6e"/>
<rect x="94.85" y="538.51" width="10.21" height="2.26" fill="#eaf7e6"/>
<rect x="105.02" y="538.51" width="10.21" height="2.26" fill="#fffdbc"/>
<rect x="115.18" y="538.51" width="10.21" height="2.26" fill="#f0f9da"/>
<rect x="125.35" y="538.51" width="10.21" height="2.26" fill="#f8fccd"/>
<rect x="135.51" y="538.51" width="10.21" height="2.26" fill="#ebf7e3"/>
<rect x="145.68" y="538.51" width="10.21" height="2.26" fill="#fffab8"/>
<rect x="155.84" y="538.51" width="10.21" height="2.26" fill="#f3fad5"/>
<rect x="166.01" y="538.51" width="10.21" height="2.26" fill="#f5fbd1"/>
<rect x="176.17" y="538.51" width="10.21" height="2.26" fill="#87b5d6"/>
<rect x="186.34" y="538.51" width="10.21" height="2.26" fill="#fafdc8"/>
<rect x="23.7" y="540.72" width="10.21" height="2.26" fill="#fdb876"/>
<rect x="33.86" y="540.72" width="10.21" height="2.26" fill="#feeca2"/>
<rect x="44.03" y="540.72" width="10.21" height="2.26" fill="#fffab7"/>
<rect x="54.19" y="540.72" width="10.21" height="2.26" fill="#f57c50"/>
<rect x="64.36" y="540.72" width="10.21" height="2.26" fill="#fee395"/>
<rect x="74.52" y="540.72" width="10.21" height="2.26" fill="#fdc77f"/>
<rect x="84.69" y="540.72" width="10.21" height="2.26" fill="#feefa6"/>
<rect x="94.85" y="540.72" width="10.21" height="2.26" fill="#95c2dd"/>
<rect x="105.02" y="540.72" width="10.21" height="2.26" fill="#e1f3f7"/>
<rect x="115.18" y="540.72" width="10.21" height="2.26" fill="#e5f5ef"/>
<rect x="125.35" y="540.72" width="10.21" height="2.26" fill="#f1f9da"/>
<rect x="135.51" y="540.72" width="10.21" height="2.26" fill="#d3ebf3"/>
<rect x="145.68" y="540.72" width="10.21" height="2.26" fill="#f1fad8"/>
<rect x="155.84" y="540.72" width="10.21" height="2.26" fill="#e4f5f0"/>
<rect x="166.01" y="540.72" width="10.21" height="2.26" fill="#f6fccf"/>
<rect x="176.17" y="540.72" width="10.21" height="2.26" fill="#9cc6df"/>
<rect x="186.34" y="540.72" width="10.21" height="2.26" fill="#feeea5"/>
<rect x="23.7" y="542.93" width="10.21" height="2.26" fill="#fdb473"/>
<rect x="33.86" y="542.93" width="10.21" height="2.26" fill="#feeaa0"/>
<rect x="44.03" y="542.93" width="10.21" height="2.26" fill="#fee192"/>
<rect x="54.19" y="542.93" width="10.21" height="2.26" fill="#f78152"/>
<rect x="64.36" y="542.93" width="10.21" height="2.26" fill="#feeba0"/>
<rect x="74.52" y="542.93" width="10.21" height="2.26" fill="#fdb070"/>
<rect x="84.69" y="542.93" width="10.21" height="2.26" fill="#feda8c"/>
<rect x="94.85" y="542.93" width="10.21" height="2.26" fill="#f6fbd0"/>
<rect x="105.02" y="542.93" width="10.21" height="2.26" fill="#fffdbb"/>
<rect x="115.18" y="542.93" width="10.21" height="2.26" fill="#fffdbd"/>
<rect x="125.35" y="542.93" width="10.21" height="2.26" fill="#daeff6"/>
<rect x="135.51" y="542.93" width="10.21" height="2.26" fill="#f9fdca"/>
<rect x="145.68" y="542.93" width="10.21" height="2.26" fill="#f5fbd1"/>
<rect x="155.84" y="542.93" width="10.21" height="2.26" fill="#edf8e1"/>
<rect x="166.01" y="542.93" width="10.21" height="2.26" fill="#eff9dd"/>
<rect x="176.17" y="542.93" width="10.21" height="2.26" fill="#8dbbd9"/>
<rect x="186.34" y="542.93" width="10.21" height="2.26" fill="#ffffbe"/>
<rect x="23.7" y="545.15" width="10.21" height="2.26" fill="#f3764d"/>
<rect x="33.86" y="545.15" width="10.21" height="2.26" fill="#fed689"/>
<rect x="44.03" y="545.15" width="10.21" height="2.26" fill="#fffbba"/>
<rect x="54.19" y="545.15" width="10.21" height="2.26" fill="#fed88b"/>
<rect x="64.36" y="545.15" width="10.21" height="2.26" fill="#fff7b3"/>
<rect x="74.52" y="545.15" width="10.21" height="2.26" fill="#fff0a8"/>
<rect x="84.69" y="545.15" width="10.21" height="2.26" fill="#feefa7"/>
<rect x="94.85" y="545.15" width="10.21" height="2.26" fill="#eef9de"/>
<rect x="105.02" y="545.15" width="10.21" height="2.26" fill="#eaf7e6"/>
<rect x="115.18" y="545.15" width="10.21" height="2.26" fill="#e6f5ed"/>
<rect x="125.35" y="545.15" width="10.21" height="2.26" fill="#f5fbd2"/>
<rect x="135.51" y="545.15" width="10.21" height="2.26" fill="#fafdc8"/>
<rect x="145.68" y="545.15" width="10.21" height="2.26" fill="#feffc1"/>
<rect x="155.84" y="545.15" width="10.21" height="2.26" fill="#fff9b6"/>
<rect x="166.01" y="545.15" width="10.21" height="2.26" fill="#fcfec5"/>
<rect x="176.17" y="545.15" width="10.21" height="2.26" fill="#add1e5"/>
<rect x="186.34" y="545.15" width="10.21" height="2.26" fill="#fdfec3"/>
<rect x="23.7" y="547.36" width="10.21" height="2.26" fill="#f57c50"/>
<rect x="33.86" y="547.36" width="10.21" height="2.26" fill="#fece84"/>
<rect x="44.03" y="547.36" width="10.21" height="2.26" fill="#fdaa6c"/>
<rect x="54.19" y="547.36" width="10.21" height="2.26" fill="#fa8756"/>
<rect x="64.36" y="547.36" width="10.21" height="2.26" fill="#fff2ab"/>
<rect x="74.52" y="547.36" width="10.21" height="2.26" fill="#fff0a9"/>
<rect x="84.69" y="547.36" width="10.21" height="2.26" fill="#fee496"/>
<rect x="94.85" y="547.36" width="10.21" height="2.26" fill="#eff9dd"/>
<rect x="105.02" y="547.36" width="10.21" height="2.26" fill="#f4fbd3"/>
<rect x="115.18" y="547.36" width="10.21" height="2.26" fill="#f8fccb"/>
<rect x="125.35" y="547.36" width="10.21" height="2.26" fill="#f4fbd3"/>
<rect x="135.51" y="547.36" width="10.21" height="2.26" fill="#e2f4f4"/>
<rect x="145.68" y="547.36" width="10.21" height="2.26" fill="#fffebd"/>
<rect x="155.84" y="547.36" width="10.21" height="2.26" fill="#edf8e1"/>
<rect x="166.01" y="547.36" width="10.21" height="2.26" fill="#f9fdca"/>
<rect x="176.17" y="547.36" width="10.21" height="2.26" fill="#d2eaf3"/>
<rect x="186.34" y="547.36" width="10.21" height="2.26" fill="#f7fccd"/>
<rect x="23.7" y="549.57" width="10.21" height="2.26" fill="#dc3d2e"/>
<rect x="33.86" y="549.57" width="10.21" height="2.26" fill="#fee699"/>
<rect x="44.03" y="549.57" width="10.21" height="2.26" fill="#fede8f"/>
<rect x="54.19" y="549.57" width="10.21" height="2.26" fill="#fed388"/>
<rect x="64.36" y="549.57" width="10.21" height="2.26" fill="#fff9b6"/>
<rect x="74.52" y="549.57" width="10.21" height="2.26" fill="#fecb82"/>
<rect x="84.69" y="549.57" width="10.21" height="2.26" fill="#feeca2"/>
<rect x="94.85" y="549.57" width="10.21" height="2.26" fill="#e3f4f3"/>
<rect x="105.02" y="549.57" width="10.21" height="2.26" fill="#e1f3f7"/>
<rect x="115.18" y="549.57" width="10.21" height="2.26" fill="#b8d9e9"/>
<rect x="125.35" y="549.57" width="10.21" height="2.26" fill="#f7fcce"/>
<rect x="135.51" y="549.57" width="10.21" height="2.26" fill="#e7f6eb"/>
<rect x="145.68" y="549.57" width="10.21" height="2.26" fill="#fcfec5"/>
<rect x="155.84" y="549.57" width="10.21" height="2.26" fill="#fff9b5"/>
<rect x="166.01" y="549.57" width="10.21" height="2.26" fill="#f3fbd4"/>
<rect x="176.17" y="549.57" width="10.21" height="2.26" fill="#d9eef5"/>
<rect x="186.34" y="549.57" width="10.21" height="2.26" fill="#fffcba"/>
<rect x="23.7" y="551.79" width="10.21" height="2.26" fill="#fca267"/>
<rect x="33.86" y="551.79" width="10.21" height="2.26" fill="#fecd83"/>
<rect x="44.03" y="551.79" width="10.21" height="2.26" fill="#fee89d"/>
<rect x="54.19" y="551.79" width="10.21" height="2.26" fill="#fc935d"/>
<rect x="64.36" y="551.79" width="10.21" height="2.26" fill="#fdc47d"/>
<rect x="74.52" y="551.79" width="10.21" height="2.26" fill="#fedc8d"/>
<rect x="84.69" y="551.79" width="10.21" height="2.26" fill="#fc8f5a"/>
<rect x="94.85" y="551.79" width="10.21" height="2.26" fill="#f1f9d9"/>
<rect x="105.02" y="551.79" width="10.21" height="2.26" fill="#fcfec4"/>
<rect x="115.18" y="551.79" width="10.21" height="2.26" fill="#eef9de"/>
<rect x="125.35" y="551.79" width="10.21" height="2.26" fill="#feffc0"/>
<rect x="135.51" y="551.79" width="10.21" height="2.26" fill="#e3f4f3"/>
<rect x="145.68" y="551.79" width="10.21" height="2.26" fill="#fcfec4"/>
<rect x="155.84" y="551.79" width="10.21" height="2.26" fill="#f2fad7"/>
<rect x="166.01" y="551.79" width="10.21" height="2.26" fill="#ebf7e3"/>
<rect x="176.17" y="551.79" width="10.21" height="2.26" fill="#ebf7e5"/>
<rect x="186.34" y="551.79" width="10.21" height="2.26" fill="#fff3ad"/>
<rect x="23.7" y="554" width="10.21" height="2.26" fill="#fedb8d"/>
<rect x="33.86" y="554" width="10.21" height="2.26" fill="#feda8c"/>
<rect x="44.03" y="554" width="10.21" height="2.26" fill="#fece84"/>
<rect x="54.19" y="554" width="10.21" height="2.26" fill="#fda367"/>
<rect x="64.36" y="554" width="10.21" height="2.26" fill="#fff0a8"/>
<rect x="74.52" y="554" width="10.21" height="2.26" fill="#fee496"/>
<rect x="84.69" y="554" width="10.21" height="2.26" fill="#fee294"/>
<rect x="94.85" y="554" width="10.21" height="2.26" fill="#e5f5ee"/>
<rect x="105.02" y="554" width="10.21" height="2.26" fill="#e7f6ec"/>
<rect x="115.18" y="554" width="10.21" height="2.26" fill="#feffc1"/>
<rect x="125.35" y="554" width="10.21" height="2.26" fill="#f1f9d9"/>
<rect x="135.51" y="554" width="10.21" height="2.26" fill="#fff2ab"/>
<rect x="145.68" y="554" width="10.21" height="2.26" fill="#fee699"/>
<rect x="155.84" y="554" width="10.21" height="2.26" fill="#eff9dd"/>
<rect x="166.01" y="554" width="10.21" height="2.26" fill="#fbfdc6"/>
<rect x="176.17" y="554" width="10.21" height="2.26" fill="#9dc7e0"/>
<rect x="186.34" y="554" width="10.21" height="2.26" fill="#fafdc8"/>
<rect x="23.7" y="556.21" width="10.21" height="2.26" fill="#fff1aa"/>
<rect x="33.86" y="556.21" width="10.21" height="2.26" fill="#fffab8"/>
<rect x="44.03" y="556.21" width="10.21" height="2.26" fill="#fed086"/>
<rect x="54.19" y="556.21" width="10.21" height="2.26" fill="#fdb775"/>
<rect x="64.36" y="556.21" width="10.21" height="2.26" fill="#fff6b1"/>
<rect x="74.52" y="556.21" width="10.21" height="2.26" fill="#fee99e"/>
<rect x="84.69" y="556.21" width="10.21" height="2.26" fill="#fed98b"/>
<rect x="94.85" y="556.21" width="10.21" height="2.26" fill="#fffebe"/>
<rect x="105.02" y="556.21" width="10.21" height="2.26" fill="#d8eef5"/>
<rect x="115.18" y="556.21" width="10.21" height="2.26" fill="#fff7b3"/>
<rect x="125.35" y="556.21" width="10.21" height="2.26" fill="#d5ecf4"/>
<rect x="135.51" y="556.21" width="10.21" height="2.26" fill="#e6f5ec"/>
<rect x="145.68" y="556.21" width="10.21" height="2.26" fill="#fafdc8"/>
<rect x="155.84" y="556.21" width="10.21" height="2.26" fill="#fff4af"/>
<rect x="166.01" y="556.21" width="10.21" height="2.26" fill="#ffffc0"/>
<rect x="176.17" y="556.21" width="10.21" height="2.26" fill="#e5f5ef"/>
<rect x="186.34" y="556.21" width="10.21" height="2.26" fill="#fee99e"/>
<rect x="23.7" y="558.43" width="10.21" height="2.26" fill="#fee699"/>
<rect x="33.86" y="558.43" width="10.21" height="2.26" fill="#fca066"/>
<rect x="44.03" y="558.43" width="10.21" height="2.26" fill="#fecc83"/>
<rect x="54.19" y="558.43" width="10.21" height="2.26" fill="#fed085"/>
<rect x="64.36" y="558.43" width="10.21" height="2.26" fill="#fff9b6"/>
<rect x="74.52" y="558.43" width="10.21" height="2.26" fill="#fedd8e"/>
<rect x="84.69" y="558.43" width="10.21" height="2.26" fill="#fda76a"/>
<rect x="94.85" y="558.43" width="10.21" height="2.26" fill="#f1fad8"/>
<rect x="105.02" y="558.43" width="10.21" height="2.26" fill="#e9f7e7"/>
<rect x="115.18" y="558.43" width="10.21" height="2.26" fill="#feffc0"/>
<rect x="125.35" y="558.43" width="10.21" height="2.26" fill="#d2eaf3"/>
<rect x="135.51" y="558.43" width="10.21" height="2.26" fill="#f1fad8"/>
<rect x="145.68" y="558.43" width="10.21" height="2.26" fill="#f4fbd2"/>
<rect x="155.84" y="558.43" width="10.21" height="2.26" fill="#fffab8"/>
<rect x="166.01" y="558.43" width="10.21" height="2.26" fill="#eaf7e6"/>
<rect x="176.17" y="558.43" width="10.21" height="2.26" fill="#e4f4f1"/>
<rect x="186.34" y="558.43" width="10.21" height="2.26" fill="#fffdbc"/>
<rect x="23.7" y="560.64" width="10.21" height="2.26" fill="#fed085"/>
<rect x="33.86" y="560.64" width="10.21" height="2.26" fill="#fed78a"/>
<rect x="44.03" y="560.64" width="10.21" height="2.26" fill="#fc9b62"/>
<rect x="54.19" y="560.64" width="10.21" height="2.26" fill="#fdb272"/>
<rect x="64.36" y="560.64" width="10.21" height="2.26" fill="#feffc0"/>
<rect x="74.52" y="560.64" width="10.21" height="2.26" fill="#fdb876"/>
<rect x="84.69" y="560.64" width="10.21" height="2.26" fill="#fdbc78"/>
<rect x="94.85" y="560.64" width="10.21" height="2.26" fill="#eff9dc"/>
<rect x="105.02" y="560.64" width="10.21" height="2.26" fill="#fafdc8"/>
<rect x="115.18" y="560.64" width="10.21" height="2.26" fill="#f9fdca"/>
<rect x="125.35" y="560.64" width="10.21" height="2.26" fill="#e3f4f2"/>
<rect x="135.51" y="560.64" width="10.21" height="2.26" fill="#c3e0ed"/>
<rect x="145.68" y="560.64" width="10.21" height="2.26" fill="#eff9dc"/>
<rect x="155.84" y="560.64" width="10.21" height="2.26" fill="#f1fad9"/>
<rect x="166.01" y="560.64" width="10.21" height="2.26" fill="#fafdc7"/>
<rect x="176.17" y="560.64" width="10.21" height="2.26" fill="#a8cee3"/>
<rect x="186.34" y="560.64" width="10.21" height="2.26" fill="#f4fbd2"/>
<rect x="23.7" y="562.85" width="10.21" height="2.26" fill="#fee090"/>
<rect x="33.86" y="562.85" width="10.21" height="2.26" fill="#fecd84"/>
<rect x="44.03" y="562.85" width="10.21" height="2.26" fill="#fdcb82"/>
<rect x="54.19" y="562.85" width="10.21" height="2.26" fill="#e6563b"/>
<rect x="64.36" y="562.85" width="10.21" height="2.26" fill="#fdba77"/>
<rect x="74.52" y="562.85" width="10.21" height="2.26" fill="#fdad6e"/>
<rect x="84.69" y="562.85" width="10.21" height="2.26" fill="#fc955f"/>
<rect x="94.85" y="562.85" width="10.21" height="2.26" fill="#eff9dc"/>
<rect x="105.02" y="562.85" width="10.21" height="2.26" fill="#f4fbd3"/>
<rect x="115.18" y="562.85" width="10.21" height="2.26" fill="#f0f9db"/>
<rect x="125.35" y="562.85" width="10.21" height="2.26" fill="#f2fad7"/>
<rect x="135.51" y="562.85" width="10.21" height="2.26" fill="#eff9dc"/>
<rect x="145.68" y="562.85" width="10.21" height="2.26" fill="#ffffc0"/>
<rect x="155.84" y="562.85" width="10.21" height="2.26" fill="#e1f3f6"/>
<rect x="166.01" y="562.85" width="10.21" height="2.26" fill="#ecf8e1"/>
<rect x="176.17" y="562.85" width="10.21" height="2.26" fill="#badaea"/>
<rect x="186.34" y="562.85" width="10.21" height="2.26" fill="#f2fad7"/>
<rect x="23.7" y="565.07" width="10.21" height="2.26" fill="#fdae6f"/>
<rect x="33.86" y="565.07" width="10.21" height="2.26" fill="#fdb674"/>
<rect x="44.03" y="565.07" width="10.21" height="2.26" fill="#fdc77f"/>
<rect x="54.19" y="565.07" width="10.21" height="2.26" fill="#fda267"/>
<rect x="64.36" y="565.07" width="10.21" height="2.26" fill="#fdc47e"/>
<rect x="74.52" y="565.07" width="10.21" height="2.26" fill="#fff1aa"/>
<rect x="84.69" y="565.07" width="10.21" height="2.26" fill="#fedb8d"/>
<rect x="94.85" y="565.07" width="10.21" height="2.26" fill="#fdfec2"/>
<rect x="105.02" y="565.07" width="10.21" height="2.26" fill="#ffffbf"/>
<rect x="115.18" y="565.07" width="10.21" height="2.26" fill="#fbfec6"/>
<rect x="125.35" y="565.07" width="10.21" height="2.26" fill="#f4fbd4"/>
<rect x="135.51" y="565.07" width="10.21" height="2.26" fill="#cbe5f0"/>
<rect x="145.68" y="565.07" width="10.21" height="2.26" fill="#f3fad5"/>
<rect x="155.84" y="565.07" width="10.21" height="2.26" fill="#f4fbd4"/>
<rect x="166.01" y="565.07" width="10.21" height="2.26" fill="#f9fdca"/>
<rect x="176.17" y="565.07" width="10.21" height="2.26" fill="#dff3f8"/>
<rect x="186.34" y="565.07" width="10.21" height="2.26" fill="#e4f5f0"/>
<rect x="23.7" y="567.28" width="10.21" height="2.26" fill="#e1f4f6"/>
<rect x="33.86" y="567.28" width="10.21" height="2.26" fill="#eef9de"/>
<rect x="44.03" y="567.28" width="10.21" height="2.26" fill="#eaf7e6"/>
<rect x="54.19" y="567.28" width="10.21" height="2.26" fill="#eff9dd"/>
<rect x="64.36" y="567.28" width="10.21" height="2.26" fill="#f7fccd"/>
<rect x="74.52" y="567.28" width="10.21" height="2.26" fill="#ebf7e4"/>
<rect x="84.69" y="567.28" width="10.21" height="2.26" fill="#e7f6ec"/>
<rect x="94.85" y="567.28" width="10.21" height="2.26" fill="#fdb372"/>
<rect x="105.02" y="567.28" width="10.21" height="2.26" fill="#fee090"/>
<rect x="115.18" y="567.28" width="10.21" height="2.26" fill="#fee99e"/>
<rect x="125.35" y="567.28" width="10.21" height="2.26" fill="#fee79a"/>
<rect x="135.51" y="567.28" width="10.21" height="2.26" fill="#fee191"/>
<rect x="145.68" y="567.28" width="10.21" height="2.26" fill="#fedd8e"/>
<rect x="155.84" y="567.28" width="10.21" height="2.26" fill="#feeea6"/>
<rect x="166.01" y="567.28" width="10.21" height="2.26" fill="#fee79b"/>
<rect x="176.17" y="567.28" width="10.21" height="2.26" fill="#fff9b6"/>
<rect x="186.34" y="567.28" width="10.21" height="2.26" fill="#fee294"/>
<rect x="23.7" y="569.49" width="10.21" height="2.26" fill="#e4f4f1"/>
<rect x="33.86" y="569.49" width="10.21" height="2.26" fill="#fff5af"/>
<rect x="44.03" y="569.49" width="10.21" height="2.26" fill="#f6fccf"/>
<rect x="54.19" y="569.49" width="10.21" height="2.26" fill="#f3fad5"/>
<rect x="64.36" y="569.49" width="10.21" height="2.26" fill="#fff6b2"/>
<rect x="74.52" y="569.49" width="10.21" height="2.26" fill="#f4fbd2"/>
<rect x="84.69" y="569.49" width="10.21" height="2.26" fill="#e7f6ea"/>
<rect x="94.85" y="569.49" width="10.21" height="2.26" fill="#fdca81"/>
<rect x="105.02" y="569.49" width="10.21" height="2.26" fill="#fee79a"/>
<rect x="115.18" y="569.49" width="10.21" height="2.26" fill="#fedf8f"/>
<rect x="125.35" y="569.49" width="10.21" height="2.26" fill="#fffbb9"/>
<rect x="135.51" y="569.49" width="10.21" height="2.26" fill="#fee395"/>
<rect x="145.68" y="569.49" width="10.21" height="2.26" fill="#fdb573"/>
<rect x="155.84" y="569.49" width="10.21" height="2.26" fill="#fee497"/>
<rect x="166.01" y="569.49" width="10.21" height="2.26" fill="#fee293"/>
<rect x="176.17" y="569.49" width="10.21" height="2.26" fill="#ffffbe"/>
<rect x="186.34" y="569.49" width="10.21" height="2.26" fill="#fcfec5"/>
<rect x="23.7" y="571.71" width="10.21" height="2.26" fill="#e5f5ee"/>
<rect x="33.86" y="571.71" width="10.21" height="2.26" fill="#fff2ac"/>
<rect x="44.03" y="571.71" width="10.21" height="2.26" fill="#eaf7e6"/>
<rect x="54.19" y="571.71" width="10.21" height="2.26" fill="#f1fad9"/>
<rect x="64.36" y="571.71" width="10.21" height="2.26" fill="#f7fccd"/>
<rect x="74.52" y="571.71" width="10.21" height="2.26" fill="#eaf7e6"/>
<rect x="84.69" y="571.71" width="10.21" height="2.26" fill="#f2fad6"/>
<rect x="94.85" y="571.71" width="10.21" height="2.26" fill="#fee99d"/>
<rect x="105.02" y="571.71" width="10.21" height="2.26" fill="#fee99d"/>
<rect x="115.18" y="571.71" width="10.21" height="2.26" fill="#fc915b"/>
<rect x="125.35" y="571.71" width="10.21" height="2.26" fill="#fee394"/>
<rect x="135.51" y="571.71" width="10.21" height="2.26" fill="#fee191"/>
<rect x="145.68" y="571.71" width="10.21" height="2.26" fill="#fed68a"/>
<rect x="155.84" y="571.71" width="10.21" height="2.26" fill="#feeca2"/>
<rect x="166.01" y="571.71" width="10.21" height="2.26" fill="#feda8c"/>
<rect x="176.17" y="571.71" width="10.21" height="2.26" fill="#f7fcce"/>
<rect x="186.34" y="571.71" width="10.21" height="2.26" fill="#fffbb9"/>
<rect x="23.7" y="573.92" width="10.21" height="2.26" fill="#eef8de"/>
<rect x="33.86" y="573.92" width="10.21" height="2.26" fill="#ffffbf"/>
<rect x="44.03" y="573.92" width="10.21" height="2.26" fill="#fffcba"/>
<rect x="54.19" y="573.92" width="10.21" height="2.26" fill="#fdfec3"/>
<rect x="64.36" y="573.92" width="10.21" height="2.26" fill="#ecf8e2"/>
<rect x="74.52" y="573.92" width="10.21" height="2.26" fill="#eff9dc"/>
<rect x="84.69" y="573.92" width="10.21" height="2.26" fill="#cfe8f2"/>
<rect x="94.85" y="573.92" width="10.21" height="2.26" fill="#fee496"/>
<rect x="105.02" y="573.92" width="10.21" height="2.26" fill="#fdb070"/>
<rect x="115.18" y="573.92" width="10.21" height="2.26" fill="#fda96b"/>
<rect x="125.35" y="573.92" width="10.21" height="2.26" fill="#fed78a"/>
<rect x="135.51" y="573.92" width="10.21" height="2.26" fill="#fdc77f"/>
<rect x="145.68" y="573.92" width="10.21" height="2.26" fill="#fed287"/>
<rect x="155.84" y="573.92" width="10.21" height="2.26" fill="#fecc83"/>
<rect x="166.01" y="573.92" width="10.21" height="2.26" fill="#fed085"/>
<rect x="176.17" y="573.92" width="10.21" height="2.26" fill="#fcfec4"/>
<rect x="186.34" y="573.92" width="10.21" height="2.26" fill="#feeba0"/>
<rect x="23.7" y="576.13" width="10.21" height="2.26" fill="#b6d7e9"/>
<rect x="33.86" y="576.13" width="10.21" height="2.26" fill="#f5fbd1"/>
<rect x="44.03" y="576.13" width="10.21" height="2.26" fill="#eff9dc"/>
<rect x="54.19" y="576.13" width="10.21" height="2.26" fill="#f2fad6"/>
<rect x="64.36" y="576.13" width="10.21" height="2.26" fill="#f8fccc"/>
<rect x="74.52" y="576.13" width="10.21" height="2.26" fill="#ecf8e2"/>
<rect x="84.69" y="576.13" width="10.21" height="2.26" fill="#c6e2ee"/>
<rect x="94.85" y="576.13" width="10.21" height="2.26" fill="#fdc980"/>
<rect x="105.02" y="576.13" width="10.21" height="2.26" fill="#fece84"/>
<rect x="115.18" y="576.13" width="10.21" height="2.26" fill="#fecc83"/>
<rect x="125.35" y="576.13" width="10.21" height="2.26" fill="#fee69a"/>
<rect x="135.51" y="576.13" width="10.21" height="2.26" fill="#fc9b62"/>
<rect x="145.68" y="576.13" width="10.21" height="2.26" fill="#fdc27c"/>
<rect x="155.84" y="576.13" width="10.21" height="2.26" fill="#fdc07b"/>
<rect x="166.01" y="576.13" width="10.21" height="2.26" fill="#fed78a"/>
<rect x="176.17" y="576.13" width="10.21" height="2.26" fill="#fff9b5"/>
<rect x="186.34" y="576.13" width="10.21" height="2.26" fill="#fee79a"/>
<rect x="23.7" y="578.35" width="10.21" height="2.26" fill="#c0deec"/>
<rect x="33.86" y="578.35" width="10.21" height="2.26" fill="#eff9dd"/>
<rect x="44.03" y="578.35" width="10.21" height="2.26" fill="#eef8de"/>
<rect x="54.19" y="578.35" width="10.21" height="2.26" fill="#e0f3f8"/>
<rect x="64.36" y="578.35" width="10.21" height="2.26" fill="#ffffbe"/>
<rect x="74.52" y="578.35" width="10.21" height="2.26" fill="#b5d7e8"/>
<rect x="84.69" y="578.35" width="10.21" height="2.26" fill="#ebf7e3"/>
<rect x="94.85" y="578.35" width="10.21" height="2.26" fill="#fdc57e"/>
<rect x="105.02" y="578.35" width="10.21" height="2.26" fill="#fdb271"/>
<rect x="115.18" y="578.35" width="10.21" height="2.26" fill="#fedf90"/>
<rect x="125.35" y="578.35" width="10.21" height="2.26" fill="#fdb473"/>
<rect x="135.51" y="578.35" width="10.21" height="2.26" fill="#fed589"/>
<rect x="145.68" y="578.35" width="10.21" height="2.26" fill="#fecc83"/>
<rect x="155.84" y="578.35" width="10.21" height="2.26" fill="#feeba1"/>
<rect x="166.01" y="578.35" width="10.21" height="2.26" fill="#fdc37d"/>
<rect x="176.17" y="578.35" width="10.21" height="2.26" fill="#fff2ab"/>
<rect x="186.34" y="578.35" width="10.21" height="2.26" fill="#f8fccb"/>
<rect x="23.7" y="580.56" width="10.21" height="2.26" fill="#daeff6"/>
<rect x="33.86" y="580.56" width="10.21" height="2.26" fill="#fffab7"/>
<rect x="44.03" y="580.56" width="10.21" height="2.26" fill="#e8f6e9"/>
<rect x="54.19" y="580.56" width="10.21" height="2.26" fill="#eff9dd"/>
<rect x="64.36" y="580.56" width="10.21" height="2.26" fill="#fff8b4"/>
<rect x="74.52" y="580.56" width="10.21" height="2.26" fill="#e2f4f4"/>
<rect x="84.69" y="580.56" width="10.21" height="2.26" fill="#f7fccd"/>
<rect x="94.85" y="580.56" width="10.21" height="2.26" fill="#fed387"/>
<rect x="105.02" y="580.56" width="10.21" height="2.26" fill="#fee191"/>
<rect x="115.18" y="580.56" width="10.21" height="2.26" fill="#feeea5"/>
<rect x="125.35" y="580.56" width="10.21" height="2.26" fill="#fff5b0"/>
<rect x="135.51" y="580.56" width="10.21" height="2.26" fill="#fdb875"/>
<rect x="145.68" y="580.56" width="10.21" height="2.26" fill="#fee598"/>
<rect x="155.84" y="580.56" width="10.21" height="2.26" fill="#fee598"/>
<rect x="166.01" y="580.56" width="10.21" height="2.26" fill="#fdbe7a"/>
<rect x="176.17" y="580.56" width="10.21" height="2.26" fill="#fff0a8"/>
<rect x="186.34" y="580.56" width="10.21" height="2.26" fill="#fff2ac"/>
<rect x="23.7" y="582.77" width="10.21" height="2.26" fill="#90bedb"/>
<rect x="33.86" y="582.77" width="10.21" height="2.26" fill="#fcfec4"/>
<rect x="44.03" y="582.77" width="10.21" height="2.26" fill="#e6f5ed"/>
<rect x="54.19" y="582.77" width="10.21" height="2.26" fill="#dff2f8"/>
<rect x="64.36" y="582.77" width="10.21" height="2.26" fill="#fffab7"/>
<rect x="74.52" y="582.77" width="10.21" height="2.26" fill="#daeff6"/>
<rect x="84.69" y="582.77" width="10.21" height="2.26" fill="#d6ecf4"/>
<rect x="94.85" y="582.77" width="10.21" height="2.26" fill="#fb8a57"/>
<rect x="105.02" y="582.77" width="10.21" height="2.26" fill="#fdba77"/>
<rect x="115.18" y="582.77" width="10.21" height="2.26" fill="#fedf8f"/>
<rect x="125.35" y="582.77" width="10.21" height="2.26" fill="#fee597"/>
<rect x="135.51" y="582.77" width="10.21" height="2.26" fill="#fda367"/>
<rect x="145.68" y="582.77" width="10.21" height="2.26" fill="#feea9e"/>
<rect x="155.84" y="582.77" width="10.21" height="2.26" fill="#fdb372"/>
<rect x="166.01" y="582.77" width="10.21" height="2.26" fill="#fc9f65"/>
<rect x="176.17" y="582.77" width="10.21" height="2.26" fill="#fff4ae"/>
<rect x="186.34" y="582.77" width="10.21" height="2.26" fill="#fee598"/>
<rect x="23.7" y="584.99" width="10.21" height="2.26" fill="#f4fbd4"/>
<rect x="33.86" y="584.99" width="10.21" height="2.26" fill="#fffebe"/>
<rect x="44.03" y="584.99" width="10.21" height="2.26" fill="#e9f7e7"/>
<rect x="54.19" y="584.99" width="10.21" height="2.26" fill="#f2fad7"/>
<rect x="64.36" y="584.99" width="10.21" height="2.26" fill="#fafdc7"/>
<rect x="74.52" y="584.99" width="10.21" height="2.26" fill="#e7f6ec"/>
<rect x="84.69" y="584.99" width="10.21" height="2.26" fill="#e0f3f8"/>
<rect x="94.85" y="584.99" width="10.21" height="2.26" fill="#feeda3"/>
<rect x="105.02" y="584.99" width="10.21" height="2.26" fill="#fee89d"/>
<rect x="115.18" y="584.99" width="10.21" height="2.26" fill="#fdc880"/>
<rect x="125.35" y="584.99" width="10.21" height="2.26" fill="#fff6b1"/>
<rect x="135.51" y="584.99" width="10.21" height="2.26" fill="#fece84"/>
<rect x="145.68" y="584.99" width="10.21" height="2.26" fill="#fee090"/>
<rect x="155.84" y="584.99" width="10.21" height="2.26" fill="#fee598"/>
<rect x="166.01" y="584.99" width="10.21" height="2.26" fill="#fdb473"/>
<rect x="176.17" y="584.99" width="10.21" height="2.26" fill="#fff0a8"/>
<rect x="186.34" y="584.99" width="10.21" height="2.26" fill="#fffbb9"/>
<rect x="23.7" y="587.2" width="10.21" height="2.26" fill="#eff9dd"/>
<rect x="33.86" y="587.2" width="10.21" height="2.26" fill="#ebf7e4"/>
<rect x="44.03" y="587.2" width="10.21" height="2.26" fill="#f5fbd2"/>
<rect x="54.19" y="587.2" width="10.21" height="2.26" fill="#ecf8e2"/>
<rect x="64.36" y="587.2" width="10.21" height="2.26" fill="#feffc0"/>
<rect x="74.52" y="587.2" width="10.21" height="2.26" fill="#fff6b2"/>
<rect x="84.69" y="587.2" width="10.21" height="2.26" fill="#d6edf4"/>
<rect x="94.85" y="587.2" width="10.21" height="2.26" fill="#fee395"/>
<rect x="105.02" y="587.2" width="10.21" height="2.26" fill="#feeda4"/>
<rect x="115.18" y="587.2" width="10.21" height="2.26" fill="#fed68a"/>
<rect x="125.35" y="587.2" width="10.21" height="2.26" fill="#fece84"/>
<rect x="135.51" y="587.2" width="10.21" height="2.26" fill="#fffab8"/>
<rect x="145.68" y="587.2" width="10.21" height="2.26" fill="#fdb473"/>
<rect x="155.84" y="587.2" width="10.21" height="2.26" fill="#fdab6d"/>
<rect x="166.01" y="587.2" width="10.21" height="2.26" fill="#feffc1"/>
<rect x="176.17" y="587.2" width="10.21" height="2.26" fill="#f4fbd4"/>
<rect x="186.34" y="587.2" width="10.21" height="2.26" fill="#feefa7"/>
<rect x="23.7" y="589.41" width="10.21" height="2.26" fill="#f1fad9"/>
<rect x="33.86" y="589.41" width="10.21" height="2.26" fill="#f9fdca"/>
<rect x="44.03" y="589.41" width="10.21" height="2.26" fill="#fffdbc"/>
<rect x="54.19" y="589.41" width="10.21" height="2.26" fill="#dbf0f6"/>
<rect x="64.36" y="589.41" width="10.21" height="2.26" fill="#feffc1"/>
<rect x="74.52" y="589.41" width="10.21" height="2.26" fill="#a4cbe2"/>
<rect x="84.69" y="589.41" width="10.21" height="2.26" fill="#daeff6"/>
<rect x="94.85" y="589.41" width="10.21" height="2.26" fill="#fff3ad"/>
<rect x="105.02" y="589.41" width="10.21" height="2.26" fill="#fee395"/>
<rect x="115.18" y="589.41" width="10.21" height="2.26" fill="#fdb070"/>
<rect x="125.35" y="589.41" width="10.21" height="2.26" fill="#fee89c"/>
<rect x="135.51" y="589.41" width="10.21" height="2.26" fill="#fede8f"/>
<rect x="145.68" y="589.41" width="10.21" height="2.26" fill="#fedc8d"/>
<rect x="155.84" y="589.41" width="10.21" height="2.26" fill="#feea9f"/>
<rect x="166.01" y="589.41" width="10.21" height="2.26" fill="#fed88b"/>
<rect x="176.17" y="589.41" width="10.21" height="2.26" fill="#fff1aa"/>
<rect x="186.34" y="589.41" width="10.21" height="2.26" fill="#fff7b3"/>
<rect x="23.7" y="591.63" width="10.21" height="2.26" fill="#e8f6e9"/>
<rect x="33.86" y="591.63" width="10.21" height="2.26" fill="#f0f9db"/>
<rect x="44.03" y="591.63" width="10.21" height="2.26" fill="#e4f5f0"/>
<rect x="54.19" y="591.63" width="10.21" height="2.26" fill="#dcf0f6"/>
<rect x="64.36" y="591.63" width="10.21" height="2.26" fill="#e5f5ef"/>
<rect x="74.52" y="591.63" width="10.21" height="2.26" fill="#5f8ec1"/>
<rect x="84.69" y="591.63" width="10.21" height="2.26" fill="#c5e1ee"/>
<rect x="94.85" y="591.63" width="10.21" height="2.26" fill="#fdc47e"/>
<rect x="105.02" y="591.63" width="10.21" height="2.26" fill="#fdaa6c"/>
<rect x="115.18" y="591.63" width="10.21" height="2.26" fill="#fc955f"/>
<rect x="125.35" y="591.63" width="10.21" height="2.26" fill="#fee293"/>
<rect x="135.51" y="591.63" width="10.21" height="2.26" fill="#fc915c"/>
<rect x="145.68" y="591.63" width="10.21" height="2.26" fill="#fdcb82"/>
<rect x="155.84" y="591.63" width="10.21" height="2.26" fill="#fdb674"/>
<rect x="166.01" y="591.63" width="10.21" height="2.26" fill="#fee598"/>
<rect x="176.17" y="591.63" width="10.21" height="2.26" fill="#feeda3"/>
<rect x="186.34" y="591.63" width="10.21" height="2.26" fill="#fff8b5"/>
<rect x="23.7" y="593.84" width="10.21" height="2.26" fill="#cfe8f2"/>
<rect x="33.86" y="593.84" width="10.21" height="2.26" fill="#fffcbb"/>
<rect x="44.03" y="593.84" width="10.21" height="2.26" fill="#f2fad8"/>
<rect x="54.19" y="593.84" width="10.21" height="2.26" fill="#f7fcce"/>
<rect x="64.36" y="593.84" width="10.21" height="2.26" fill="#fffdbc"/>
<rect x="74.52" y="593.84" width="10.21" height="2.26" fill="#c2dfed"/>
<rect x="84.69" y="593.84" width="10.21" height="2.26" fill="#e2f4f4"/>
<rect x="94.85" y="593.84" width="10.21" height="2.26" fill="#fdc57e"/>
<rect x="105.02" y="593.84" width="10.21" height="2.26" fill="#fece84"/>
<rect x="115.18" y="593.84" width="10.21" height="2.26" fill="#fee99e"/>
<rect x="125.35" y="593.84" width="10.21" height="2.26" fill="#fece84"/>
<rect x="135.51" y="593.84" width="10.21" height="2.26" fill="#fee699"/>
<rect x="145.68" y="593.84" width="10.21" height="2.26" fill="#fee191"/>
<rect x="155.84" y="593.84" width="10.21" height="2.26" fill="#fee192"/>
<rect x="166.01" y="593.84" width="10.21" height="2.26" fill="#fee395"/>
<rect x="176.17" y="593.84" width="10.21" height="2.26" fill="#fff0a8"/>
<rect x="186.34" y="593.84" width="10.21" height="2.26" fill="#f3fad5"/>
<rect x="23.7" y="596.05" width="10.21" height="2.26" fill="#cbe5f0"/>
<rect x="33.86" y="596.05" width="10.21" height="2.26" fill="#fee99e"/>
<rect x="44.03" y="596.05" width="10.21" height="2.26" fill="#fffcbb"/>
<rect x="54.19" y="596.05" width="10.21" height="2.26" fill="#e6f5ed"/>
<rect x="64.36" y="596.05" width="10.21" height="2.26" fill="#fff7b3"/>
<rect x="74.52" y="596.05" width="10.21" height="2.26" fill="#bfddec"/>
<rect x="84.69" y="596.05" width="10.21" height="2.26" fill="#ddf1f7"/>
<rect x="94.85" y="596.05" width="10.21" height="2.26" fill="#fdbf7a"/>
<rect x="105.02" y="596.05" width="10.21" height="2.26" fill="#fdc27c"/>
<rect x="115.18" y="596.05" width="10.21" height="2.26" fill="#fed98b"/>
<rect x="125.35" y="596.05" width="10.21" height="2.26" fill="#fdb573"/>
<rect x="135.51" y="596.05" width="10.21" height="2.26" fill="#fedb8d"/>
<rect x="145.68" y="596.05" width="10.21" height="2.26" fill="#fee79a"/>
<rect x="155.84" y="596.05" width="10.21" height="2.26" fill="#fdbb78"/>
<rect x="166.01" y="596.05" width="10.21" height="2.26" fill="#feeca3"/>
<rect x="176.17" y="596.05" width="10.21" height="2.26" fill="#fff2ab"/>
<rect x="186.34" y="596.05" width="10.21" height="2.26" fill="#feeaa0"/>
<rect x="23.7" y="598.27" width="10.21" height="2.26" fill="#e7f6eb"/>
<rect x="33.86" y="598.27" width="10.21" height="2.26" fill="#fff9b6"/>
<rect x="44.03" y="598.27" width="10.21" height="2.26" fill="#f8fccd"/>
<rect x="54.19" y="598.27" width="10.21" height="2.26" fill="#e9f6e8"/>
<rect x="64.36" y="598.27" width="10.21" height="2.26" fill="#bbdbea"/>
<rect x="74.52" y="598.27" width="10.21" height="2.26" fill="#a9cfe4"/>
<rect x="84.69" y="598.27" width="10.21" height="2.26" fill="#c3e0ed"/>
<rect x="94.85" y="598.27" width="10.21" height="2.26" fill="#fdbc78"/>
<rect x="105.02" y="598.27" width="10.21" height="2.26" fill="#fee395"/>
<rect x="115.18" y="598.27" width="10.21" height="2.26" fill="#fed387"/>
<rect x="125.35" y="598.27" width="10.21" height="2.26" fill="#fdc880"/>
<rect x="135.51" y="598.27" width="10.21" height="2.26" fill="#fdb574"/>
<rect x="145.68" y="598.27" width="10.21" height="2.26" fill="#feeba0"/>
<rect x="155.84" y="598.27" width="10.21" height="2.26" fill="#fc965f"/>
<rect x="166.01" y="598.27" width="10.21" height="2.26" fill="#fdc27c"/>
<rect x="176.17" y="598.27" width="10.21" height="2.26" fill="#fff0a8"/>
<rect x="186.34" y="598.27" width="10.21" height="2.26" fill="#ffffbe"/>
<rect x="23.7" y="600.48" width="10.21" height="2.26" fill="#fbfdc7"/>
<rect x="33.86" y="600.48" width="10.21" height="2.26" fill="#fee497"/>
<rect x="44.03" y="600.48" width="10.21" height="2.26" fill="#feffc1"/>
<rect x="54.19" y="600.48" width="10.21" height="2.26" fill="#f7fccd"/>
<rect x="64.36" y="600.48" width="10.21" height="2.26" fill="#fee496"/>
<rect x="74.52" y="600.48" width="10.21" height="2.26" fill="#d6ecf4"/>
<rect x="84.69" y="600.48" width="10.21" height="2.26" fill="#fff3ad"/>
<rect x="94.85" y="600.48" width="10.21" height="2.26" fill="#fff1aa"/>
<rect x="105.02" y="600.48" width="10.21" height="2.26" fill="#fed085"/>
<rect x="115.18" y="600.48" width="10.21" height="2.26" fill="#fed78a"/>
<rect x="125.35" y="600.48" width="10.21" height="2.26" fill="#fedb8d"/>
<rect x="135.51" y="600.48" width="10.21" height="2.26" fill="#feeba1"/>
<rect x="145.68" y="600.48" width="10.21" height="2.26" fill="#feeba0"/>
<rect x="155.84" y="600.48" width="10.21" height="2.26" fill="#fece84"/>
<rect x="166.01" y="600.48" width="10.21" height="2.26" fill="#fed085"/>
<rect x="176.17" y="600.48" width="10.21" height="2.26" fill="#ffffbf"/>
<rect x="186.34" y="600.48" width="10.21" height="2.26" fill="#fffebd"/>
<rect x="23.7" y="602.69" width="10.21" height="2.26" fill="#f0f9db"/>
<rect x="33.86" y="602.69" width="10.21" height="2.26" fill="#f8fccc"/>
<rect x="44.03" y="602.69" width="10.21" height="2.26" fill="#e8f6e9"/>
<rect x="54.19" y="602.69" width="10.21" height="2.26" fill="#79a8cf"/>
<rect x="64.36" y="602.69" width="10.21" height="2.26" fill="#e0f3f7"/>
<rect x="74.52" y="602.69" width="10.21" height="2.26" fill="#86b4d5"/>
<rect x="84.69" y="602.69" width="10.21" height="2.26" fill="#a1cae1"/>
<rect x="94.85" y="602.69" width="10.21" height="2.26" fill="#fee192"/>
<rect x="105.02" y="602.69" width="10.21" height="2.26" fill="#fee090"/>
<rect x="115.18" y="602.69" width="10.21" height="2.26" fill="#fee89d"/>
<rect x="125.35" y="602.69" width="10.21" height="2.26" fill="#fee395"/>
<rect x="135.51" y="602.69" width="10.21" height="2.26" fill="#fed589"/>
<rect x="145.68" y="602.69" width="10.21" height="2.26" fill="#fff4ae"/>
<rect x="155.84" y="602.69" width="10.21" height="2.26" fill="#fdc17b"/>
<rect x="166.01" y="602.69" width="10.21" height="2.26" fill="#ffffc0"/>
<rect x="176.17" y="602.69" width="10.21" height="2.26" fill="#fedd8e"/>
<rect x="186.34" y="602.69" width="10.21" height="2.26" fill="#fafdc8"/>
<rect x="23.7" y="604.91" width="10.21" height="2.26" fill="#dbf0f6"/>
<rect x="33.86" y="604.91" width="10.21" height="2.26" fill="#fffebd"/>
<rect x="44.03" y="604.91" width="10.21" height="2.26" fill="#e8f6e9"/>
<rect x="54.19" y="604.91" width="10.21" height="2.26" fill="#c8e3ef"/>
<rect x="64.36" y="604.91" width="10.21" height="2.26" fill="#e6f5ee"/>
<rect x="74.52" y="604.91" width="10.21" height="2.26" fill="#c6e2ee"/>
<rect x="84.69" y="604.91" width="10.21" height="2.26" fill="#ddf1f7"/>
<rect x="94.85" y="604.91" width="10.21" height="2.26" fill="#fed085"/>
<rect x="105.02" y="604.91" width="10.21" height="2.26" fill="#fdbb78"/>
<rect x="115.18" y="604.91" width="10.21" height="2.26" fill="#feeda3"/>
<rect x="125.35" y="604.91" width="10.21" height="2.26" fill="#fee79b"/>
<rect x="135.51" y="604.91" width="10.21" height="2.26" fill="#fee699"/>
<rect x="145.68" y="604.91" width="10.21" height="2.26" fill="#fee192"/>
<rect x="155.84" y="604.91" width="10.21" height="2.26" fill="#fed78a"/>
<rect x="166.01" y="604.91" width="10.21" height="2.26" fill="#fdca81"/>
<rect x="176.17" y="604.91" width="10.21" height="2.26" fill="#fff5b0"/>
<rect x="186.34" y="604.91" width="10.21" height="2.26" fill="#fff6b2"/>
<rect x="23.7" y="607.12" width="10.21" height="2.26" fill="#f2fad7"/>
<rect x="33.86" y="607.12" width="10.21" height="2.26" fill="#fff3ad"/>
<rect x="44.03" y="607.12" width="10.21" height="2.26" fill="#fff1a9"/>
<rect x="54.19" y="607.12" width="10.21" height="2.26" fill="#aed2e6"/>
<rect x="64.36" y="607.12" width="10.21" height="2.26" fill="#ffffc0"/>
<rect x="74.52" y="607.12" width="10.21" height="2.26" fill="#8fbdda"/>
<rect x="84.69" y="607.12" width="10.21" height="2.26" fill="#daeff6"/>
<rect x="94.85" y="607.12" width="10.21" height="2.26" fill="#fecd83"/>
<rect x="105.02" y="607.12" width="10.21" height="2.26" fill="#fdb976"/>
<rect x="115.18" y="607.12" width="10.21" height="2.26" fill="#fee699"/>
<rect x="125.35" y="607.12" width="10.21" height="2.26" fill="#fed78a"/>
<rect x="135.51" y="607.12" width="10.21" height="2.26" fill="#fed98b"/>
<rect x="145.68" y="607.12" width="10.21" height="2.26" fill="#fed589"/>
<rect x="155.84" y="607.12" width="10.21" height="2.26" fill="#feda8c"/>
<rect x="166.01" y="607.12" width="10.21" height="2.26" fill="#fee89c"/>
<rect x="176.17" y="607.12" width="10.21" height="2.26" fill="#eaf7e6"/>
<rect x="186.34" y="607.12" width="10.21" height="2.26" fill="#f6fccf"/>
<rect x="23.7" y="609.33" width="10.21" height="2.26" fill="#e4f5f1"/>
<rect x="33.86" y="609.33" width="10.21" height="2.26" fill="#fee79a"/>
<rect x="44.03" y="609.33" width="10.21" height="2.26" fill="#f4fbd3"/>
<rect x="54.19" y="609.33" width="10.21" height="2.26" fill="#daeff6"/>
<rect x="64.36" y="609.33" width="10.21" height="2.26" fill="#edf8e1"/>
<rect x="74.52" y="609.33" width="10.21" height="2.26" fill="#8bb9d8"/>
<rect x="84.69" y="609.33" width="10.21" height="2.26" fill="#e7f6ea"/>
<rect x="94.85" y="609.33" width="10.21" height="2.26" fill="#fdaa6c"/>
<rect x="105.02" y="609.33" width="10.21" height="2.26" fill="#fed287"/>
<rect x="115.18" y="609.33" width="10.21" height="2.26" fill="#fee395"/>
<rect x="125.35" y="609.33" width="10.21" height="2.26" fill="#fed78a"/>
<rect x="135.51" y="609.33" width="10.21" height="2.26" fill="#fdc77f"/>
<rect x="145.68" y="609.33" width="10.21" height="2.26" fill="#fed689"/>
<rect x="155.84" y="609.33" width="10.21" height="2.26" fill="#fede8f"/>
<rect x="166.01" y="609.33" width="10.21" height="2.26" fill="#feeea5"/>
<rect x="176.17" y="609.33" width="10.21" height="2.26" fill="#f7fccd"/>
<rect x="186.34" y="609.33" width="10.21" height="2.26" fill="#fffcba"/>
<rect x="23.7" y="611.55" width="10.21" height="2.26" fill="#bcdbeb"/>
<rect x="33.86" y="611.55" width="10.21" height="2.26" fill="#fff0a9"/>
<rect x="44.03" y="611.55" width="10.21" height="2.26" fill="#f7fcce"/>
<rect x="54.19" y="611.55" width="10.21" height="2.26" fill="#a5cce2"/>
<rect x="64.36" y="611.55" width="10.21" height="2.26" fill="#fffebd"/>
<rect x="74.52" y="611.55" width="10.21" height="2.26" fill="#e8f6e9"/>
<rect x="84.69" y="611.55" width="10.21" height="2.26" fill="#e4f5f0"/>
<rect x="94.85" y="611.55" width="10.21" height="2.26" fill="#fed387"/>
<rect x="105.02" y="611.55" width="10.21" height="2.26" fill="#fdba77"/>
<rect x="115.18" y="611.55" width="10.21" height="2.26" fill="#feeea5"/>
<rect x="125.35" y="611.55" width="10.21" height="2.26" fill="#fee69a"/>
<rect x="135.51" y="611.55" width="10.21" height="2.26" fill="#fee598"/>
<rect x="145.68" y="611.55" width="10.21" height="2.26" fill="#fdc77f"/>
<rect x="155.84" y="611.55" width="10.21" height="2.26" fill="#fff2ab"/>
<rect x="166.01" y="611.55" width="10.21" height="2.26" fill="#fed589"/>
<rect x="176.17" y="611.55" width="10.21" height="2.26" fill="#fffdbc"/>
<rect x="186.34" y="611.55" width="10.21" height="2.26" fill="#fff7b3"/>
<rect x="23.7" y="613.76" width="10.21" height="2.26" fill="#f0f9db"/>
<rect x="33.86" y="613.76" width="10.21" height="2.26" fill="#eef8df"/>
<rect x="44.03" y="613.76" width="10.21" height="2.26" fill="#ddf1f7"/>
<rect x="54.19" y="613.76" width="10.21" height="2.26" fill="#b7d8e9"/>
<rect x="64.36" y="613.76" width="10.21" height="2.26" fill="#edf8df"/>
<rect x="74.52" y="613.76" width="10.21" height="2.26" fill="#b4d6e8"/>
<rect x="84.69" y="613.76" width="10.21" height="2.26" fill="#daeff6"/>
<rect x="94.85" y="613.76" width="10.21" height="2.26" fill="#fed589"/>
<rect x="105.02" y="613.76" width="10.21" height="2.26" fill="#fed588"/>
<rect x="115.18" y="613.76" width="10.21" height="2.26" fill="#fff0a9"/>
<rect x="125.35" y="613.76" width="10.21" height="2.26" fill="#fff6b1"/>
<rect x="135.51" y="613.76" width="10.21" height="2.26" fill="#fc925c"/>
<rect x="145.68" y="613.76" width="10.21" height="2.26" fill="#feeca2"/>
<rect x="155.84" y="613.76" width="10.21" height="2.26" fill="#fdc67f"/>
<rect x="166.01" y="613.76" width="10.21" height="2.26" fill="#feeba1"/>
<rect x="176.17" y="613.76" width="10.21" height="2.26" fill="#fff7b3"/>
<rect x="186.34" y="613.76" width="10.21" height="2.26" fill="#fff5b0"/>
<rect x="23.7" y="615.97" width="10.21" height="2.26" fill="#eaf7e6"/>
<rect x="33.86" y="615.97" width="10.21" height="2.26" fill="#f4fbd4"/>
<rect x="44.03" y="615.97" width="10.21" height="2.26" fill="#eaf7e5"/>
<rect x="54.19" y="615.97" width="10.21" height="2.26" fill="#daeff6"/>
<rect x="64.36" y="615.97" width="10.21" height="2.26" fill="#fff2ab"/>
<rect x="74.52" y="615.97" width="10.21" height="2.26" fill="#eef9de"/>
<rect x="84.69" y="615.97" width="10.21" height="2.26" fill="#fff9b5"/>
<rect x="94.85" y="615.97" width="10.21" height="2.26" fill="#fff4af"/>
<rect x="105.02" y="615.97" width="10.21" height="2.26" fill="#fee597"/>
<rect x="115.18" y="615.97" width="10.21" height="2.26" fill="#fff2ab"/>
<rect x="125.35" y="615.97" width="10.21" height="2.26" fill="#fee293"/>
<rect x="135.51" y="615.97" width="10.21" height="2.26" fill="#fdcb82"/>
<rect x="145.68" y="615.97" width="10.21" height="2.26" fill="#fffbb9"/>
<rect x="155.84" y="615.97" width="10.21" height="2.26" fill="#fece84"/>
<rect x="166.01" y="615.97" width="10.21" height="2.26" fill="#fed78a"/>
<rect x="176.17" y="615.97" width="10.21" height="2.26" fill="#feffc1"/>
<rect x="186.34" y="615.97" width="10.21" height="2.26" fill="#fefec1"/>
<rect x="23.7" y="618.19" width="10.21" height="2.26" fill="#ecf8e2"/>
<rect x="33.86" y="618.19" width="10.21" height="2.26" fill="#fafdc7"/>
<rect x="44.03" y="618.19" width="10.21" height="2.26" fill="#fefec1"/>
<rect x="54.19" y="618.19" width="10.21" height="2.26" fill="#e8f6ea"/>
<rect x="64.36" y="618.19" width="10.21" height="2.26" fill="#fff2ac"/>
<rect x="74.52" y="618.19" width="10.21" height="2.26" fill="#91bfdb"/>
<rect x="84.69" y="618.19" width="10.21" height="2.26" fill="#daeff6"/>
<rect x="94.85" y="618.19" width="10.21" height="2.26" fill="#fee99e"/>
<rect x="105.02" y="618.19" width="10.21" height="2.26" fill="#fee294"/>
<rect x="115.18" y="618.19" width="10.21" height="2.26" fill="#fee294"/>
<rect x="125.35" y="618.19" width="10.21" height="2.26" fill="#fff5b0"/>
<rect x="135.51" y="618.19" width="10.21" height="2.26" fill="#fdc981"/>
<rect x="145.68" y="618.19" width="10.21" height="2.26" fill="#fee091"/>
<rect x="155.84" y="618.19" width="10.21" height="2.26" fill="#fff7b2"/>
<rect x="166.01" y="618.19" width="10.21" height="2.26" fill="#fff1aa"/>
<rect x="176.17" y="618.19" width="10.21" height="2.26" fill="#ffffbf"/>
<rect x="186.34" y="618.19" width="10.21" height="2.26" fill="#f2fad7"/>
<rect x="23.7" y="620.4" width="10.21" height="2.26" fill="#fafdc8"/>
<rect x="33.86" y="620.4" width="10.21" height="2.26" fill="#f7fcce"/>
<rect x="44.03" y="620.4" width="10.21" height="2.26" fill="#f8fccc"/>
<rect x="54.19" y="620.4" width="10.21" height="2.26" fill="#e6f5ee"/>
<rect x="64.36" y="620.4" width="10.21" height="2.26" fill="#f0f9da"/>
<rect x="74.52" y="620.4" width="10.21" height="2.26" fill="#f3fad5"/>
<rect x="84.69" y="620.4" width="10.21" height="2.26" fill="#d9eef5"/>
<rect x="94.85" y="620.4" width="10.21" height="2.26" fill="#fdab6d"/>
<rect x="105.02" y="620.4" width="10.21" height="2.26" fill="#fdb473"/>
<rect x="115.18" y="620.4" width="10.21" height="2.26" fill="#fedc8d"/>
<rect x="125.35" y="620.4" width="10.21" height="2.26" fill="#fee79b"/>
<rect x="135.51" y="620.4" width="10.21" height="2.26" fill="#fdbe7a"/>
<rect x="145.68" y="620.4" width="10.21" height="2.26" fill="#fee191"/>
<rect x="155.84" y="620.4" width="10.21" height="2.26" fill="#feeda3"/>
<rect x="166.01" y="620.4" width="10.21" height="2.26" fill="#feeca2"/>
<rect x="176.17" y="620.4" width="10.21" height="2.26" fill="#fffab7"/>
<rect x="186.34" y="620.4" width="10.21" height="2.26" fill="#fed286"/>
<rect x="23.7" y="622.61" width="10.21" height="2.26" fill="#feeea5"/>
<rect x="33.86" y="622.61" width="10.21" height="2.26" fill="#fff0a8"/>
<rect x="44.03" y="622.61" width="10.21" height="2.26" fill="#fff5b0"/>
<rect x="54.19" y="622.61" width="10.21" height="2.26" fill="#e9f7e7"/>
<rect x="64.36" y="622.61" width="10.21" height="2.26" fill="#f3fad6"/>
<rect x="74.52" y="622.61" width="10.21" height="2.26" fill="#fcfec5"/>
<rect x="84.69" y="622.61" width="10.21" height="2.26" fill="#f1fad8"/>
<rect x="94.85" y="622.61" width="10.21" height="2.26" fill="#fed689"/>
<rect x="105.02" y="622.61" width="10.21" height="2.26" fill="#fed88b"/>
<rect x="115.18" y="622.61" width="10.21" height="2.26" fill="#feffc0"/>
<rect x="125.35" y="622.61" width="10.21" height="2.26" fill="#fee293"/>
<rect x="135.51" y="622.61" width="10.21" height="2.26" fill="#fff0a9"/>
<rect x="145.68" y="622.61" width="10.21" height="2.26" fill="#fecc83"/>
<rect x="155.84" y="622.61" width="10.21" height="2.26" fill="#fee89c"/>
<rect x="166.01" y="622.61" width="10.21" height="2.26" fill="#fee79b"/>
<rect x="176.17" y="622.61" width="10.21" height="2.26" fill="#fffcbb"/>
<rect x="186.34" y="622.61" width="10.21" height="2.26" fill="#eef8de"/>
<rect x="23.7" y="624.83" width="10.21" height="2.26" fill="#e8f6ea"/>
<rect x="33.86" y="624.83" width="10.21" height="2.26" fill="#fff8b5"/>
<rect x="44.03" y="624.83" width="10.21" height="2.26" fill="#e9f7e7"/>
<rect x="54.19" y="624.83" width="10.21" height="2.26" fill="#92c0db"/>
<rect x="64.36" y="624.83" width="10.21" height="2.26" fill="#fff9b5"/>
<rect x="74.52" y="624.83" width="10.21" height="2.26" fill="#e8f6e9"/>
<rect x="84.69" y="624.83" width="10.21" height="2.26" fill="#c5e1ee"/>
<rect x="94.85" y="624.83" width="10.21" height="2.26" fill="#fedd8e"/>
<rect x="105.02" y="624.83" width="10.21" height="2.26" fill="#fee090"/>
<rect x="115.18" y="624.83" width="10.21" height="2.26" fill="#fed387"/>
<rect x="125.35" y="624.83" width="10.21" height="2.26" fill="#feeba1"/>
<rect x="135.51" y="624.83" width="10.21" height="2.26" fill="#fdb473"/>
<rect x="145.68" y="624.83" width="10.21" height="2.26" fill="#fed589"/>
<rect x="155.84" y="624.83" width="10.21" height="2.26" fill="#fda76a"/>
<rect x="166.01" y="624.83" width="10.21" height="2.26" fill="#fecd84"/>
<rect x="176.17" y="624.83" width="10.21" height="2.26" fill="#fbfec6"/>
<rect x="186.34" y="624.83" width="10.21" height="2.26" fill="#fee79b"/>
<rect x="23.7" y="627.04" width="10.21" height="2.26" fill="#f7fccd"/>
<rect x="33.86" y="627.04" width="10.21" height="2.26" fill="#d8eef5"/>
<rect x="44.03" y="627.04" width="10.21" height="2.26" fill="#e0f3f8"/>
<rect x="54.19" y="627.04" width="10.21" height="2.26" fill="#dcf0f6"/>
<rect x="64.36" y="627.04" width="10.21" height="2.26" fill="#fffbb9"/>
<rect x="74.52" y="627.04" width="10.21" height="2.26" fill="#c8e3ef"/>
<rect x="84.69" y="627.04" width="10.21" height="2.26" fill="#e4f5f0"/>
<rect x="94.85" y="627.04" width="10.21" height="2.26" fill="#fece84"/>
<rect x="105.02" y="627.04" width="10.21" height="2.26" fill="#fdb271"/>
<rect x="115.18" y="627.04" width="10.21" height="2.26" fill="#feea9f"/>
<rect x="125.35" y="627.04" width="10.21" height="2.26" fill="#fff4ae"/>
<rect x="135.51" y="627.04" width="10.21" height="2.26" fill="#fdca82"/>
<rect x="145.68" y="627.04" width="10.21" height="2.26" fill="#fee79b"/>
<rect x="155.84" y="627.04" width="10.21" height="2.26" fill="#fee496"/>
<rect x="166.01" y="627.04" width="10.21" height="2.26" fill="#feea9f"/>
<rect x="176.17" y="627.04" width="10.21" height="2.26" fill="#fee89c"/>
<rect x="186.34" y="627.04" width="10.21" height="2.26" fill="#fffdbc"/>
<rect x="23.7" y="629.25" width="10.21" height="2.26" fill="#fff8b4"/>
<rect x="33.86" y="629.25" width="10.21" height="2.26" fill="#fbfdc7"/>
<rect x="44.03" y="629.25" width="10.21" height="2.26" fill="#fffbb9"/>
<rect x="54.19" y="629.25" width="10.21" height="2.26" fill="#e6f5ed"/>
<rect x="64.36" y="629.25" width="10.21" height="2.26" fill="#fffbb9"/>
<rect x="74.52" y="629.25" width="10.21" height="2.26" fill="#f1fad8"/>
<rect x="84.69" y="629.25" width="10.21" height="2.26" fill="#f2fad7"/>
<rect x="94.85" y="629.25" width="10.21" height="2.26" fill="#feeaa0"/>
<rect x="105.02" y="629.25" width="10.21" height="2.26" fill="#fed588"/>
<rect x="115.18" y="629.25" width="10.21" height="2.26" fill="#fdb473"/>
<rect x="125.35" y="629.25" width="10.21" height="2.26" fill="#fff3ad"/>
<rect x="135.51" y="629.25" width="10.21" height="2.26" fill="#fff5b0"/>
<rect x="145.68" y="629.25" width="10.21" height="2.26" fill="#fed287"/>
<rect x="155.84" y="629.25" width="10.21" height="2.26" fill="#feeca2"/>
<rect x="166.01" y="629.25" width="10.21" height="2.26" fill="#fee99d"/>
<rect x="176.17" y="629.25" width="10.21" height="2.26" fill="#fff9b6"/>
<rect x="186.34" y="629.25" width="10.21" height="2.26" fill="#ffffbe"/>
<rect x="23.7" y="631.47" width="10.21" height="2.26" fill="#eef8df"/>
<rect x="33.86" y="631.47" width="10.21" height="2.26" fill="#f7fccf"/>
<rect x="44.03" y="631.47" width="10.21" height="2.26" fill="#f1fad9"/>
<rect x="54.19" y="631.47" width="10.21" height="2.26" fill="#cbe5f0"/>
<rect x="64.36" y="631.47" width="10.21" height="2.26" fill="#f4fbd3"/>
<rect x="74.52" y="631.47" width="10.21" height="2.26" fill="#f2fad6"/>
<rect x="84.69" y="631.47" width="10.21" height="2.26" fill="#eaf7e5"/>
<rect x="94.85" y="631.47" width="10.21" height="2.26" fill="#fecc83"/>
<rect x="105.02" y="631.47" width="10.21" height="2.26" fill="#fee090"/>
<rect x="115.18" y="631.47" width="10.21" height="2.26" fill="#fdb372"/>
<rect x="125.35" y="631.47" width="10.21" height="2.26" fill="#feea9e"/>
<rect x="135.51" y="631.47" width="10.21" height="2.26" fill="#fdb674"/>
<rect x="145.68" y="631.47" width="10.21" height="2.26" fill="#fdc27c"/>
<rect x="155.84" y="631.47" width="10.21" height="2.26" fill="#fdc07b"/>
<rect x="166.01" y="631.47" width="10.21" height="2.26" fill="#fee69a"/>
<rect x="176.17" y="631.47" width="10.21" height="2.26" fill="#feeda3"/>
<rect x="186.34" y="631.47" width="10.21" height="2.26" fill="#feefa6"/>
<rect x="23.7" y="633.68" width="10.21" height="2.26" fill="#edf8e0"/>
<rect x="33.86" y="633.68" width="10.21" height="2.26" fill="#e5f5ef"/>
<rect x="44.03" y="633.68" width="10.21" height="2.26" fill="#eef8df"/>
<rect x="54.19" y="633.68" width="10.21" height="2.26" fill="#cee7f1"/>
<rect x="64.36" y="633.68" width="10.21" height="2.26" fill="#fbfec6"/>
<rect x="74.52" y="633.68" width="10.21" height="2.26" fill="#d1e9f2"/>
<rect x="84.69" y="633.68" width="10.21" height="2.26" fill="#b5d7e8"/>
<rect x="94.85" y="633.68" width="10.21" height="2.26" fill="#fed68a"/>
<rect x="105.02" y="633.68" width="10.21" height="2.26" fill="#fed589"/>
<rect x="115.18" y="633.68" width="10.21" height="2.26" fill="#fdb976"/>
<rect x="125.35" y="633.68" width="10.21" height="2.26" fill="#fedf90"/>
<rect x="135.51" y="633.68" width="10.21" height="2.26" fill="#fda86b"/>
<rect x="145.68" y="633.68" width="10.21" height="2.26" fill="#fee293"/>
<rect x="155.84" y="633.68" width="10.21" height="2.26" fill="#fdb070"/>
<rect x="166.01" y="633.68" width="10.21" height="2.26" fill="#feeda4"/>
<rect x="176.17" y="633.68" width="10.21" height="2.26" fill="#fffab7"/>
<rect x="186.34" y="633.68" width="10.21" height="2.26" fill="#feefa7"/>
<rect x="23.7" y="635.89" width="10.21" height="2.26" fill="#fff9b7"/>
<rect x="33.86" y="635.89" width="10.21" height="2.26" fill="#f8fccc"/>
<rect x="44.03" y="635.89" width="10.21" height="2.26" fill="#e8f6e9"/>
<rect x="54.19" y="635.89" width="10.21" height="2.26" fill="#c7e3ef"/>
<rect x="64.36" y="635.89" width="10.21" height="2.26" fill="#fdfec2"/>
<rect x="74.52" y="635.89" width="10.21" height="2.26" fill="#eff9dd"/>
<rect x="84.69" y="635.89" width="10.21" height="2.26" fill="#e8f6e9"/>
<rect x="94.85" y="635.89" width="10.21" height="2.26" fill="#fff0a9"/>
<rect x="105.02" y="635.89" width="10.21" height="2.26" fill="#fed287"/>
<rect x="115.18" y="635.89" width="10.21" height="2.26" fill="#fdc37d"/>
<rect x="125.35" y="635.89" width="10.21" height="2.26" fill="#feeda4"/>
<rect x="135.51" y="635.89" width="10.21" height="2.26" fill="#fee99e"/>
<rect x="145.68" y="635.89" width="10.21" height="2.26" fill="#fdc17b"/>
<rect x="155.84" y="635.89" width="10.21" height="2.26" fill="#fdc17b"/>
<rect x="166.01" y="635.89" width="10.21" height="2.26" fill="#feeca2"/>
<rect x="176.17" y="635.89" width="10.21" height="2.26" fill="#fcfec5"/>
<rect x="186.34" y="635.89" width="10.21" height="2.26" fill="#f3fad5"/>
<rect x="23.7" y="638.11" width="10.21" height="2.26" fill="#feffc0"/>
<rect x="33.86" y="638.11" width="10.21" height="2.26" fill="#fffebd"/>
<rect x="44.03" y="638.11" width="10.21" height="2.26" fill="#feefa6"/>
<rect x="54.19" y="638.11" width="10.21" height="2.26" fill="#bcdceb"/>
<rect x="64.36" y="638.11" width="10.21" height="2.26" fill="#fbfdc7"/>
<rect x="74.52" y="638.11" width="10.21" height="2.26" fill="#f4fbd3"/>
<rect x="84.69" y="638.11" width="10.21" height="2.26" fill="#e4f5f0"/>
<rect x="94.85" y="638.11" width="10.21" height="2.26" fill="#fdbd78"/>
<rect x="105.02" y="638.11" width="10.21" height="2.26" fill="#fee293"/>
<rect x="115.18" y="638.11" width="10.21" height="2.26" fill="#fedb8d"/>
<rect x="125.35" y="638.11" width="10.21" height="2.26" fill="#fc9d64"/>
<rect x="135.51" y="638.11" width="10.21" height="2.26" fill="#fee597"/>
<rect x="145.68" y="638.11" width="10.21" height="2.26" fill="#fff0a8"/>
<rect x="155.84" y="638.11" width="10.21" height="2.26" fill="#feda8c"/>
<rect x="166.01" y="638.11" width="10.21" height="2.26" fill="#fee99d"/>
<rect x="176.17" y="638.11" width="10.21" height="2.26" fill="#fdfec2"/>
<rect x="186.34" y="638.11" width="10.21" height="2.26" fill="#fff3ad"/>
<rect x="23.7" y="640.32" width="10.21" height="2.26" fill="#edf8e1"/>
<rect x="33.86" y="640.32" width="10.21" height="2.26" fill="#fffebd"/>
<rect x="44.03" y="640.32" width="10.21" height="2.26" fill="#d4ebf4"/>
<rect x="54.19" y="640.32" width="10.21" height="2.26" fill="#e1f4f5"/>
<rect x="64.36" y="640.32" width="10.21" height="2.26" fill="#f3fad6"/>
<rect x="74.52" y="640.32" width="10.21" height="2.26" fill="#fbfec6"/>
<rect x="84.69" y="640.32" width="10.21" height="2.26" fill="#feffc1"/>
<rect x="94.85" y="640.32" width="10.21" height="2.26" fill="#fdb976"/>
<rect x="105.02" y="640.32" width="10.21" height="2.26" fill="#fed689"/>
<rect x="115.18" y="640.32" width="10.21" height="2.26" fill="#fff9b5"/>
<rect x="125.35" y="640.32" width="10.21" height="2.26" fill="#fdad6e"/>
<rect x="135.51" y="640.32" width="10.21" height="2.26" fill="#fee497"/>
<rect x="145.68" y="640.32" width="10.21" height="2.26" fill="#fecf85"/>
<rect x="155.84" y="640.32" width="10.21" height="2.26" fill="#fee79b"/>
<rect x="166.01" y="640.32" width="10.21" height="2.26" fill="#fee699"/>
<rect x="176.17" y="640.32" width="10.21" height="2.26" fill="#fee89c"/>
<rect x="186.34" y="640.32" width="10.21" height="2.26" fill="#f3fbd4"/>
<rect x="23.7" y="642.53" width="10.21" height="2.26" fill="#ecf8e2"/>
<rect x="33.86" y="642.53" width="10.21" height="2.26" fill="#fffebe"/>
<rect x="44.03" y="642.53" width="10.21" height="2.26" fill="#a1cae1"/>
<rect x="54.19" y="642.53" width="10.21" height="2.26" fill="#c7e3ef"/>
<rect x="64.36" y="642.53" width="10.21" height="2.26" fill="#ebf7e4"/>
<rect x="74.52" y="642.53" width="10.21" height="2.26" fill="#edf8e1"/>
<rect x="84.69" y="642.53" width="10.21" height="2.26" fill="#f9fdcb"/>
<rect x="94.85" y="642.53" width="10.21" height="2.26" fill="#fdc07b"/>
<rect x="105.02" y="642.53" width="10.21" height="2.26" fill="#fdad6e"/>
<rect x="115.18" y="642.53" width="10.21" height="2.26" fill="#fda569"/>
<rect x="125.35" y="642.53" width="10.21" height="2.26" fill="#fede8f"/>
<rect x="135.51" y="642.53" width="10.21" height="2.26" fill="#fdc67f"/>
<rect x="145.68" y="642.53" width="10.21" height="2.26" fill="#feda8c"/>
<rect x="155.84" y="642.53" width="10.21" height="2.26" fill="#fdc981"/>
<rect x="166.01" y="642.53" width="10.21" height="2.26" fill="#fede8f"/>
<rect x="176.17" y="642.53" width="10.21" height="2.26" fill="#fff9b7"/>
<rect x="186.34" y="642.53" width="10.21" height="2.26" fill="#fff7b3"/>
<rect x="23.7" y="644.75" width="10.21" height="2.26" fill="#eef8df"/>
<rect x="33.86" y="644.75" width="10.21" height="2.26" fill="#fffcba"/>
<rect x="44.03" y="644.75" width="10.21" height="2.26" fill="#fffbb9"/>
<rect x="54.19" y="644.75" width="10.21" height="2.26" fill="#9cc6df"/>
<rect x="64.36" y="644.75" width="10.21" height="2.26" fill="#e9f6e8"/>
<rect x="74.52" y="644.75" width="10.21" height="2.26" fill="#fbfdc7"/>
<rect x="84.69" y="644.75" width="10.21" height="2.26" fill="#dcf0f6"/>
<rect x="94.85" y="644.75" width="10.21" height="2.26" fill="#feea9e"/>
<rect x="105.02" y="644.75" width="10.21" height="2.26" fill="#fecf84"/>
<rect x="115.18" y="644.75" width="10.21" height="2.26" fill="#fed98b"/>
<rect x="125.35" y="644.75" width="10.21" height="2.26" fill="#feeba0"/>
<rect x="135.51" y="644.75" width="10.21" height="2.26" fill="#fee395"/>
<rect x="145.68" y="644.75" width="10.21" height="2.26" fill="#fff4af"/>
<rect x="155.84" y="644.75" width="10.21" height="2.26" fill="#fee89c"/>
<rect x="166.01" y="644.75" width="10.21" height="2.26" fill="#fee496"/>
<rect x="176.17" y="644.75" width="10.21" height="2.26" fill="#fff4ae"/>
<rect x="186.34" y="644.75" width="10.21" height="2.26" fill="#fff0a8"/>
<rect x="23.7" y="646.96" width="10.21" height="2.26" fill="#fffbb8"/>
<rect x="33.86" y="646.96" width="10.21" height="2.26" fill="#feeaa0"/>
<rect x="44.03" y="646.96" width="10.21" height="2.26" fill="#fdfec4"/>
<rect x="54.19" y="646.96" width="10.21" height="2.26" fill="#eef8df"/>
<rect x="64.36" y="646.96" width="10.21" height="2.26" fill="#fff6b1"/>
<rect x="74.52" y="646.96" width="10.21" height="2.26" fill="#fdfec2"/>
<rect x="84.69" y="646.96" width="10.21" height="2.26" fill="#f6fccf"/>
<rect x="94.85" y="646.96" width="10.21" height="2.26" fill="#fedc8d"/>
<rect x="105.02" y="646.96" width="10.21" height="2.26" fill="#fee394"/>
<rect x="115.18" y="646.96" width="10.21" height="2.26" fill="#feefa6"/>
<rect x="125.35" y="646.96" width="10.21" height="2.26" fill="#feea9f"/>
<rect x="135.51" y="646.96" width="10.21" height="2.26" fill="#fede8f"/>
<rect x="145.68" y="646.96" width="10.21" height="2.26" fill="#fedc8d"/>
<rect x="155.84" y="646.96" width="10.21" height="2.26" fill="#fed287"/>
<rect x="166.01" y="646.96" width="10.21" height="2.26" fill="#fee293"/>
<rect x="176.17" y="646.96" width="10.21" height="2.26" fill="#fff6b2"/>
<rect x="186.34" y="646.96" width="10.21" height="2.26" fill="#fee99e"/>
<rect x="23.7" y="649.17" width="10.21" height="2.26" fill="#f3fad5"/>
<rect x="33.86" y="649.17" width="10.21" height="2.26" fill="#ecf8e1"/>
<rect x="44.03" y="649.17" width="10.21" height="2.26" fill="#eff9dc"/>
<rect x="54.19" y="649.17" width="10.21" height="2.26" fill="#f6fbd0"/>
<rect x="64.36" y="649.17" width="10.21" height="2.26" fill="#f5fbd1"/>
<rect x="74.52" y="649.17" width="10.21" height="2.26" fill="#fffebe"/>
<rect x="84.69" y="649.17" width="10.21" height="2.26" fill="#86b4d5"/>
<rect x="94.85" y="649.17" width="10.21" height="2.26" fill="#fee395"/>
<rect x="105.02" y="649.17" width="10.21" height="2.26" fill="#fedf8f"/>
<rect x="115.18" y="649.17" width="10.21" height="2.26" fill="#feeea5"/>
<rect x="125.35" y="649.17" width="10.21" height="2.26" fill="#fdc37d"/>
<rect x="135.51" y="649.17" width="10.21" height="2.26" fill="#fee699"/>
<rect x="145.68" y="649.17" width="10.21" height="2.26" fill="#feefa7"/>
<rect x="155.84" y="649.17" width="10.21" height="2.26" fill="#fff5af"/>
<rect x="166.01" y="649.17" width="10.21" height="2.26" fill="#fdc67f"/>
<rect x="176.17" y="649.17" width="10.21" height="2.26" fill="#feea9f"/>
<rect x="186.34" y="649.17" width="10.21" height="2.26" fill="#fdfec3"/>
<rect x="23.7" y="651.39" width="10.21" height="2.26" fill="#e8f6e9"/>
<rect x="33.86" y="651.39" width="10.21" height="2.26" fill="#f1fad9"/>
<rect x="44.03" y="651.39" width="10.21" height="2.26" fill="#d7edf5"/>
<rect x="54.19" y="651.39" width="10.21" height="2.26" fill="#e8f6e9"/>
<rect x="64.36" y="651.39" width="10.21" height="2.26" fill="#e1f3f6"/>
<rect x="74.52" y="651.39" width="10.21" height="2.26" fill="#fbfdc7"/>
<rect x="84.69" y="651.39" width="10.21" height="2.26" fill="#8cbad8"/>
<rect x="94.85" y="651.39" width="10.21" height="2.26" fill="#fdaf70"/>
<rect x="105.02" y="651.39" width="10.21" height="2.26" fill="#fedb8d"/>
<rect x="115.18" y="651.39" width="10.21" height="2.26" fill="#fdb070"/>
<rect x="125.35" y="651.39" width="10.21" height="2.26" fill="#fc9f65"/>
<rect x="135.51" y="651.39" width="10.21" height="2.26" fill="#fee090"/>
<rect x="145.68" y="651.39" width="10.21" height="2.26" fill="#fecf85"/>
<rect x="155.84" y="651.39" width="10.21" height="2.26" fill="#fdaf6f"/>
<rect x="166.01" y="651.39" width="10.21" height="2.26" fill="#fdc67f"/>
<rect x="176.17" y="651.39" width="10.21" height="2.26" fill="#fffdbc"/>
<rect x="186.34" y="651.39" width="10.21" height="2.26" fill="#fff5af"/>
<rect x="23.7" y="653.6" width="10.21" height="2.26" fill="#fffebe"/>
<rect x="33.86" y="653.6" width="10.21" height="2.26" fill="#f8fccc"/>
<rect x="44.03" y="653.6" width="10.21" height="2.26" fill="#f5fbd1"/>
<rect x="54.19" y="653.6" width="10.21" height="2.26" fill="#c9e4f0"/>
<rect x="64.36" y="653.6" width="10.21" height="2.26" fill="#fdfec3"/>
<rect x="74.52" y="653.6" width="10.21" height="2.26" fill="#fcfec4"/>
<rect x="84.69" y="653.6" width="10.21" height="2.26" fill="#c2dfed"/>
<rect x="94.85" y="653.6" width="10.21" height="2.26" fill="#fee598"/>
<rect x="105.02" y="653.6" width="10.21" height="2.26" fill="#fed98c"/>
<rect x="115.18" y="653.6" width="10.21" height="2.26" fill="#feda8c"/>
<rect x="125.35" y="653.6" width="10.21" height="2.26" fill="#fee496"/>
<rect x="135.51" y="653.6" width="10.21" height="2.26" fill="#fee89c"/>
<rect x="145.68" y="653.6" width="10.21" height="2.26" fill="#fff3ad"/>
<rect x="155.84" y="653.6" width="10.21" height="2.26" fill="#fee89c"/>
<rect x="166.01" y="653.6" width="10.21" height="2.26" fill="#fff1aa"/>
<rect x="176.17" y="653.6" width="10.21" height="2.26" fill="#eaf7e5"/>
<rect x="186.34" y="653.6" width="10.21" height="2.26" fill="#fee99e"/>
<rect x="23.7" y="655.81" width="10.21" height="2.26" fill="#e3f4f2"/>
<rect x="33.86" y="655.81" width="10.21" height="2.26" fill="#e7f6eb"/>
<rect x="44.03" y="655.81" width="10.21" height="2.26" fill="#abd0e4"/>
<rect x="54.19" y="655.81" width="10.21" height="2.26" fill="#e3f4f2"/>
<rect x="64.36" y="655.81" width="10.21" height="2.26" fill="#c7e2ef"/>
<rect x="74.52" y="655.81" width="10.21" height="2.26" fill="#f4fbd4"/>
<rect x="84.69" y="655.81" width="10.21" height="2.26" fill="#5080ba"/>
<rect x="94.85" y="655.81" width="10.21" height="2.26" fill="#fee598"/>
<rect x="105.02" y="655.81" width="10.21" height="2.26" fill="#fedb8c"/>
<rect x="115.18" y="655.81" width="10.21" height="2.26" fill="#feda8c"/>
<rect x="125.35" y="655.81" width="10.21" height="2.26" fill="#feda8c"/>
<rect x="135.51" y="655.81" width="10.21" height="2.26" fill="#fdad6e"/>
<rect x="145.68" y="655.81" width="10.21" height="2.26" fill="#fdae6f"/>
<rect x="155.84" y="655.81" width="10.21" height="2.26" fill="#fa8756"/>
<rect x="166.01" y="655.81" width="10.21" height="2.26" fill="#fee99e"/>
<rect x="176.17" y="655.81" width="10.21" height="2.26" fill="#fee699"/>
<rect x="186.34" y="655.81" width="10.21" height="2.26" fill="#fee699"/>
<rect x="23.7" y="658.03" width="10.21" height="2.26" fill="#e7f6ea"/>
<rect x="33.86" y="658.03" width="10.21" height="2.26" fill="#fee79b"/>
<rect x="44.03" y="658.03" width="10.21" height="2.26" fill="#fafdc7"/>
<rect x="54.19" y="658.03" width="10.21" height="2.26" fill="#c9e4f0"/>
<rect x="64.36" y="658.03" width="10.21" height="2.26" fill="#fff5b0"/>
<rect x="74.52" y="658.03" width="10.21" height="2.26" fill="#f2fad7"/>
<rect x="84.69" y="658.03" width="10.21" height="2.26" fill="#a1c9e1"/>
<rect x="94.85" y="658.03" width="10.21" height="2.26" fill="#fdbd79"/>
<rect x="105.02" y="658.03" width="10.21" height="2.26" fill="#fee496"/>
<rect x="115.18" y="658.03" width="10.21" height="2.26" fill="#fedb8d"/>
<rect x="125.35" y="658.03" width="10.21" height="2.26" fill="#fdbd79"/>
<rect x="135.51" y="658.03" width="10.21" height="2.26" fill="#fee89d"/>
<rect x="145.68" y="658.03" width="10.21" height="2.26" fill="#feefa6"/>
<rect x="155.84" y="658.03" width="10.21" height="2.26" fill="#fff1a9"/>
<rect x="166.01" y="658.03" width="10.21" height="2.26" fill="#fdc47d"/>
<rect x="176.17" y="658.03" width="10.21" height="2.26" fill="#fbfec6"/>
<rect x="186.34" y="658.03" width="10.21" height="2.26" fill="#fff7b3"/>
<rect x="23.7" y="660.24" width="10.21" height="2.26" fill="#fcfec4"/>
<rect x="33.86" y="660.24" width="10.21" height="2.26" fill="#fdfec2"/>
<rect x="44.03" y="660.24" width="10.21" height="2.26" fill="#e1f3f7"/>
<rect x="54.19" y="660.24" width="10.21" height="2.26" fill="#fbfdc6"/>
<rect x="64.36" y="660.24" width="10.21" height="2.26" fill="#fafdc8"/>
<rect x="74.52" y="660.24" width="10.21" height="2.26" fill="#eef9dd"/>
<rect x="84.69" y="660.24" width="10.21" height="2.26" fill="#88b6d6"/>
<rect x="94.85" y="660.24" width="10.21" height="2.26" fill="#fee091"/>
<rect x="105.02" y="660.24" width="10.21" height="2.26" fill="#fede8f"/>
<rect x="115.18" y="660.24" width="10.21" height="2.26" fill="#fed689"/>
<rect x="125.35" y="660.24" width="10.21" height="2.26" fill="#fece84"/>
<rect x="135.51" y="660.24" width="10.21" height="2.26" fill="#fdc47d"/>
<rect x="145.68" y="660.24" width="10.21" height="2.26" fill="#fee192"/>
<rect x="155.84" y="660.24" width="10.21" height="2.26" fill="#feda8c"/>
<rect x="166.01" y="660.24" width="10.21" height="2.26" fill="#fdc57e"/>
<rect x="176.17" y="660.24" width="10.21" height="2.26" fill="#fee89c"/>
<rect x="186.34" y="660.24" width="10.21" height="2.26" fill="#fee395"/>
<rect x="23.7" y="662.45" width="10.21" height="2.26" fill="#e9f7e7"/>
<rect x="33.86" y="662.45" width="10.21" height="2.26" fill="#feffc1"/>
<rect x="44.03" y="662.45" width="10.21" height="2.26" fill="#eff9dc"/>
<rect x="54.19" y="662.45" width="10.21" height="2.26" fill="#eef9de"/>
<rect x="64.36" y="662.45" width="10.21" height="2.26" fill="#feffc0"/>
<rect x="74.52" y="662.45" width="10.21" height="2.26" fill="#e7f6ea"/>
<rect x="84.69" y="662.45" width="10.21" height="2.26" fill="#a0c9e0"/>
<rect x="94.85" y="662.45" width="10.21" height="2.26" fill="#fff9b7"/>
<rect x="105.02" y="662.45" width="10.21" height="2.26" fill="#fda367"/>
<rect x="115.18" y="662.45" width="10.21" height="2.26" fill="#feda8c"/>
<rect x="125.35" y="662.45" width="10.21" height="2.26" fill="#fee496"/>
<rect x="135.51" y="662.45" width="10.21" height="2.26" fill="#fdc67e"/>
<rect x="145.68" y="662.45" width="10.21" height="2.26" fill="#fee394"/>
<rect x="155.84" y="662.45" width="10.21" height="2.26" fill="#fee79a"/>
<rect x="166.01" y="662.45" width="10.21" height="2.26" fill="#fdc57e"/>
<rect x="176.17" y="662.45" width="10.21" height="2.26" fill="#fff7b3"/>
<rect x="186.34" y="662.45" width="10.21" height="2.26" fill="#fffcba"/>
<rect x="23.7" y="664.67" width="10.21" height="2.26" fill="#fffcba"/>
<rect x="33.86" y="664.67" width="10.21" height="2.26" fill="#fff9b6"/>
<rect x="44.03" y="664.67" width="10.21" height="2.26" fill="#eff9dd"/>
<rect x="54.19" y="664.67" width="10.21" height="2.26" fill="#ffffbf"/>
<rect x="64.36" y="664.67" width="10.21" height="2.26" fill="#f2fad6"/>
<rect x="74.52" y="664.67" width="10.21" height="2.26" fill="#fcfec4"/>
<rect x="84.69" y="664.67" width="10.21" height="2.26" fill="#d6edf4"/>
<rect x="94.85" y="664.67" width="10.21" height="2.26" fill="#feeba1"/>
<rect x="105.02" y="664.67" width="10.21" height="2.26" fill="#fedb8c"/>
<rect x="115.18" y="664.67" width="10.21" height="2.26" fill="#fff6b1"/>
<rect x="125.35" y="664.67" width="10.21" height="2.26" fill="#fee293"/>
<rect x="135.51" y="664.67" width="10.21" height="2.26" fill="#fff3ad"/>
<rect x="145.68" y="664.67" width="10.21" height="2.26" fill="#fff2ac"/>
<rect x="155.84" y="664.67" width="10.21" height="2.26" fill="#fedc8d"/>
<rect x="166.01" y="664.67" width="10.21" height="2.26" fill="#fdc57e"/>
<rect x="176.17" y="664.67" width="10.21" height="2.26" fill="#fff4af"/>
<rect x="186.34" y="664.67" width="10.21" height="2.26" fill="#fff9b6"/>
<rect x="23.7" y="666.88" width="10.21" height="2.26" fill="#f3fad6"/>
<rect x="33.86" y="666.88" width="10.21" height="2.26" fill="#feeba1"/>
<rect x="44.03" y="666.88" width="10.21" height="2.26" fill="#f8fccb"/>
<rect x="54.19" y="666.88" width="10.21" height="2.26" fill="#cbe5f0"/>
<rect x="64.36" y="666.88" width="10.21" height="2.26" fill="#eaf7e6"/>
<rect x="74.52" y="666.88" width="10.21" height="2.26" fill="#c8e3ef"/>
<rect x="84.69" y="666.88" width="10.21" height="2.26" fill="#9ec8e0"/>
<rect x="94.85" y="666.88" width="10.21" height="2.26" fill="#fede8e"/>
<rect x="105.02" y="666.88" width="10.21" height="2.26" fill="#feeea5"/>
<rect x="115.18" y="666.88" width="10.21" height="2.26" fill="#feda8c"/>
<rect x="125.35" y="666.88" width="10.21" height="2.26" fill="#fee395"/>
<rect x="135.51" y="666.88" width="10.21" height="2.26" fill="#fee69a"/>
<rect x="145.68" y="666.88" width="10.21" height="2.26" fill="#fee293"/>
<rect x="155.84" y="666.88" width="10.21" height="2.26" fill="#fdb976"/>
<rect x="166.01" y="666.88" width="10.21" height="2.26" fill="#fee99d"/>
<rect x="176.17" y="666.88" width="10.21" height="2.26" fill="#fff9b6"/>
<rect x="186.34" y="666.88" width="10.21" height="2.26" fill="#fcfec5"/>
<rect x="23.7" y="669.09" width="10.21" height="2.26" fill="#fff9b6"/>
<rect x="33.86" y="669.09" width="10.21" height="2.26" fill="#ffffbf"/>
<rect x="44.03" y="669.09" width="10.21" height="2.26" fill="#e2f4f5"/>
<rect x="54.19" y="669.09" width="10.21" height="2.26" fill="#e3f4f3"/>
<rect x="64.36" y="669.09" width="10.21" height="2.26" fill="#fffab8"/>
<rect x="74.52" y="669.09" width="10.21" height="2.26" fill="#e9f6e8"/>
<rect x="84.69" y="669.09" width="10.21" height="2.26" fill="#85b4d5"/>
<rect x="94.85" y="669.09" width="10.21" height="2.26" fill="#fdb372"/>
<rect x="105.02" y="669.09" width="10.21" height="2.26" fill="#fee192"/>
<rect x="115.18" y="669.09" width="10.21" height="2.26" fill="#fee598"/>
<rect x="125.35" y="669.09" width="10.21" height="2.26" fill="#fecf84"/>
<rect x="135.51" y="669.09" width="10.21" height="2.26" fill="#feea9f"/>
<rect x="145.68" y="669.09" width="10.21" height="2.26" fill="#fee395"/>
<rect x="155.84" y="669.09" width="10.21" height="2.26" fill="#fee698"/>
<rect x="166.01" y="669.09" width="10.21" height="2.26" fill="#fed68a"/>
<rect x="176.17" y="669.09" width="10.21" height="2.26" fill="#fff7b3"/>
<rect x="186.34" y="669.09" width="10.21" height="2.26" fill="#fed689"/>
<rect x="23.7" y="671.31" width="10.21" height="2.26" fill="#feffc0"/>
<rect x="33.86" y="671.31" width="10.21" height="2.26" fill="#fff5b1"/>
<rect x="44.03" y="671.31" width="10.21" height="2.26" fill="#f1f9d9"/>
<rect x="54.19" y="671.31" width="10.21" height="2.26" fill="#f6fccf"/>
<rect x="64.36" y="671.31" width="10.21" height="2.26" fill="#fff9b6"/>
<rect x="74.52" y="671.31" width="10.21" height="2.26" fill="#f9fdca"/>
<rect x="84.69" y="671.31" width="10.21" height="2.26" fill="#d6ecf4"/>
<rect x="94.85" y="671.31" width="10.21" height="2.26" fill="#fece84"/>
<rect x="105.02" y="671.31" width="10.21" height="2.26" fill="#fee89d"/>
<rect x="115.18" y="671.31" width="10.21" height="2.26" fill="#fed78a"/>
<rect x="125.35" y="671.31" width="10.21" height="2.26" fill="#feefa7"/>
<rect x="135.51" y="671.31" width="10.21" height="2.26" fill="#fc9b62"/>
<rect x="145.68" y="671.31" width="10.21" height="2.26" fill="#fff8b4"/>
<rect x="155.84" y="671.31" width="10.21" height="2.26" fill="#fee192"/>
<rect x="166.01" y="671.31" width="10.21" height="2.26" fill="#fed589"/>
<rect x="176.17" y="671.31" width="10.21" height="2.26" fill="#fafdc9"/>
<rect x="186.34" y="671.31" width="10.21" height="2.26" fill="#fffbb9"/>
<rect x="23.7" y="673.52" width="10.21" height="2.26" fill="#f2fad7"/>
<rect x="33.86" y="673.52" width="10.21" height="2.26" fill="#feefa7"/>
<rect x="44.03" y="673.52" width="10.21" height="2.26" fill="#f3fad5"/>
<rect x="54.19" y="673.52" width="10.21" height="2.26" fill="#f1fad8"/>
<rect x="64.36" y="673.52" width="10.21" height="2.26" fill="#fee699"/>
<rect x="74.52" y="673.52" width="10.21" height="2.26" fill="#ffffbf"/>
<rect x="84.69" y="673.52" width="10.21" height="2.26" fill="#bddceb"/>
<rect x="94.85" y="673.52" width="10.21" height="2.26" fill="#fee497"/>
<rect x="105.02" y="673.52" width="10.21" height="2.26" fill="#fede8f"/>
<rect x="115.18" y="673.52" width="10.21" height="2.26" fill="#fee395"/>
<rect x="125.35" y="673.52" width="10.21" height="2.26" fill="#fdaf6f"/>
<rect x="135.51" y="673.52" width="10.21" height="2.26" fill="#fed98b"/>
<rect x="145.68" y="673.52" width="10.21" height="2.26" fill="#feeca2"/>
<rect x="155.84" y="673.52" width="10.21" height="2.26" fill="#fee79b"/>
<rect x="166.01" y="673.52" width="10.21" height="2.26" fill="#fedc8d"/>
<rect x="176.17" y="673.52" width="10.21" height="2.26" fill="#fee090"/>
<rect x="186.34" y="673.52" width="10.21" height="2.26" fill="#feffc1"/>
<rect x="23.7" y="675.73" width="10.21" height="2.26" fill="#beddec"/>
<rect x="33.86" y="675.73" width="10.21" height="2.26" fill="#fff2ab"/>
<rect x="44.03" y="675.73" width="10.21" height="2.26" fill="#e1f3f7"/>
<rect x="54.19" y="675.73" width="10.21" height="2.26" fill="#f8fccc"/>
<rect x="64.36" y="675.73" width="10.21" height="2.26" fill="#f5fbd2"/>
<rect x="74.52" y="675.73" width="10.21" height="2.26" fill="#e7f6ec"/>
<rect x="84.69" y="675.73" width="10.21" height="2.26" fill="#6392c4"/>
<rect x="94.85" y="675.73" width="10.21" height="2.26" fill="#fecc82"/>
<rect x="105.02" y="675.73" width="10.21" height="2.26" fill="#fdc57e"/>
<rect x="115.18" y="675.73" width="10.21" height="2.26" fill="#fee394"/>
<rect x="125.35" y="675.73" width="10.21" height="2.26" fill="#fdb976"/>
<rect x="135.51" y="675.73" width="10.21" height="2.26" fill="#fc9e64"/>
<rect x="145.68" y="675.73" width="10.21" height="2.26" fill="#fdc07b"/>
<rect x="155.84" y="675.73" width="10.21" height="2.26" fill="#fdc37d"/>
<rect x="166.01" y="675.73" width="10.21" height="2.26" fill="#feeea5"/>
<rect x="176.17" y="675.73" width="10.21" height="2.26" fill="#df4331"/>
<rect x="186.34" y="675.73" width="10.21" height="2.26" fill="#fee597"/>
<rect x="23.7" y="677.95" width="10.21" height="2.26" fill="#e4f5f1"/>
<rect x="33.86" y="677.95" width="10.21" height="2.26" fill="#edf8e0"/>
<rect x="44.03" y="677.95" width="10.21" height="2.26" fill="#d3eaf3"/>
<rect x="54.19" y="677.95" width="10.21" height="2.26" fill="#e7f6eb"/>
<rect x="64.36" y="677.95" width="10.21" height="2.26" fill="#e7f6eb"/>
<rect x="74.52" y="677.95" width="10.21" height="2.26" fill="#e8f6e9"/>
<rect x="84.69" y="677.95" width="10.21" height="2.26" fill="#7eadd1"/>
<rect x="94.85" y="677.95" width="10.21" height="2.26" fill="#fed78a"/>
<rect x="105.02" y="677.95" width="10.21" height="2.26" fill="#fee79b"/>
<rect x="115.18" y="677.95" width="10.21" height="2.26" fill="#fdc981"/>
<rect x="125.35" y="677.95" width="10.21" height="2.26" fill="#fdcb82"/>
<rect x="135.51" y="677.95" width="10.21" height="2.26" fill="#fee192"/>
<rect x="145.68" y="677.95" width="10.21" height="2.26" fill="#feefa7"/>
<rect x="155.84" y="677.95" width="10.21" height="2.26" fill="#fecd83"/>
<rect x="166.01" y="677.95" width="10.21" height="2.26" fill="#fff1a9"/>
<rect x="176.17" y="677.95" width="10.21" height="2.26" fill="#fdc17c"/>
<rect x="186.34" y="677.95" width="10.21" height="2.26" fill="#feea9f"/>
<rect x="23.7" y="680.16" width="10.21" height="2.26" fill="#ffffbf"/>
<rect x="33.86" y="680.16" width="10.21" height="2.26" fill="#fff4af"/>
<rect x="44.03" y="680.16" width="10.21" height="2.26" fill="#fff8b4"/>
<rect x="54.19" y="680.16" width="10.21" height="2.26" fill="#ebf7e4"/>
<rect x="64.36" y="680.16" width="10.21" height="2.26" fill="#fdfec3"/>
<rect x="74.52" y="680.16" width="10.21" height="2.26" fill="#fbfdc7"/>
<rect x="84.69" y="680.16" width="10.21" height="2.26" fill="#ddf1f7"/>
<rect x="94.85" y="680.16" width="10.21" height="2.26" fill="#fff0a9"/>
<rect x="105.02" y="680.16" width="10.21" height="2.26" fill="#fff1a9"/>
<rect x="115.18" y="680.16" width="10.21" height="2.26" fill="#fdc880"/>
<rect x="125.35" y="680.16" width="10.21" height="2.26" fill="#fdc57e"/>
<rect x="135.51" y="680.16" width="10.21" height="2.26" fill="#fee89c"/>
<rect x="145.68" y="680.16" width="10.21" height="2.26" fill="#fee495"/>
<rect x="155.84" y="680.16" width="10.21" height="2.26" fill="#fdc880"/>
<rect x="166.01" y="680.16" width="10.21" height="2.26" fill="#fee79a"/>
<rect x="176.17" y="680.16" width="10.21" height="2.26" fill="#feeba0"/>
<rect x="186.34" y="680.16" width="10.21" height="2.26" fill="#fff6b1"/>
<rect x="23.7" y="682.37" width="10.21" height="2.26" fill="#f0f9da"/>
<rect x="33.86" y="682.37" width="10.21" height="2.26" fill="#feeca2"/>
<rect x="44.03" y="682.37" width="10.21" height="2.26" fill="#f1f9da"/>
<rect x="54.19" y="682.37" width="10.21" height="2.26" fill="#ddf1f7"/>
<rect x="64.36" y="682.37" width="10.21" height="2.26" fill="#fffcbb"/>
<rect x="74.52" y="682.37" width="10.21" height="2.26" fill="#e2f4f4"/>
<rect x="84.69" y="682.37" width="10.21" height="2.26" fill="#d7edf5"/>
<rect x="94.85" y="682.37" width="10.21" height="2.26" fill="#fed589"/>
<rect x="105.02" y="682.37" width="10.21" height="2.26" fill="#fdac6d"/>
<rect x="115.18" y="682.37" width="10.21" height="2.26" fill="#fff5b1"/>
<rect x="125.35" y="682.37" width="10.21" height="2.26" fill="#fee293"/>
<rect x="135.51" y="682.37" width="10.21" height="2.26" fill="#fdb171"/>
<rect x="145.68" y="682.37" width="10.21" height="2.26" fill="#fdc37d"/>
<rect x="155.84" y="682.37" width="10.21" height="2.26" fill="#fed085"/>
<rect x="166.01" y="682.37" width="10.21" height="2.26" fill="#fedd8e"/>
<rect x="176.17" y="682.37" width="10.21" height="2.26" fill="#fda96b"/>
<rect x="186.34" y="682.37" width="10.21" height="2.26" fill="#feeba1"/>
<rect x="23.7" y="684.59" width="10.21" height="2.26" fill="#f0f9da"/>
<rect x="33.86" y="684.59" width="10.21" height="2.26" fill="#fdfec3"/>
<rect x="44.03" y="684.59" width="10.21" height="2.26" fill="#f3fad5"/>
<rect x="54.19" y="684.59" width="10.21" height="2.26" fill="#fdfec3"/>
<rect x="64.36" y="684.59" width="10.21" height="2.26" fill="#fff4af"/>
<rect x="74.52" y="684.59" width="10.21" height="2.26" fill="#f6fbd0"/>
<rect x="84.69" y="684.59" width="10.21" height="2.26" fill="#bbdaea"/>
<rect x="94.85" y="684.59" width="10.21" height="2.26" fill="#fed488"/>
<rect x="105.02" y="684.59" width="10.21" height="2.26" fill="#fdc67f"/>
<rect x="115.18" y="684.59" width="10.21" height="2.26" fill="#feeea5"/>
<rect x="125.35" y="684.59" width="10.21" height="2.26" fill="#feea9f"/>
<rect x="135.51" y="684.59" width="10.21" height="2.26" fill="#fee293"/>
<rect x="145.68" y="684.59" width="10.21" height="2.26" fill="#fda267"/>
<rect x="155.84" y="684.59" width="10.21" height="2.26" fill="#feeda3"/>
<rect x="166.01" y="684.59" width="10.21" height="2.26" fill="#fee394"/>
<rect x="176.17" y="684.59" width="10.21" height="2.26" fill="#fffdbd"/>
<rect x="186.34" y="684.59" width="10.21" height="2.26" fill="#ffffc0"/>
<rect x="23.7" y="686.8" width="10.21" height="2.26" fill="#feffc1"/>
<rect x="33.86" y="686.8" width="10.21" height="2.26" fill="#fdfec4"/>
<rect x="44.03" y="686.8" width="10.21" height="2.26" fill="#f5fbd2"/>
<rect x="54.19" y="686.8" width="10.21" height="2.26" fill="#f7fcce"/>
<rect x="64.36" y="686.8" width="10.21" height="2.26" fill="#f7fcce"/>
<rect x="74.52" y="686.8" width="10.21" height="2.26" fill="#ebf7e4"/>
<rect x="84.69" y="686.8" width="10.21" height="2.26" fill="#cee7f2"/>
<rect x="94.85" y="686.8" width="10.21" height="2.26" fill="#fee99d"/>
<rect x="105.02" y="686.8" width="10.21" height="2.26" fill="#fdc880"/>
<rect x="115.18" y="686.8" width="10.21" height="2.26" fill="#fee496"/>
<rect x="125.35" y="686.8" width="10.21" height="2.26" fill="#feeea5"/>
<rect x="135.51" y="686.8" width="10.21" height="2.26" fill="#feeea5"/>
<rect x="145.68" y="686.8" width="10.21" height="2.26" fill="#fff8b4"/>
<rect x="155.84" y="686.8" width="10.21" height="2.26" fill="#fed085"/>
<rect x="166.01" y="686.8" width="10.21" height="2.26" fill="#fed689"/>
<rect x="176.17" y="686.8" width="10.21" height="2.26" fill="#fdfec2"/>
<rect x="186.34" y="686.8" width="10.21" height="2.26" fill="#f9fdca"/>
<rect x="23.7" y="689.01" width="10.21" height="2.26" fill="#f5fbd2"/>
<rect x="33.86" y="689.01" width="10.21" height="2.26" fill="#fff9b5"/>
<rect x="44.03" y="689.01" width="10.21" height="2.26" fill="#e0f3f8"/>
<rect x="54.19" y="689.01" width="10.21" height="2.26" fill="#c1dfed"/>
<rect x="64.36" y="689.01" width="10.21" height="2.26" fill="#f5fbd1"/>
<rect x="74.52" y="689.01" width="10.21" height="2.26" fill="#e3f4f2"/>
<rect x="84.69" y="689.01" width="10.21" height="2.26" fill="#75a4cd"/>
<rect x="94.85" y="689.01" width="10.21" height="2.26" fill="#fff4ae"/>
<rect x="105.02" y="689.01" width="10.21" height="2.26" fill="#fdc77f"/>
<rect x="115.18" y="689.01" width="10.21" height="2.26" fill="#fdac6e"/>
<rect x="125.35" y="689.01" width="10.21" height="2.26" fill="#feeba1"/>
<rect x="135.51" y="689.01" width="10.21" height="2.26" fill="#feeea4"/>
<rect x="145.68" y="689.01" width="10.21" height="2.26" fill="#fee699"/>
<rect x="155.84" y="689.01" width="10.21" height="2.26" fill="#fee192"/>
<rect x="166.01" y="689.01" width="10.21" height="2.26" fill="#fece84"/>
<rect x="176.17" y="689.01" width="10.21" height="2.26" fill="#fff6b1"/>
<rect x="186.34" y="689.01" width="10.21" height="2.26" fill="#f6fccf"/>
<rect x="23.7" y="691.23" width="10.21" height="2.26" fill="#fbfdc7"/>
<rect x="33.86" y="691.23" width="10.21" height="2.26" fill="#f4fbd3"/>
<rect x="44.03" y="691.23" width="10.21" height="2.26" fill="#f0f9db"/>
<rect x="54.19" y="691.23" width="10.21" height="2.26" fill="#d6ecf4"/>
<rect x="64.36" y="691.23" width="10.21" height="2.26" fill="#f3fad5"/>
<rect x="74.52" y="691.23" width="10.21" height="2.26" fill="#d5ecf4"/>
<rect x="84.69" y="691.23" width="10.21" height="2.26" fill="#99c4de"/>
<rect x="94.85" y="691.23" width="10.21" height="2.26" fill="#fdca81"/>
<rect x="105.02" y="691.23" width="10.21" height="2.26" fill="#fff8b4"/>
<rect x="115.18" y="691.23" width="10.21" height="2.26" fill="#fee091"/>
<rect x="125.35" y="691.23" width="10.21" height="2.26" fill="#fed085"/>
<rect x="135.51" y="691.23" width="10.21" height="2.26" fill="#fed589"/>
<rect x="145.68" y="691.23" width="10.21" height="2.26" fill="#fdb372"/>
<rect x="155.84" y="691.23" width="10.21" height="2.26" fill="#fee192"/>
<rect x="166.01" y="691.23" width="10.21" height="2.26" fill="#fca267"/>
<rect x="176.17" y="691.23" width="10.21" height="2.26" fill="#fff9b6"/>
<rect x="186.34" y="691.23" width="10.21" height="2.26" fill="#f9fdc9"/>
<rect x="23.7" y="693.44" width="10.21" height="2.26" fill="#ecf8e1"/>
<rect x="33.86" y="693.44" width="10.21" height="2.26" fill="#fff8b4"/>
<rect x="44.03" y="693.44" width="10.21" height="2.26" fill="#fdfec3"/>
<rect x="54.19" y="693.44" width="10.21" height="2.26" fill="#feffc1"/>
<rect x="64.36" y="693.44" width="10.21" height="2.26" fill="#feffc1"/>
<rect x="74.52" y="693.44" width="10.21" height="2.26" fill="#e8f6e9"/>
<rect x="84.69" y="693.44" width="10.21" height="2.26" fill="#83b1d4"/>
<rect x="94.85" y="693.44" width="10.21" height="2.26" fill="#feeca2"/>
<rect x="105.02" y="693.44" width="10.21" height="2.26" fill="#fdc67f"/>
<rect x="115.18" y="693.44" width="10.21" height="2.26" fill="#feeda4"/>
<rect x="125.35" y="693.44" width="10.21" height="2.26" fill="#fee395"/>
<rect x="135.51" y="693.44" width="10.21" height="2.26" fill="#fed085"/>
<rect x="145.68" y="693.44" width="10.21" height="2.26" fill="#fed387"/>
<rect x="155.84" y="693.44" width="10.21" height="2.26" fill="#feefa7"/>
<rect x="166.01" y="693.44" width="10.21" height="2.26" fill="#feefa7"/>
<rect x="176.17" y="693.44" width="10.21" height="2.26" fill="#f8fccb"/>
<rect x="186.34" y="693.44" width="10.21" height="2.26" fill="#feea9f"/>
<rect x="23.7" y="695.65" width="10.21" height="2.26" fill="#e3f4f2"/>
<rect x="33.86" y="695.65" width="10.21" height="2.26" fill="#f9fdca"/>
<rect x="44.03" y="695.65" width="10.21" height="2.26" fill="#eef9dd"/>
<rect x="54.19" y="695.65" width="10.21" height="2.26" fill="#fafdc8"/>
<rect x="64.36" y="695.65" width="10.21" height="2.26" fill="#eef9de"/>
<rect x="74.52" y="695.65" width="10.21" height="2.26" fill="#eff9dd"/>
<rect x="84.69" y="695.65" width="10.21" height="2.26" fill="#5080ba"/>
<rect x="94.85" y="695.65" width="10.21" height="2.26" fill="#fdbe79"/>
<rect x="105.02" y="695.65" width="10.21" height="2.26" fill="#fdb674"/>
<rect x="115.18" y="695.65" width="10.21" height="2.26" fill="#fdb372"/>
<rect x="125.35" y="695.65" width="10.21" height="2.26" fill="#fee293"/>
<rect x="135.51" y="695.65" width="10.21" height="2.26" fill="#fc9f65"/>
<rect x="145.68" y="695.65" width="10.21" height="2.26" fill="#fda267"/>
<rect x="155.84" y="695.65" width="10.21" height="2.26" fill="#fed085"/>
<rect x="166.01" y="695.65" width="10.21" height="2.26" fill="#fed388"/>
<rect x="176.17" y="695.65" width="10.21" height="2.26" fill="#fff8b4"/>
<rect x="186.34" y="695.65" width="10.21" height="2.26" fill="#fff3ae"/>
<rect x="23.7" y="697.87" width="10.21" height="2.26" fill="#e9f6e8"/>
<rect x="33.86" y="697.87" width="10.21" height="2.26" fill="#ebf7e4"/>
<rect x="44.03" y="697.87" width="10.21" height="2.26" fill="#eaf7e6"/>
<rect x="54.19" y="697.87" width="10.21" height="2.26" fill="#e7f6ec"/>
<rect x="64.36" y="697.87" width="10.21" height="2.26" fill="#fffbb9"/>
<rect x="74.52" y="697.87" width="10.21" height="2.26" fill="#eaf7e5"/>
<rect x="84.69" y="697.87" width="10.21" height="2.26" fill="#7eadd1"/>
<rect x="94.85" y="697.87" width="10.21" height="2.26" fill="#fff4ae"/>
<rect x="105.02" y="697.87" width="10.21" height="2.26" fill="#fee394"/>
<rect x="115.18" y="697.87" width="10.21" height="2.26" fill="#feeba1"/>
<rect x="125.35" y="697.87" width="10.21" height="2.26" fill="#fff6b1"/>
<rect x="135.51" y="697.87" width="10.21" height="2.26" fill="#fc9b62"/>
<rect x="145.68" y="697.87" width="10.21" height="2.26" fill="#fff7b3"/>
<rect x="155.84" y="697.87" width="10.21" height="2.26" fill="#fda76a"/>
<rect x="166.01" y="697.87" width="10.21" height="2.26" fill="#f67d50"/>
<rect x="176.17" y="697.87" width="10.21" height="2.26" fill="#fff6b2"/>
<rect x="186.34" y="697.87" width="10.21" height="2.26" fill="#fff9b6"/>
<rect x="23.7" y="700.08" width="10.21" height="2.26" fill="#e4f4f1"/>
<rect x="33.86" y="700.08" width="10.21" height="2.26" fill="#fffbb9"/>
<rect x="44.03" y="700.08" width="10.21" height="2.26" fill="#fbfdc6"/>
<rect x="54.19" y="700.08" width="10.21" height="2.26" fill="#e3f4f2"/>
<rect x="64.36" y="700.08" width="10.21" height="2.26" fill="#feefa6"/>
<rect x="74.52" y="700.08" width="10.21" height="2.26" fill="#f3fad5"/>
<rect x="84.69" y="700.08" width="10.21" height="2.26" fill="#eef9de"/>
<rect x="94.85" y="700.08" width="10.21" height="2.26" fill="#fdb775"/>
<rect x="105.02" y="700.08" width="10.21" height="2.26" fill="#fff1aa"/>
<rect x="115.18" y="700.08" width="10.21" height="2.26" fill="#feefa7"/>
<rect x="125.35" y="700.08" width="10.21" height="2.26" fill="#fedd8e"/>
<rect x="135.51" y="700.08" width="10.21" height="2.26" fill="#fed186"/>
<rect x="145.68" y="700.08" width="10.21" height="2.26" fill="#fee598"/>
<rect x="155.84" y="700.08" width="10.21" height="2.26" fill="#fee293"/>
<rect x="166.01" y="700.08" width="10.21" height="2.26" fill="#fee598"/>
<rect x="176.17" y="700.08" width="10.21" height="2.26" fill="#f9fdcb"/>
<rect x="186.34" y="700.08" width="10.21" height="2.26" fill="#fdc780"/>
<rect x="23.7" y="702.29" width="10.21" height="2.26" fill="#e6f5ed"/>
<rect x="33.86" y="702.29" width="10.21" height="2.26" fill="#fcfec5"/>
<rect x="44.03" y="702.29" width="10.21" height="2.26" fill="#cee7f2"/>
<rect x="54.19" y="702.29" width="10.21" height="2.26" fill="#fdfec4"/>
<rect x="64.36" y="702.29" width="10.21" height="2.26" fill="#feefa7"/>
<rect x="74.52" y="702.29" width="10.21" height="2.26" fill="#eaf7e5"/>
<rect x="84.69" y="702.29" width="10.21" height="2.26" fill="#c9e4f0"/>
<rect x="94.85" y="702.29" width="10.21" height="2.26" fill="#feda8c"/>
<rect x="105.02" y="702.29" width="10.21" height="2.26" fill="#fdbc78"/>
<rect x="115.18" y="702.29" width="10.21" height="2.26" fill="#fed88b"/>
<rect x="125.35" y="702.29" width="10.21" height="2.26" fill="#fc9e64"/>
<rect x="135.51" y="702.29" width="10.21" height="2.26" fill="#fed98b"/>
<rect x="145.68" y="702.29" width="10.21" height="2.26" fill="#fdbc78"/>
<rect x="155.84" y="702.29" width="10.21" height="2.26" fill="#fdc67f"/>
<rect x="166.01" y="702.29" width="10.21" height="2.26" fill="#fc925c"/>
<rect x="176.17" y="702.29" width="10.21" height="2.26" fill="#fff0a9"/>
<rect x="186.34" y="702.29" width="10.21" height="2.26" fill="#f78052"/>
<rect x="23.7" y="704.51" width="10.21" height="2.26" fill="#e1f3f7"/>
<rect x="33.86" y="704.51" width="10.21" height="2.26" fill="#e6f5ed"/>
<rect x="44.03" y="704.51" width="10.21" height="2.26" fill="#fff1a9"/>
<rect x="54.19" y="704.51" width="10.21" height="2.26" fill="#e8f6e9"/>
<rect x="64.36" y="704.51" width="10.21" height="2.26" fill="#f0f9db"/>
<rect x="74.52" y="704.51" width="10.21" height="2.26" fill="#e8f6ea"/>
<rect x="84.69" y="704.51" width="10.21" height="2.26" fill="#e5f5ef"/>
<rect x="94.85" y="704.51" width="10.21" height="2.26" fill="#fdc17c"/>
<rect x="105.02" y="704.51" width="10.21" height="2.26" fill="#fff0a9"/>
<rect x="115.18" y="704.51" width="10.21" height="2.26" fill="#fdaa6d"/>
<rect x="125.35" y="704.51" width="10.21" height="2.26" fill="#fed689"/>
<rect x="135.51" y="704.51" width="10.21" height="2.26" fill="#fed085"/>
<rect x="145.68" y="704.51" width="10.21" height="2.26" fill="#fc9f65"/>
<rect x="155.84" y="704.51" width="10.21" height="2.26" fill="#fdca82"/>
<rect x="166.01" y="704.51" width="10.21" height="2.26" fill="#fee69a"/>
<rect x="176.17" y="704.51" width="10.21" height="2.26" fill="#ffffbf"/>
<rect x="186.34" y="704.51" width="10.21" height="2.26" fill="#f2734b"/>
<rect x="23.7" y="706.72" width="10.21" height="2.26" fill="#ecf8e2"/>
<rect x="33.86" y="706.72" width="10.21" height="2.26" fill="#edf8e0"/>
<rect x="44.03" y="706.72" width="10.21" height="2.26" fill="#f0f9db"/>
<rect x="54.19" y="706.72" width="10.21" height="2.26" fill="#e6f5ed"/>
<rect x="64.36" y="706.72" width="10.21" height="2.26" fill="#eff9dc"/>
<rect x="74.52" y="706.72" width="10.21" height="2.26" fill="#fdfec2"/>
<rect x="84.69" y="706.72" width="10.21" height="2.26" fill="#eaf7e6"/>
<rect x="94.85" y="706.72" width="10.21" height="2.26" fill="#fee293"/>
<rect x="105.02" y="706.72" width="10.21" height="2.26" fill="#fdbc78"/>
<rect x="115.18" y="706.72" width="10.21" height="2.26" fill="#fca066"/>
<rect x="125.35" y="706.72" width="10.21" height="2.26" fill="#fff2ac"/>
<rect x="135.51" y="706.72" width="10.21" height="2.26" fill="#fdb976"/>
<rect x="145.68" y="706.72" width="10.21" height="2.26" fill="#fed88b"/>
<rect x="155.84" y="706.72" width="10.21" height="2.26" fill="#fede8f"/>
<rect x="166.01" y="706.72" width="10.21" height="2.26" fill="#fdb473"/>
<rect x="176.17" y="706.72" width="10.21" height="2.26" fill="#feeea5"/>
<rect x="186.34" y="706.72" width="10.21" height="2.26" fill="#fda66a"/>
<rect x="23.7" y="708.93" width="10.21" height="2.26" fill="#f1f9da"/>
<rect x="33.86" y="708.93" width="10.21" height="2.26" fill="#fff9b6"/>
<rect x="44.03" y="708.93" width="10.21" height="2.26" fill="#e7f6ec"/>
<rect x="54.19" y="708.93" width="10.21" height="2.26" fill="#f7fcce"/>
<rect x="64.36" y="708.93" width="10.21" height="2.26" fill="#fff6b1"/>
<rect x="74.52" y="708.93" width="10.21" height="2.26" fill="#f3fad6"/>
<rect x="84.69" y="708.93" width="10.21" height="2.26" fill="#f0f9db"/>
<rect x="94.85" y="708.93" width="10.21" height="2.26" fill="#fdbe7a"/>
<rect x="105.02" y="708.93" width="10.21" height="2.26" fill="#fee497"/>
<rect x="115.18" y="708.93" width="10.21" height="2.26" fill="#feea9f"/>
<rect x="125.35" y="708.93" width="10.21" height="2.26" fill="#fdb674"/>
<rect x="135.51" y="708.93" width="10.21" height="2.26" fill="#fee99e"/>
<rect x="145.68" y="708.93" width="10.21" height="2.26" fill="#fdfec3"/>
<rect x="155.84" y="708.93" width="10.21" height="2.26" fill="#fff2ab"/>
<rect x="166.01" y="708.93" width="10.21" height="2.26" fill="#fee89c"/>
<rect x="176.17" y="708.93" width="10.21" height="2.26" fill="#f3fbd4"/>
<rect x="186.34" y="708.93" width="10.21" height="2.26" fill="#fdc880"/>
<rect x="23.7" y="711.15" width="10.21" height="2.26" fill="#e4f5f1"/>
<rect x="33.86" y="711.15" width="10.21" height="2.26" fill="#f5fbd1"/>
<rect x="44.03" y="711.15" width="10.21" height="2.26" fill="#eaf7e6"/>
<rect x="54.19" y="711.15" width="10.21" height="2.26" fill="#f7fcce"/>
<rect x="64.36" y="711.15" width="10.21" height="2.26" fill="#fee293"/>
<rect x="74.52" y="711.15" width="10.21" height="2.26" fill="#f8fccc"/>
<rect x="84.69" y="711.15" width="10.21" height="2.26" fill="#ebf7e5"/>
<rect x="94.85" y="711.15" width="10.21" height="2.26" fill="#fee497"/>
<rect x="105.02" y="711.15" width="10.21" height="2.26" fill="#fed388"/>
<rect x="115.18" y="711.15" width="10.21" height="2.26" fill="#fee99e"/>
<rect x="125.35" y="711.15" width="10.21" height="2.26" fill="#fedc8d"/>
<rect x="135.51" y="711.15" width="10.21" height="2.26" fill="#fee89b"/>
<rect x="145.68" y="711.15" width="10.21" height="2.26" fill="#fdb976"/>
<rect x="155.84" y="711.15" width="10.21" height="2.26" fill="#fc935d"/>
<rect x="166.01" y="711.15" width="10.21" height="2.26" fill="#fdbc78"/>
<rect x="176.17" y="711.15" width="10.21" height="2.26" fill="#fdc57e"/>
<rect x="186.34" y="711.15" width="10.21" height="2.26" fill="#fdb674"/>
<rect x="23.7" y="713.36" width="10.21" height="2.26" fill="#eff9dd"/>
<rect x="33.86" y="713.36" width="10.21" height="2.26" fill="#fffab7"/>
<rect x="44.03" y="713.36" width="10.21" height="2.26" fill="#e7f6eb"/>
<rect x="54.19" y="713.36" width="10.21" height="2.26" fill="#f3fad5"/>
<rect x="64.36" y="713.36" width="10.21" height="2.26" fill="#fdfec2"/>
<rect x="74.52" y="713.36" width="10.21" height="2.26" fill="#ebf7e3"/>
<rect x="84.69" y="713.36" width="10.21" height="2.26" fill="#fafdc8"/>
<rect x="94.85" y="713.36" width="10.21" height="2.26" fill="#fecb82"/>
<rect x="105.02" y="713.36" width="10.21" height="2.26" fill="#fdbd79"/>
<rect x="115.18" y="713.36" width="10.21" height="2.26" fill="#fee89b"/>
<rect x="125.35" y="713.36" width="10.21" height="2.26" fill="#feeba1"/>
<rect x="135.51" y="713.36" width="10.21" height="2.26" fill="#feeda4"/>
<rect x="145.68" y="713.36" width="10.21" height="2.26" fill="#fece84"/>
<rect x="155.84" y="713.36" width="10.21" height="2.26" fill="#fdc47e"/>
<rect x="166.01" y="713.36" width="10.21" height="2.26" fill="#fee395"/>
<rect x="176.17" y="713.36" width="10.21" height="2.26" fill="#fbfdc7"/>
<rect x="186.34" y="713.36" width="10.21" height="2.26" fill="#fc9c63"/>
<rect x="23.7" y="715.57" width="10.21" height="2.26" fill="#f4fbd4"/>
<rect x="33.86" y="715.57" width="10.21" height="2.26" fill="#fdfec4"/>
<rect x="44.03" y="715.57" width="10.21" height="2.26" fill="#feffc0"/>
<rect x="54.19" y="715.57" width="10.21" height="2.26" fill="#fffebd"/>
<rect x="64.36" y="715.57" width="10.21" height="2.26" fill="#f1fad8"/>
<rect x="74.52" y="715.57" width="10.21" height="2.26" fill="#f5fbd2"/>
<rect x="84.69" y="715.57" width="10.21" height="2.26" fill="#ebf7e4"/>
<rect x="94.85" y="715.57" width="10.21" height="2.26" fill="#feefa7"/>
<rect x="105.02" y="715.57" width="10.21" height="2.26" fill="#fee79a"/>
<rect x="115.18" y="715.57" width="10.21" height="2.26" fill="#fed78a"/>
<rect x="125.35" y="715.57" width="10.21" height="2.26" fill="#fdbe7a"/>
<rect x="135.51" y="715.57" width="10.21" height="2.26" fill="#fee69a"/>
<rect x="145.68" y="715.57" width="10.21" height="2.26" fill="#fee699"/>
<rect x="155.84" y="715.57" width="10.21" height="2.26" fill="#fee294"/>
<rect x="166.01" y="715.57" width="10.21" height="2.26" fill="#fee79a"/>
<rect x="176.17" y="715.57" width="10.21" height="2.26" fill="#f4fbd4"/>
<rect x="186.34" y="715.57" width="10.21" height="2.26" fill="#feeca2"/>
<rect x="23.7" y="717.79" width="10.21" height="2.26" fill="#eef8df"/>
<rect x="33.86" y="717.79" width="10.21" height="2.26" fill="#fffbb9"/>
<rect x="44.03" y="717.79" width="10.21" height="2.26" fill="#e7f6eb"/>
<rect x="54.19" y="717.79" width="10.21" height="2.26" fill="#e0f3f7"/>
<rect x="64.36" y="717.79" width="10.21" height="2.26" fill="#eff9dd"/>
<rect x="74.52" y="717.79" width="10.21" height="2.26" fill="#e6f5ed"/>
<rect x="84.69" y="717.79" width="10.21" height="2.26" fill="#d3eaf3"/>
<rect x="94.85" y="717.79" width="10.21" height="2.26" fill="#fee192"/>
<rect x="105.02" y="717.79" width="10.21" height="2.26" fill="#feeea6"/>
<rect x="115.18" y="717.79" width="10.21" height="2.26" fill="#fee394"/>
<rect x="125.35" y="717.79" width="10.21" height="2.26" fill="#fee69a"/>
<rect x="135.51" y="717.79" width="10.21" height="2.26" fill="#fecc83"/>
<rect x="145.68" y="717.79" width="10.21" height="2.26" fill="#fece84"/>
<rect x="155.84" y="717.79" width="10.21" height="2.26" fill="#fca065"/>
<rect x="166.01" y="717.79" width="10.21" height="2.26" fill="#fdb875"/>
<rect x="176.17" y="717.79" width="10.21" height="2.26" fill="#feeea6"/>
<rect x="186.34" y="717.79" width="10.21" height="2.26" fill="#fff3ad"/>
<rect x="23.7" y="383.8" width="10.21" height="3.8" fill="#dd44cc"/>
<rect x="33.86" y="383.8" width="10.21" height="3.8" fill="#dd44cc"/>
<rect x="44.03" y="383.8" width="10.21" height="3.8" fill="#dd44cc"/>
<rect x="54.19" y="383.8" width="10.21" height="3.8" fill="#dd44cc"/>
<rect x="64.36" y="383.8" width="10.21" height="3.8" fill="#dd44cc"/>
<rect x="74.52" y="383.8" width="10.21" height="3.8" fill="#dd44cc"/>
<rect x="84.69" y="383.8" width="10.21" height="3.8" fill="#dd44cc"/>
<rect x="94.85" y="383.8" width="10.21" height="3.8" fill="#bde14d"/>
<rect x="105.02" y="383.8" width="10.21" height="3.8" fill="#bde14d"/>
<rect x="115.18" y="383.8" width="10.21" height="3.8" fill="#44bcdc"/>
<rect x="125.35" y="383.8" width="10.21" height="3.8" fill="#44bcdc"/>
<rect x="135.51" y="383.8" width="10.21" height="3.8" fill="#44bcdc"/>
<rect x="145.68" y="383.8" width="10.21" height="3.8" fill="#44bcdc"/>
<rect x="155.84" y="383.8" width="10.21" height="3.8" fill="#bde14d"/>
<rect x="166.01" y="383.8" width="10.21" height="3.8" fill="#bde14d"/>
<rect x="176.17" y="383.8" width="10.21" height="3.8" fill="#44bcdc"/>
<rect x="186.34" y="383.8" width="10.21" height="3.8" fill="#44bcdc"/>
<path d="M28.78 383.6V372.2H38.95V383.6" stroke="#444" stroke-width="0.8" fill="none"/>
<path d="M33.86 372.2V370.8H49.11V383.6" stroke="#444" stroke-width="0.8" fill="none"/>
<path d="M59.28 383.6V374.7H69.44V383.6" stroke="#444" stroke-width="0.8" fill="none"/>
<path d="M64.36 374.7V373.8H79.61V383.6" stroke="#444" stroke-width="0.8" fill="none"/>
<path d="M71.98 373.8V372.7H89.77V383.6" stroke="#444" stroke-width="0.8" fill="none"/>
<path d="M41.49 370.8V369.2H80.88V372.7" stroke="#444" stroke-width="0.8" fill="none"/>
<path d="M99.94 383.6V379.6H110.1V383.6" stroke="#444" stroke-width="0.8" fill="none"/>
<path d="M105.02 379.6V375.8H120.26V383.6" stroke="#444" stroke-width="0.8" fill="none"/>
<path d="M140.59 383.6V375.2H150.76V383.6" stroke="#444" stroke-width="0.8" fill="none"/>
<path d="M130.43 383.6V373.9H145.68V375.2" stroke="#444" stroke-width="0.8" fill="none"/>
<path d="M160.92 383.6V376.5H171.09V383.6" stroke="#444" stroke-width="0.8" fill="none"/>
<path d="M138.05 373.9V373.2H166.01V376.5" stroke="#444" stroke-width="0.8" fill="none"/>
<path d="M112.64 375.8V372.3H152.03V373.2" stroke="#444" stroke-width="0.8" fill="none"/>
<path d="M132.34 372.3V371.4H181.25V383.6" stroke="#444" stroke-width="0.8" fill="none"/>
<path d="M156.79 371.4V370.1H191.42V383.6" stroke="#444" stroke-width="0.8" fill="none"/>
<path d="M61.18 369.2V361.1H174.11V370.1" stroke="#444" stroke-width="0.8" fill="none"/>
<rect x="196.5" y="388" width="4.4" height="332" fill="#a2a2a2"/>
<path d="M200.6 391.32H200.96V393.53H200.6" stroke="#3a3a3a" stroke-width="0.6" fill="none"/>
<path d="M200.6 389.11H201.66V392.43H200.96" stroke="#3a3a3a" stroke-width="0.6" fill="none"/>
<path d="M200.6 397.96H201.27V400.17H200.6" stroke="#3a3a3a" stroke-width="0.6" fill="none"/>
<path d="M200.6 395.75H202.12V399.07H201.27" stroke="#3a3a3a" stroke-width="0.6" fill="none"/>
<path d="M201.66 390.77H204.39V397.41H202.12" stroke="#3a3a3a" stroke-width="0.6" fill="none"/>
<path d="M200.6 406.81H200.92V409.03H200.6" stroke="#3a3a3a" stroke-width="0.6" fill="none"/>
<path d="M200.6 411.24H202.53V413.45H200.6" stroke="#3a3a3a" stroke-width="0.6" fill="none"/>
<path d="M200.92 407.92H202.78V412.35H202.53" stroke="#3a3a3a" stroke-width="0.6" fill="none"/>
<path d="M200.6 404.6H204.19V410.13H202.78" stroke="#3a3a3a" stroke-width="0.6" fill="none"/>
<path d="M200.6 402.39H205.43V407.37H204.19" stroke="#3a3a3a" stroke-width="0.6" fill="none"/>
<path d="M204.39 394.09H205.65V404.88H205.43" stroke="#3a3a3a" stroke-width="0.6" fill="none"/>
<path d="M200.6 415.67H202.28V417.88H200.6" stroke="#3a3a3a" stroke-width="0.6" fill="none"/>
<path d="M200.6 422.31H201.05V424.52H200.6" stroke="#3a3a3a" stroke-width="0.6" fill="none"/>
<path d="M200.6 420.09H204.09V423.41H201.05" stroke="#3a3a3a" stroke-width="0.6" fill="none"/>
<path d="M202.28 416.77H205.86V421.75H204.09" stroke="#3a3a3a" stroke-width="0.6" fill="none"/>
<path d="M200.6 433.37H201.53V435.59H200.6" stroke="#3a3a3a" stroke-width="0.6" fill="none"/>
<path d="M200.6 431.16H203.7V434.48H201.53" stroke="#3a3a3a" stroke-width="0.6" fill="none"/>
<path d="M200.6 428.95H203.99V432.82H203.7" stroke="#3a3a3a" stroke-width="0.6" fill="none"/>
<path d="M200.6 426.73H206.19V430.88H203.99" stroke="#3a3a3a" stroke-width="0.6" fill="none"/>
<path d="M205.86 419.26H207.45V428.81H206.19" stroke="#3a3a3a" stroke-width="0.6" fill="none"/>
<path d="M205.65 399.48H208.22V424.04H207.45" stroke="#3a3a3a" stroke-width="0.6" fill="none"/>
<path d="M200.6 437.8H205.32V440.01H200.6" stroke="#3a3a3a" stroke-width="0.6" fill="none"/>
<path d="M200.6 442.23H204.29V444.44H200.6" stroke="#3a3a3a" stroke-width="0.6" fill="none"/>
<path d="M200.6 448.87H201.33V451.08H200.6" stroke="#3a3a3a" stroke-width="0.6" fill="none"/>
<path d="M200.6 446.65H204.49V449.97H201.33" stroke="#3a3a3a" stroke-width="0.6" fill="none"/>
<path d="M204.29 443.33H206.75V448.31H204.49" stroke="#3a3a3a" stroke-width="0.6" fill="none"/>
<path d="M205.32 438.91H207.21V445.82H206.75" stroke="#3a3a3a" stroke-width="0.6" fill="none"/>
<path d="M200.6 453.29H203.42V455.51H200.6" stroke="#3a3a3a" stroke-width="0.6" fill="none"/>
<path d="M200.6 457.72H202.2V459.93H200.6" stroke="#3a3a3a" stroke-width="0.6" fill="none"/>
<path d="M200.6 464.36H201.59V466.57H200.6" stroke="#3a3a3a" stroke-width="0.6" fill="none"/>
<path d="M200.6 462.15H203.05V465.47H201.59" stroke="#3a3a3a" stroke-width="0.6" fill="none"/>
<path d="M202.2 458.83H203.89V463.81H203.05" stroke="#3a3a3a" stroke-width="0.6" fill="none"/>
<path d="M203.42 454.4H205.97V461.32H203.89" stroke="#3a3a3a" stroke-width="0.6" fill="none"/>
<path d="M200.6 471H201.39V473.21H200.6" stroke="#3a3a3a" stroke-width="0.6" fill="none"/>
<path d="M200.6 468.79H202.36V472.11H201.39" stroke="#3a3a3a" stroke-width="0.6" fill="none"/>
<path d="M200.6 479.85H201.46V482.07H200.6" stroke="#3a3a3a" stroke-width="0.6" fill="none"/>
<path d="M200.6 477.64H201.74V480.96H201.46" stroke="#3a3a3a" stroke-width="0.6" fill="none"/>
<path d="M200.6 486.49H201.21V488.71H200.6" stroke="#3a3a3a" stroke-width="0.6" fill="none"/>
<path d="M200.6 484.28H202.04V487.6H201.21" stroke="#3a3a3a" stroke-width="0.6" fill="none"/>
<path d="M201.74 479.3H202.61V485.94H202.04" stroke="#3a3a3a" stroke-width="0.6" fill="none"/>
<path d="M200.6 497.56H200.9V499.77H200.6" stroke="#3a3a3a" stroke-width="0.6" fill="none"/>
<path d="M200.6 495.35H201.15V498.67H200.9" stroke="#3a3a3a" stroke-width="0.6" fill="none"/>
<path d="M200.6 493.13H202.44V497.01H201.15" stroke="#3a3a3a" stroke-width="0.6" fill="none"/>
<path d="M200.6 490.92H202.96V495.07H202.44" stroke="#3a3a3a" stroke-width="0.6" fill="none"/>
<path d="M202.61 482.62H203.8V493H202.96" stroke="#3a3a3a" stroke-width="0.6" fill="none"/>
<path d="M200.6 475.43H204.9V487.81H203.8" stroke="#3a3a3a" stroke-width="0.6" fill="none"/>
<path d="M202.36 470.45H205.11V481.62H204.9" stroke="#3a3a3a" stroke-width="0.6" fill="none"/>
<path d="M200.6 501.99H201.1V504.2H200.6" stroke="#3a3a3a" stroke-width="0.6" fill="none"/>
<path d="M200.6 510.84H201.81V513.05H200.6" stroke="#3a3a3a" stroke-width="0.6" fill="none"/>
<path d="M200.6 508.63H204.7V511.95H201.81" stroke="#3a3a3a" stroke-width="0.6" fill="none"/>
<path d="M200.6 506.41H205.22V510.29H204.7" stroke="#3a3a3a" stroke-width="0.6" fill="none"/>
<path d="M201.1 503.09H205.75V508.35H205.22" stroke="#3a3a3a" stroke-width="0.6" fill="none"/>
<path d="M205.11 476.03H206.08V505.72H205.75" stroke="#3a3a3a" stroke-width="0.6" fill="none"/>
<path d="M205.97 457.86H206.53V490.88H206.08" stroke="#3a3a3a" stroke-width="0.6" fill="none"/>
<path d="M200.6 517.48H203.14V519.69H200.6" stroke="#3a3a3a" stroke-width="0.6" fill="none"/>
<path d="M200.6 515.27H204.59V518.59H203.14" stroke="#3a3a3a" stroke-width="0.6" fill="none"/>
<path d="M200.6 521.91H205.54V524.12H200.6" stroke="#3a3a3a" stroke-width="0.6" fill="none"/>
<path d="M200.6 528.55H203.23V530.76H200.6" stroke="#3a3a3a" stroke-width="0.6" fill="none"/>
<path d="M200.6 532.97H203.51V535.19H200.6" stroke="#3a3a3a" stroke-width="0.6" fill="none"/>
<path d="M203.23 529.65H204.8V534.08H203.51" stroke="#3a3a3a" stroke-width="0.6" fill="none"/>
<path d="M200.6 539.61H201V541.83H200.6" stroke="#3a3a3a" stroke-width="0.6" fill="none"/>
<path d="M200.6 537.4H202.7V540.72H201" stroke="#3a3a3a" stroke-width="0.6" fill="none"/>
<path d="M200.6 548.47H201.88V550.68H200.6" stroke="#3a3a3a" stroke-width="0.6" fill="none"/>
<path d="M200.6 546.25H201.96V549.57H201.88" stroke="#3a3a3a" stroke-width="0.6" fill="none"/>
<path d="M200.6 544.04H202.87V547.91H201.96" stroke="#3a3a3a" stroke-width="0.6" fill="none"/>
<path d="M202.7 539.06H205.01V545.98H202.87" stroke="#3a3a3a" stroke-width="0.6" fill="none"/>
<path d="M204.8 531.87H206.3V542.52H205.01" stroke="#3a3a3a" stroke-width="0.6" fill="none"/>
<path d="M200.6 526.33H206.64V537.19H206.3" stroke="#3a3a3a" stroke-width="0.6" fill="none"/>
<path d="M205.54 523.01H206.87V531.76H206.64" stroke="#3a3a3a" stroke-width="0.6" fill="none"/>
<path d="M204.59 516.93H206.98V527.39H206.87" stroke="#3a3a3a" stroke-width="0.6" fill="none"/>
<path d="M206.53 474.37H207.33V522.16H206.98" stroke="#3a3a3a" stroke-width="0.6" fill="none"/>
<path d="M207.21 442.37H210.93V498.26H207.33" stroke="#3a3a3a" stroke-width="0.6" fill="none"/>
<path d="M200.6 559.53H203.32V561.75H200.6" stroke="#3a3a3a" stroke-width="0.6" fill="none"/>
<path d="M200.6 563.96H203.61V566.17H200.6" stroke="#3a3a3a" stroke-width="0.6" fill="none"/>
<path d="M203.32 560.64H206.42V565.07H203.61" stroke="#3a3a3a" stroke-width="0.6" fill="none"/>
<path d="M200.6 557.32H207.1V562.85H206.42" stroke="#3a3a3a" stroke-width="0.6" fill="none"/>
<path d="M200.6 555.11H209.58V560.09H207.1" stroke="#3a3a3a" stroke-width="0.6" fill="none"/>
<path d="M200.6 552.89H212.29V557.6H209.58" stroke="#3a3a3a" stroke-width="0.6" fill="none"/>
<path d="M210.93 470.31H213.64V555.25H212.29" stroke="#3a3a3a" stroke-width="0.6" fill="none"/>
<path d="M208.22 411.76H215V512.78H213.64" stroke="#3a3a3a" stroke-width="0.6" fill="none"/>
<path d="M200.6 572.81H204.73V575.03H200.6" stroke="#3a3a3a" stroke-width="0.6" fill="none"/>
<path d="M200.6 570.6H206.78V573.92H204.73" stroke="#3a3a3a" stroke-width="0.6" fill="none"/>
<path d="M200.6 577.24H203.34V579.45H200.6" stroke="#3a3a3a" stroke-width="0.6" fill="none"/>
<path d="M200.6 581.67H205.6V583.88H200.6" stroke="#3a3a3a" stroke-width="0.6" fill="none"/>
<path d="M203.34 578.35H207.05V582.77H205.6" stroke="#3a3a3a" stroke-width="0.6" fill="none"/>
<path d="M200.6 588.31H205.35V590.52H200.6" stroke="#3a3a3a" stroke-width="0.6" fill="none"/>
<path d="M200.6 592.73H201.21V594.95H200.6" stroke="#3a3a3a" stroke-width="0.6" fill="none"/>
<path d="M200.6 597.16H200.93V599.37H200.6" stroke="#3a3a3a" stroke-width="0.6" fill="none"/>
<path d="M200.6 603.8H201.15V606.01H200.6" stroke="#3a3a3a" stroke-width="0.6" fill="none"/>
<path d="M200.6 601.59H202.31V604.91H201.15" stroke="#3a3a3a" stroke-width="0.6" fill="none"/>
<path d="M200.93 598.27H203.45V603.25H202.31" stroke="#3a3a3a" stroke-width="0.6" fill="none"/>
<path d="M200.6 610.44H201.28V612.65H200.6" stroke="#3a3a3a" stroke-width="0.6" fill="none"/>
<path d="M200.6 608.23H202.51V611.55H201.28" stroke="#3a3a3a" stroke-width="0.6" fill="none"/>
<path d="M200.6 614.87H202.21V617.08H200.6" stroke="#3a3a3a" stroke-width="0.6" fill="none"/>
<path d="M200.6 621.51H200.9V623.72H200.6" stroke="#3a3a3a" stroke-width="0.6" fill="none"/>
<path d="M200.6 619.29H202.91V622.61H200.9" stroke="#3a3a3a" stroke-width="0.6" fill="none"/>
<path d="M202.21 615.97H203.79V620.95H202.91" stroke="#3a3a3a" stroke-width="0.6" fill="none"/>
<path d="M202.51 609.89H204.37V618.46H203.79" stroke="#3a3a3a" stroke-width="0.6" fill="none"/>
<path d="M203.45 600.76H204.61V614.17H204.37" stroke="#3a3a3a" stroke-width="0.6" fill="none"/>
<path d="M201.21 593.84H204.85V607.47H204.61" stroke="#3a3a3a" stroke-width="0.6" fill="none"/>
<path d="M200.6 628.15H202.03V630.36H200.6" stroke="#3a3a3a" stroke-width="0.6" fill="none"/>
<path d="M200.6 625.93H202.41V629.25H202.03" stroke="#3a3a3a" stroke-width="0.6" fill="none"/>
<path d="M200.6 632.57H201.94V634.79H200.6" stroke="#3a3a3a" stroke-width="0.6" fill="none"/>
<path d="M200.6 639.21H200.98V641.43H200.6" stroke="#3a3a3a" stroke-width="0.6" fill="none"/>
<path d="M200.6 637H203.02V640.32H200.98" stroke="#3a3a3a" stroke-width="0.6" fill="none"/>
<path d="M201.94 633.68H203.13V638.66H203.02" stroke="#3a3a3a" stroke-width="0.6" fill="none"/>
<path d="M202.41 627.59H205.86V636.17H203.13" stroke="#3a3a3a" stroke-width="0.6" fill="none"/>
<path d="M204.85 600.65H205.99V631.88H205.86" stroke="#3a3a3a" stroke-width="0.6" fill="none"/>
<path d="M200.6 645.85H202.61V648.07H200.6" stroke="#3a3a3a" stroke-width="0.6" fill="none"/>
<path d="M200.6 643.64H203.9V646.96H202.61" stroke="#3a3a3a" stroke-width="0.6" fill="none"/>
<path d="M200.6 650.28H202.81V652.49H200.6" stroke="#3a3a3a" stroke-width="0.6" fill="none"/>
<path d="M200.6 654.71H201.76V656.92H200.6" stroke="#3a3a3a" stroke-width="0.6" fill="none"/>
<path d="M200.6 661.35H201.09V663.56H200.6" stroke="#3a3a3a" stroke-width="0.6" fill="none"/>
<path d="M200.6 659.13H203.56V662.45H201.09" stroke="#3a3a3a" stroke-width="0.6" fill="none"/>
<path d="M201.76 655.81H204.25V660.79H203.56" stroke="#3a3a3a" stroke-width="0.6" fill="none"/>
<path d="M202.81 651.39H204.98V658.3H204.25" stroke="#3a3a3a" stroke-width="0.6" fill="none"/>
<path d="M203.9 645.3H206.12V654.85H204.98" stroke="#3a3a3a" stroke-width="0.6" fill="none"/>
<path d="M205.99 616.27H206.38V650.07H206.12" stroke="#3a3a3a" stroke-width="0.6" fill="none"/>
<path d="M200.6 667.99H201.51V670.2H200.6" stroke="#3a3a3a" stroke-width="0.6" fill="none"/>
<path d="M200.6 672.41H201.03V674.63H200.6" stroke="#3a3a3a" stroke-width="0.6" fill="none"/>
<path d="M200.6 676.84H201.68V679.05H200.6" stroke="#3a3a3a" stroke-width="0.6" fill="none"/>
<path d="M201.03 673.52H202.71V677.95H201.68" stroke="#3a3a3a" stroke-width="0.6" fill="none"/>
<path d="M200.6 683.48H201.59V685.69H200.6" stroke="#3a3a3a" stroke-width="0.6" fill="none"/>
<path d="M200.6 681.27H203.68V684.59H201.59" stroke="#3a3a3a" stroke-width="0.6" fill="none"/>
<path d="M202.71 675.73H204.49V682.93H203.68" stroke="#3a3a3a" stroke-width="0.6" fill="none"/>
<path d="M201.51 669.09H205.22V679.33H204.49" stroke="#3a3a3a" stroke-width="0.6" fill="none"/>
<path d="M200.6 687.91H201.85V690.12H200.6" stroke="#3a3a3a" stroke-width="0.6" fill="none"/>
<path d="M200.6 692.33H201.36V694.55H200.6" stroke="#3a3a3a" stroke-width="0.6" fill="none"/>
<path d="M200.6 698.97H201.43V701.19H200.6" stroke="#3a3a3a" stroke-width="0.6" fill="none"/>
<path d="M200.6 696.76H202.12V700.08H201.43" stroke="#3a3a3a" stroke-width="0.6" fill="none"/>
<path d="M201.36 693.44H204.13V698.42H202.12" stroke="#3a3a3a" stroke-width="0.6" fill="none"/>
<path d="M201.85 689.01H205.73V695.93H204.13" stroke="#3a3a3a" stroke-width="0.6" fill="none"/>
<path d="M205.22 674.21H206.25V692.47H205.73" stroke="#3a3a3a" stroke-width="0.6" fill="none"/>
<path d="M200.6 665.77H206.51V683.34H206.25" stroke="#3a3a3a" stroke-width="0.6" fill="none"/>
<path d="M206.38 633.17H206.64V674.56H206.51" stroke="#3a3a3a" stroke-width="0.6" fill="none"/>
<path d="M205.35 589.41H206.91V653.86H206.64" stroke="#3a3a3a" stroke-width="0.6" fill="none"/>
<path d="M200.6 705.61H205.1V707.83H200.6" stroke="#3a3a3a" stroke-width="0.6" fill="none"/>
<path d="M200.6 703.4H207.18V706.72H205.1" stroke="#3a3a3a" stroke-width="0.6" fill="none"/>
<path d="M206.91 621.64H207.32V705.06H207.18" stroke="#3a3a3a" stroke-width="0.6" fill="none"/>
<path d="M200.6 586.09H207.46V663.35H207.32" stroke="#3a3a3a" stroke-width="0.6" fill="none"/>
<path d="M200.6 712.25H203.23V714.47H200.6" stroke="#3a3a3a" stroke-width="0.6" fill="none"/>
<path d="M200.6 716.68H204.02V718.89H200.6" stroke="#3a3a3a" stroke-width="0.6" fill="none"/>
<path d="M203.23 713.36H205.47V717.79H204.02" stroke="#3a3a3a" stroke-width="0.6" fill="none"/>
<path d="M200.6 710.04H208.6V715.57H205.47" stroke="#3a3a3a" stroke-width="0.6" fill="none"/>
<path d="M207.46 624.72H210.2V712.81H208.6" stroke="#3a3a3a" stroke-width="0.6" fill="none"/>
<path d="M207.05 580.56H211.8V668.76H210.2" stroke="#3a3a3a" stroke-width="0.6" fill="none"/>
<path d="M206.78 572.26H213.4V624.66H211.8" stroke="#3a3a3a" stroke-width="0.6" fill="none"/>
<path d="M200.6 568.39H215V598.46H213.4" stroke="#3a3a3a" stroke-width="0.6" fill="none"/>
<path d="M215 462.27H218.6V583.42H215" stroke="#555" stroke-width="0.7" fill="none"/>
<text x="199.6" y="351.9" font-size="8.5" font-weight="bold" fill="#000">Class</text>
<rect x="200" y="355" width="5.7" height="5.7" fill="#6cc65a"/>
<text x="206.9" y="360.7" font-size="8.3" fill="#000">Chronic CMV</text>
<rect x="200" y="363.75" width="5.7" height="5.7" fill="#4ea6e8"/>
<text x="206.9" y="369.45" font-size="8.3" fill="#000">Chronic HIV</text>
<rect x="200" y="372.5" width="5.7" height="5.7" fill="#e8829e"/>
<text x="206.9" y="378.2" font-size="8.3" fill="#000">Primary HIV</text>
<rect x="234.2" y="393.5" width="7.8" height="1.61" fill="#d9352a"/>
<rect x="234.2" y="395.01" width="7.8" height="1.61" fill="#dd3e2f"/>
<rect x="234.2" y="396.52" width="7.8" height="1.61" fill="#e04734"/>
<rect x="234.2" y="398.04" width="7.8" height="1.61" fill="#e45139"/>
<rect x="234.2" y="399.55" width="7.8" height="1.61" fill="#e85a3d"/>
<rect x="234.2" y="401.06" width="7.8" height="1.61" fill="#eb6342"/>
<rect x="234.2" y="402.57" width="7.8" height="1.61" fill="#ef6c47"/>
<rect x="234.2" y="404.08" width="7.8" height="1.61" fill="#f3764c"/>
<rect x="234.2" y="405.59" width="7.8" height="1.61" fill="#f67f52"/>
<rect x="234.2" y="407.11" width="7.8" height="1.61" fill="#fa8856"/>
<rect x="234.2" y="408.62" width="7.8" height="1.61" fill="#fc915c"/>
<rect x="234.2" y="410.13" width="7.8" height="1.61" fill="#fc9961"/>
<rect x="234.2" y="411.64" width="7.8" height="1.61" fill="#fca267"/>
<rect x="234.2" y="413.15" width="7.8" height="1.61" fill="#fdaa6c"/>
<rect x="234.2" y="414.66" width="7.8" height="1.61" fill="#fdb272"/>
<rect x="234.2" y="416.18" width="7.8" height="1.61" fill="#fdbb77"/>
<rect x="234.2" y="417.69" width="7.8" height="1.61" fill="#fdc37d"/>
<rect x="234.2" y="419.2" width="7.8" height="1.61" fill="#fecb82"/>
<rect x="234.2" y="420.71" width="7.8" height="1.61" fill="#fed488"/>
<rect x="234.2" y="422.22" width="7.8" height="1.61" fill="#fedc8d"/>
<rect x="234.2" y="423.73" width="7.8" height="1.61" fill="#fee292"/>
<rect x="234.2" y="425.25" width="7.8" height="1.61" fill="#fee597"/>
<rect x="234.2" y="426.76" width="7.8" height="1.61" fill="#fee89c"/>
<rect x="234.2" y="428.27" width="7.8" height="1.61" fill="#feeba0"/>
<rect x="234.2" y="429.78" width="7.8" height="1.61" fill="#feeea5"/>
<rect x="234.2" y="431.29" width="7.8" height="1.61" fill="#fff1aa"/>
<rect x="234.2" y="432.8" width="7.8" height="1.61" fill="#fff4af"/>
<rect x="234.2" y="434.31" width="7.8" height="1.61" fill="#fff7b3"/>
<rect x="234.2" y="435.83" width="7.8" height="1.61" fill="#fffab8"/>
<rect x="234.2" y="437.34" width="7.8" height="1.61" fill="#fffdbd"/>
<rect x="234.2" y="438.85" width="7.8" height="1.61" fill="#fdfec2"/>
<rect x="234.2" y="440.36" width="7.8" height="1.61" fill="#fafdc8"/>
<rect x="234.2" y="441.87" width="7.8" height="1.61" fill="#f7fccd"/>
<rect x="234.2" y="443.38" width="7.8" height="1.61" fill="#f4fbd3"/>
<rect x="234.2" y="444.9" width="7.8" height="1.61" fill="#f1fad9"/>
<rect x="234.2" y="446.41" width="7.8" height="1.61" fill="#eef8de"/>
<rect x="234.2" y="447.92" width="7.8" height="1.61" fill="#ebf7e4"/>
<rect x="234.2" y="449.43" width="7.8" height="1.61" fill="#e8f6ea"/>
<rect x="234.2" y="450.94" width="7.8" height="1.61" fill="#e5f5ef"/>
<rect x="234.2" y="452.45" width="7.8" height="1.61" fill="#e2f4f5"/>
<rect x="234.2" y="453.97" width="7.8" height="1.61" fill="#dcf0f7"/>
<rect x="234.2" y="455.48" width="7.8" height="1.61" fill="#d4ebf4"/>
<rect x="234.2" y="456.99" width="7.8" height="1.61" fill="#cce6f1"/>
<rect x="234.2" y="458.5" width="7.8" height="1.61" fill="#c4e1ee"/>
<rect x="234.2" y="460.01" width="7.8" height="1.61" fill="#bcdceb"/>
<rect x="234.2" y="461.52" width="7.8" height="1.61" fill="#b5d6e8"/>
<rect x="234.2" y="463.04" width="7.8" height="1.61" fill="#add1e5"/>
<rect x="234.2" y="464.55" width="7.8" height="1.61" fill="#a5cce2"/>
<rect x="234.2" y="466.06" width="7.8" height="1.61" fill="#9dc7df"/>
<rect x="234.2" y="467.57" width="7.8" height="1.61" fill="#95c2dc"/>
<rect x="234.2" y="469.08" width="7.8" height="1.61" fill="#8dbbd9"/>
<rect x="234.2" y="470.6" width="7.8" height="1.61" fill="#86b4d5"/>
<rect x="234.2" y="472.11" width="7.8" height="1.61" fill="#7eacd1"/>
<rect x="234.2" y="473.62" width="7.8" height="1.61" fill="#76a5cd"/>
<rect x="234.2" y="475.13" width="7.8" height="1.61" fill="#6f9ec9"/>
<rect x="234.2" y="476.64" width="7.8" height="1.61" fill="#6796c6"/>
<rect x="234.2" y="478.15" width="7.8" height="1.61" fill="#608fc2"/>
<rect x="234.2" y="479.66" width="7.8" height="1.61" fill="#5888be"/>
<rect x="234.2" y="481.18" width="7.8" height="1.61" fill="#5080ba"/>
<rect x="234.2" y="482.69" width="7.8" height="1.61" fill="#4979b6"/>
<text x="243.8" y="401.1" font-size="8" fill="#000">3</text>
<text x="243.8" y="414.5" font-size="8" fill="#000">2</text>
<text x="243.8" y="428.4" font-size="8" fill="#000">1</text>
<text x="243.8" y="441.8" font-size="8" fill="#000">0</text>
<text x="243.8" y="455.8" font-size="8" fill="#000">−1</text>
<text x="243.8" y="469.3" font-size="8" fill="#000">−2</text>
<text x="243.8" y="482.8" font-size="8" fill="#000">−3</text>
<text x="239.4" y="507.2" font-size="12.5" font-weight="bold" fill="#000">H</text>
<text x="298.5" y="503.8" font-size="7.3" font-weight="bold" text-anchor="middle" fill="#000">Protein Ubiquitination</text>
<text x="298.5" y="512.3" font-size="7.3" font-weight="bold" text-anchor="middle" fill="#000">p-value = 0.00043</text>
<text x="425.6" y="504.4" font-size="7.3" font-weight="bold" text-anchor="middle" fill="#000">mTOR signaling</text>
<text x="425.6" y="512.9" font-size="7.3" font-weight="bold" text-anchor="middle" fill="#000">p-value = 0.0426</text>
<rect x="263.1" y="549.6" width="20.7" height="4.4" fill="#e64ccb"/>
<rect x="283.8" y="549.6" width="21.6" height="4.4" fill="#4dbfe6"/>
<rect x="305.4" y="549.6" width="21.6" height="4.4" fill="#c2e04e"/>
<rect x="263.1" y="555.5" width="20.7" height="6.75" fill="#d8302a"/>
<rect x="283.8" y="555.5" width="21.6" height="6.75" fill="#739fcf"/>
<rect x="305.4" y="555.5" width="21.6" height="6.75" fill="#eef3dc"/>
<text x="328.3" y="561.14" font-size="6.6" fill="#000">PSMB9</text>
<rect x="263.1" y="562.25" width="20.7" height="6.75" fill="#d8302a"/>
<rect x="283.8" y="562.25" width="21.6" height="6.75" fill="#739fcf"/>
<rect x="305.4" y="562.25" width="21.6" height="6.75" fill="#f3f6d4"/>
<text x="328.3" y="567.89" font-size="6.6" fill="#000">PSMB8</text>
<rect x="263.1" y="568.99" width="20.7" height="6.75" fill="#d8302a"/>
<rect x="283.8" y="568.99" width="21.6" height="6.75" fill="#8db4da"/>
<rect x="305.4" y="568.99" width="21.6" height="6.75" fill="#e2edf2"/>
<text x="328.3" y="574.63" font-size="6.6" fill="#000">PSMC3</text>
<rect x="263.1" y="575.74" width="20.7" height="6.75" fill="#d8302a"/>
<rect x="283.8" y="575.74" width="21.6" height="6.75" fill="#8db4da"/>
<rect x="305.4" y="575.74" width="21.6" height="6.75" fill="#dce9f2"/>
<text x="328.3" y="581.38" font-size="6.6" fill="#000">ANAPC11</text>
<rect x="263.1" y="582.48" width="20.7" height="6.75" fill="#f8aa6c"/>
<rect x="283.8" y="582.48" width="21.6" height="6.75" fill="#3f6db5"/>
<rect x="305.4" y="582.48" width="21.6" height="6.75" fill="#f8aa6c"/>
<text x="328.3" y="588.12" font-size="6.6" fill="#000">PSMC4</text>
<rect x="263.1" y="589.23" width="20.7" height="6.75" fill="#f8aa6c"/>
<rect x="283.8" y="589.23" width="21.6" height="6.75" fill="#3f6db5"/>
<rect x="305.4" y="589.23" width="21.6" height="6.75" fill="#f8aa6c"/>
<text x="328.3" y="594.87" font-size="6.6" fill="#000">UBE2F</text>
<rect x="263.1" y="595.97" width="20.7" height="6.75" fill="#d8302a"/>
<rect x="283.8" y="595.97" width="21.6" height="6.75" fill="#d3e6f1"/>
<rect x="305.4" y="595.97" width="21.6" height="6.75" fill="#8fb8dc"/>
<text x="328.3" y="601.61" font-size="6.6" fill="#000">UBE2G2</text>
<rect x="263.1" y="602.72" width="20.7" height="6.75" fill="#d8302a"/>
<rect x="283.8" y="602.72" width="21.6" height="6.75" fill="#d3e6f1"/>
<rect x="305.4" y="602.72" width="21.6" height="6.75" fill="#8fb8dc"/>
<text x="328.3" y="608.36" font-size="6.6" fill="#000">TCEB2</text>
<rect x="263.1" y="609.46" width="20.7" height="6.75" fill="#d8302a"/>
<rect x="283.8" y="609.46" width="21.6" height="6.75" fill="#d3e6f1"/>
<rect x="305.4" y="609.46" width="21.6" height="6.75" fill="#8fb8dc"/>
<text x="328.3" y="615.1" font-size="6.6" fill="#000">CDC20</text>
<rect x="263.1" y="616.21" width="20.7" height="6.75" fill="#d8302a"/>
<rect x="283.8" y="616.21" width="21.6" height="6.75" fill="#d3e6f1"/>
<rect x="305.4" y="616.21" width="21.6" height="6.75" fill="#8fb8dc"/>
<text x="328.3" y="621.85" font-size="6.6" fill="#000">PSMB3</text>
<rect x="263.1" y="622.95" width="20.7" height="6.75" fill="#d8302a"/>
<rect x="283.8" y="622.95" width="21.6" height="6.75" fill="#d3e6f1"/>
<rect x="305.4" y="622.95" width="21.6" height="6.75" fill="#8fb8dc"/>
<text x="328.3" y="628.59" font-size="6.6" fill="#000">PSMB2</text>
<rect x="263.1" y="629.7" width="20.7" height="6.75" fill="#d8302a"/>
<rect x="283.8" y="629.7" width="21.6" height="6.75" fill="#d3e6f1"/>
<rect x="305.4" y="629.7" width="21.6" height="6.75" fill="#8fb8dc"/>
<text x="328.3" y="635.34" font-size="6.6" fill="#000">USP11</text>
<rect x="263.1" y="636.44" width="20.7" height="6.75" fill="#d8302a"/>
<rect x="283.8" y="636.44" width="21.6" height="6.75" fill="#d3e6f1"/>
<rect x="305.4" y="636.44" width="21.6" height="6.75" fill="#8fb8dc"/>
<text x="328.3" y="642.08" font-size="6.6" fill="#000">PSMA4</text>
<rect x="263.1" y="643.18" width="20.7" height="6.75" fill="#d8302a"/>
<rect x="283.8" y="643.18" width="21.6" height="6.75" fill="#b8d3e8"/>
<rect x="305.4" y="643.18" width="21.6" height="6.75" fill="#b5d1e8"/>
<text x="328.3" y="648.83" font-size="6.6" fill="#000">UBE2L6</text>
<rect x="263.1" y="649.93" width="20.7" height="6.75" fill="#d8302a"/>
<rect x="283.8" y="649.93" width="21.6" height="6.75" fill="#b8d3e8"/>
<rect x="305.4" y="649.93" width="21.6" height="6.75" fill="#b5d1e8"/>
<text x="328.3" y="655.57" font-size="6.6" fill="#000">PSMD3</text>
<rect x="263.1" y="656.67" width="20.7" height="6.75" fill="#dc3a2c"/>
<rect x="283.8" y="656.67" width="21.6" height="6.75" fill="#f4f7d6"/>
<rect x="305.4" y="656.67" width="21.6" height="6.75" fill="#5e8dc6"/>
<text x="328.3" y="662.32" font-size="6.6" fill="#000">UBE2C</text>
<rect x="263.1" y="663.42" width="20.7" height="6.75" fill="#dc3a2c"/>
<rect x="283.8" y="663.42" width="21.6" height="6.75" fill="#f4f7d6"/>
<rect x="305.4" y="663.42" width="21.6" height="6.75" fill="#5e8dc6"/>
<text x="328.3" y="669.06" font-size="6.6" fill="#000">PSMD8</text>
<rect x="263.1" y="670.16" width="20.7" height="6.75" fill="#dc3a2c"/>
<rect x="283.8" y="670.16" width="21.6" height="6.75" fill="#f4f7d6"/>
<rect x="305.4" y="670.16" width="21.6" height="6.75" fill="#5e8dc6"/>
<text x="328.3" y="675.81" font-size="6.6" fill="#000">RBX1</text>
<rect x="263.1" y="676.91" width="20.7" height="6.75" fill="#4a78bd"/>
<rect x="283.8" y="676.91" width="21.6" height="6.75" fill="#f8aa6c"/>
<rect x="305.4" y="676.91" width="21.6" height="6.75" fill="#f8aa6c"/>
<text x="328.3" y="682.55" font-size="6.6" fill="#000">USP3</text>
<rect x="263.1" y="683.65" width="20.7" height="6.75" fill="#4a78bd"/>
<rect x="283.8" y="683.65" width="21.6" height="6.75" fill="#e8603c"/>
<rect x="305.4" y="683.65" width="21.6" height="6.75" fill="#fde4a0"/>
<text x="328.3" y="689.3" font-size="6.6" fill="#000">UBE3B</text>
<rect x="263.1" y="690.4" width="20.7" height="6.75" fill="#4a78bd"/>
<rect x="283.8" y="690.4" width="21.6" height="6.75" fill="#fde8a8"/>
<rect x="305.4" y="690.4" width="21.6" height="6.75" fill="#e8643f"/>
<text x="328.3" y="696.04" font-size="6.6" fill="#000">USP38</text>
<rect x="263.1" y="697.14" width="20.7" height="6.75" fill="#4a78bd"/>
<rect x="283.8" y="697.14" width="21.6" height="6.75" fill="#fde8a8"/>
<rect x="305.4" y="697.14" width="21.6" height="6.75" fill="#e8643f"/>
<text x="328.3" y="702.79" font-size="6.6" fill="#000">DNAJC14</text>
<rect x="263.1" y="703.89" width="20.7" height="6.75" fill="#4a78bd"/>
<rect x="283.8" y="703.89" width="21.6" height="6.75" fill="#fde8a8"/>
<rect x="305.4" y="703.89" width="21.6" height="6.75" fill="#e8643f"/>
<text x="328.3" y="709.53" font-size="6.6" fill="#000">DNAJB6</text>
<rect x="263.1" y="710.63" width="20.7" height="6.75" fill="#4a78bd"/>
<rect x="283.8" y="710.63" width="21.6" height="6.75" fill="#fde8a8"/>
<rect x="305.4" y="710.63" width="21.6" height="6.75" fill="#e8643f"/>
<text x="328.3" y="716.28" font-size="6.6" fill="#000">UBE3A</text>
<line x1="263.1" y1="562.25" x2="327" y2="562.25" stroke="#ffffff" stroke-width="0.5" stroke-opacity="0.45"/>
<line x1="263.1" y1="568.99" x2="327" y2="568.99" stroke="#ffffff" stroke-width="0.5" stroke-opacity="0.45"/>
<line x1="263.1" y1="575.74" x2="327" y2="575.74" stroke="#ffffff" stroke-width="0.5" stroke-opacity="0.45"/>
<line x1="263.1" y1="582.48" x2="327" y2="582.48" stroke="#ffffff" stroke-width="0.5" stroke-opacity="0.45"/>
<line x1="263.1" y1="589.23" x2="327" y2="589.23" stroke="#ffffff" stroke-width="0.5" stroke-opacity="0.45"/>
<line x1="263.1" y1="595.97" x2="327" y2="595.97" stroke="#ffffff" stroke-width="0.5" stroke-opacity="0.45"/>
<line x1="263.1" y1="602.72" x2="327" y2="602.72" stroke="#ffffff" stroke-width="0.5" stroke-opacity="0.45"/>
<line x1="263.1" y1="609.46" x2="327" y2="609.46" stroke="#ffffff" stroke-width="0.5" stroke-opacity="0.45"/>
<line x1="263.1" y1="616.21" x2="327" y2="616.21" stroke="#ffffff" stroke-width="0.5" stroke-opacity="0.45"/>
<line x1="263.1" y1="622.95" x2="327" y2="622.95" stroke="#ffffff" stroke-width="0.5" stroke-opacity="0.45"/>
<line x1="263.1" y1="629.7" x2="327" y2="629.7" stroke="#ffffff" stroke-width="0.5" stroke-opacity="0.45"/>
<line x1="263.1" y1="636.44" x2="327" y2="636.44" stroke="#ffffff" stroke-width="0.5" stroke-opacity="0.45"/>
<line x1="263.1" y1="643.18" x2="327" y2="643.18" stroke="#ffffff" stroke-width="0.5" stroke-opacity="0.45"/>
<line x1="263.1" y1="649.93" x2="327" y2="649.93" stroke="#ffffff" stroke-width="0.5" stroke-opacity="0.45"/>
<line x1="263.1" y1="656.67" x2="327" y2="656.67" stroke="#ffffff" stroke-width="0.5" stroke-opacity="0.45"/>
<line x1="263.1" y1="663.42" x2="327" y2="663.42" stroke="#ffffff" stroke-width="0.5" stroke-opacity="0.45"/>
<line x1="263.1" y1="670.16" x2="327" y2="670.16" stroke="#ffffff" stroke-width="0.5" stroke-opacity="0.45"/>
<line x1="263.1" y1="676.91" x2="327" y2="676.91" stroke="#ffffff" stroke-width="0.5" stroke-opacity="0.45"/>
<line x1="263.1" y1="683.65" x2="327" y2="683.65" stroke="#ffffff" stroke-width="0.5" stroke-opacity="0.45"/>
<line x1="263.1" y1="690.4" x2="327" y2="690.4" stroke="#ffffff" stroke-width="0.5" stroke-opacity="0.45"/>
<line x1="263.1" y1="697.14" x2="327" y2="697.14" stroke="#ffffff" stroke-width="0.5" stroke-opacity="0.45"/>
<line x1="263.1" y1="703.89" x2="327" y2="703.89" stroke="#ffffff" stroke-width="0.5" stroke-opacity="0.45"/>
<line x1="263.1" y1="710.63" x2="327" y2="710.63" stroke="#ffffff" stroke-width="0.5" stroke-opacity="0.45"/>
<line x1="283.8" y1="555.5" x2="283.8" y2="717.38" stroke="#ffffff" stroke-width="0.5" stroke-opacity="0.45"/>
<line x1="305.4" y1="555.5" x2="305.4" y2="717.38" stroke="#ffffff" stroke-width="0.5" stroke-opacity="0.45"/>
<path d="M294.6 549.6V535.6H316.2V549.6" stroke="#333" stroke-width="0.8" fill="none"/>
<path d="M273.45 549.6V518.8H305.4V535.6" stroke="#333" stroke-width="0.8" fill="none"/>
<path d="M263.1 558.87H261.6V565.62H263.1" stroke="#555" stroke-width="0.8" fill="none"/>
<path d="M263.1 572.36H261.6V579.11H263.1" stroke="#555" stroke-width="0.8" fill="none"/>
<path d="M261.6 562.24H259V575.73H261.6" stroke="#555" stroke-width="0.8" fill="none"/>
<path d="M259 568.99H251.4V589.22H263.1" stroke="#555" stroke-width="0.8" fill="none"/>
<path d="M263.1 599.34H262V606.09H263.1" stroke="#555" stroke-width="0.8" fill="none"/>
<path d="M263.1 612.83H262V619.58H263.1" stroke="#555" stroke-width="0.8" fill="none"/>
<path d="M263.1 626.32H262V633.07H263.1" stroke="#555" stroke-width="0.8" fill="none"/>
<path d="M263.1 646.56H262V653.3H263.1" stroke="#555" stroke-width="0.8" fill="none"/>
<path d="M262 602.71H261.2V616.2H262" stroke="#555" stroke-width="0.8" fill="none"/>
<path d="M262 629.69H260.8V639.81H263.1" stroke="#555" stroke-width="0.8" fill="none"/>
<path d="M261.2 609.46H260.5V633.07H260.8" stroke="#555" stroke-width="0.8" fill="none"/>
<path d="M260.5 621.26H260.5V649.93H262" stroke="#555" stroke-width="0.8" fill="none"/>
<path d="M263.1 660.05H262V666.79H263.1" stroke="#555" stroke-width="0.8" fill="none"/>
<path d="M262 663.42H261.5V673.54H263.1" stroke="#555" stroke-width="0.8" fill="none"/>
<path d="M260.5 635.6H256.3V668.48H261.5" stroke="#555" stroke-width="0.8" fill="none"/>
<path d="M251.4 579.11H243.2V652.04H256.3" stroke="#555" stroke-width="0.8" fill="none"/>
<path d="M263.1 680.28H258.4V687.03H263.1" stroke="#555" stroke-width="0.8" fill="none"/>
<path d="M263.1 693.77H262V700.52H263.1" stroke="#555" stroke-width="0.8" fill="none"/>
<path d="M263.1 707.26H262V714.01H263.1" stroke="#555" stroke-width="0.8" fill="none"/>
<path d="M262 697.14H261.5V710.63H262" stroke="#555" stroke-width="0.8" fill="none"/>
<path d="M258.4 683.65H252.8V703.89H261.5" stroke="#555" stroke-width="0.8" fill="none"/>
<path d="M243.2 615.57H233.6V693.77H252.8" stroke="#555" stroke-width="0.8" fill="none"/>
<rect x="389.9" y="559" width="22.6" height="4.6" fill="#e64ccb"/>
<rect x="412.5" y="559" width="22.9" height="4.6" fill="#4dbfe6"/>
<rect x="435.4" y="559" width="22.6" height="4.6" fill="#c2e04e"/>
<rect x="389.9" y="564.5" width="22.6" height="7.43" fill="#4a76b8"/>
<rect x="412.5" y="564.5" width="22.9" height="7.43" fill="#f4845a"/>
<rect x="435.4" y="564.5" width="22.6" height="7.43" fill="#fbd592"/>
<text x="459.8" y="570.64" font-size="7.05" fill="#000">RHOC</text>
<rect x="389.9" y="571.93" width="22.6" height="7.43" fill="#4a76b8"/>
<rect x="412.5" y="571.93" width="22.9" height="7.43" fill="#f4845a"/>
<rect x="435.4" y="571.93" width="22.6" height="7.43" fill="#fbd592"/>
<text x="459.8" y="578.07" font-size="7.05" fill="#000">RPS29</text>
<rect x="389.9" y="579.36" width="22.6" height="7.43" fill="#4a76b8"/>
<rect x="412.5" y="579.36" width="22.9" height="7.43" fill="#f4845a"/>
<rect x="435.4" y="579.36" width="22.6" height="7.43" fill="#fde29c"/>
<text x="459.8" y="585.5" font-size="7.05" fill="#000">AKT1</text>
<rect x="389.9" y="586.79" width="22.6" height="7.43" fill="#4a76b8"/>
<rect x="412.5" y="586.79" width="22.9" height="7.43" fill="#f4845a"/>
<rect x="435.4" y="586.79" width="22.6" height="7.43" fill="#fde29c"/>
<text x="459.8" y="592.93" font-size="7.05" fill="#000">PIK3CB</text>
<rect x="389.9" y="594.22" width="22.6" height="7.43" fill="#4a76b8"/>
<rect x="412.5" y="594.22" width="22.9" height="7.43" fill="#f9b47a"/>
<rect x="435.4" y="594.22" width="22.6" height="7.43" fill="#f6a56a"/>
<text x="459.8" y="600.36" font-size="7.05" fill="#000">KRAS</text>
<rect x="389.9" y="601.65" width="22.6" height="7.43" fill="#4a76b8"/>
<rect x="412.5" y="601.65" width="22.9" height="7.43" fill="#fde7a0"/>
<rect x="435.4" y="601.65" width="22.6" height="7.43" fill="#f4895b"/>
<text x="459.8" y="607.79" font-size="7.05" fill="#000">EIF4A2</text>
<rect x="389.9" y="609.08" width="22.6" height="7.43" fill="#4a76b8"/>
<rect x="412.5" y="609.08" width="22.9" height="7.43" fill="#fde7a0"/>
<rect x="435.4" y="609.08" width="22.6" height="7.43" fill="#f4895b"/>
<text x="459.8" y="615.22" font-size="7.05" fill="#000">PRKAA1</text>
<rect x="389.9" y="616.51" width="22.6" height="7.43" fill="#4a76b8"/>
<rect x="412.5" y="616.51" width="22.9" height="7.43" fill="#fde7a0"/>
<rect x="435.4" y="616.51" width="22.6" height="7.43" fill="#f2805a"/>
<text x="459.8" y="622.65" font-size="7.05" fill="#000">RHOA</text>
<rect x="389.9" y="623.94" width="22.6" height="7.43" fill="#5a88c2"/>
<rect x="412.5" y="623.94" width="22.9" height="7.43" fill="#fefbc8"/>
<rect x="435.4" y="623.94" width="22.6" height="7.43" fill="#e34a33"/>
<text x="459.8" y="630.08" font-size="7.05" fill="#000">PPP2R5E</text>
<rect x="389.9" y="631.37" width="22.6" height="7.43" fill="#5a88c2"/>
<rect x="412.5" y="631.37" width="22.9" height="7.43" fill="#fefbc8"/>
<rect x="435.4" y="631.37" width="22.6" height="7.43" fill="#e8603c"/>
<text x="459.8" y="637.51" font-size="7.05" fill="#000">RHOT1</text>
<rect x="389.9" y="638.8" width="22.6" height="7.43" fill="#7ea6d3"/>
<rect x="412.5" y="638.8" width="22.9" height="7.43" fill="#eef6e8"/>
<rect x="435.4" y="638.8" width="22.6" height="7.43" fill="#d7301f"/>
<text x="459.8" y="644.94" font-size="7.05" fill="#000">FLJ14213</text>
<rect x="389.9" y="646.23" width="22.6" height="7.43" fill="#d93025"/>
<rect x="412.5" y="646.23" width="22.9" height="7.43" fill="#e1eef5"/>
<rect x="435.4" y="646.23" width="22.6" height="7.43" fill="#9ec0de"/>
<text x="459.8" y="652.37" font-size="7.05" fill="#000">RPS15A</text>
<rect x="389.9" y="653.66" width="22.6" height="7.43" fill="#d93025"/>
<rect x="412.5" y="653.66" width="22.9" height="7.43" fill="#c6dcee"/>
<rect x="435.4" y="653.66" width="22.6" height="7.43" fill="#a9c8e3"/>
<text x="459.8" y="659.8" font-size="7.05" fill="#000">MLST8</text>
<rect x="389.9" y="661.09" width="22.6" height="7.43" fill="#e0402c"/>
<rect x="412.5" y="661.09" width="22.9" height="7.43" fill="#fdf3c0"/>
<rect x="435.4" y="661.09" width="22.6" height="7.43" fill="#5f8cc5"/>
<text x="459.8" y="667.23" font-size="7.05" fill="#000">RPS21</text>
<line x1="389.9" y1="571.93" x2="458" y2="571.93" stroke="#ffffff" stroke-width="0.5" stroke-opacity="0.45"/>
<line x1="389.9" y1="579.36" x2="458" y2="579.36" stroke="#ffffff" stroke-width="0.5" stroke-opacity="0.45"/>
<line x1="389.9" y1="586.79" x2="458" y2="586.79" stroke="#ffffff" stroke-width="0.5" stroke-opacity="0.45"/>
<line x1="389.9" y1="594.22" x2="458" y2="594.22" stroke="#ffffff" stroke-width="0.5" stroke-opacity="0.45"/>
<line x1="389.9" y1="601.65" x2="458" y2="601.65" stroke="#ffffff" stroke-width="0.5" stroke-opacity="0.45"/>
<line x1="389.9" y1="609.08" x2="458" y2="609.08" stroke="#ffffff" stroke-width="0.5" stroke-opacity="0.45"/>
<line x1="389.9" y1="616.51" x2="458" y2="616.51" stroke="#ffffff" stroke-width="0.5" stroke-opacity="0.45"/>
<line x1="389.9" y1="623.94" x2="458" y2="623.94" stroke="#ffffff" stroke-width="0.5" stroke-opacity="0.45"/>
<line x1="389.9" y1="631.37" x2="458" y2="631.37" stroke="#ffffff" stroke-width="0.5" stroke-opacity="0.45"/>
<line x1="389.9" y1="638.8" x2="458" y2="638.8" stroke="#ffffff" stroke-width="0.5" stroke-opacity="0.45"/>
<line x1="389.9" y1="646.23" x2="458" y2="646.23" stroke="#ffffff" stroke-width="0.5" stroke-opacity="0.45"/>
<line x1="389.9" y1="653.66" x2="458" y2="653.66" stroke="#ffffff" stroke-width="0.5" stroke-opacity="0.45"/>
<line x1="389.9" y1="661.09" x2="458" y2="661.09" stroke="#ffffff" stroke-width="0.5" stroke-opacity="0.45"/>
<line x1="412.5" y1="564.5" x2="412.5" y2="668.52" stroke="#ffffff" stroke-width="0.5" stroke-opacity="0.45"/>
<line x1="435.4" y1="564.5" x2="435.4" y2="668.52" stroke="#ffffff" stroke-width="0.5" stroke-opacity="0.45"/>
<path d="M423.95 559V545.7H446.7V559" stroke="#333" stroke-width="0.8" fill="none"/>
<path d="M401.2 559V525.5H435.32V545.7" stroke="#333" stroke-width="0.8" fill="none"/>
<path d="M389.9 568.22H389.2V575.64H389.9" stroke="#555" stroke-width="0.8" fill="none"/>
<path d="M389.9 583.08H389.2V590.5H389.9" stroke="#555" stroke-width="0.8" fill="none"/>
<path d="M389.2 571.93H388.6V586.79H389.2" stroke="#555" stroke-width="0.8" fill="none"/>
<path d="M388.6 579.36H386.7V597.93H389.9" stroke="#555" stroke-width="0.8" fill="none"/>
<path d="M389.9 605.37H389V612.79H389.9" stroke="#555" stroke-width="0.8" fill="none"/>
<path d="M389 609.08H388.5V620.23H389.9" stroke="#555" stroke-width="0.8" fill="none"/>
<path d="M386.7 588.65H381.7V614.65H388.5" stroke="#555" stroke-width="0.8" fill="none"/>
<path d="M389.9 627.65H388V635.09H389.9" stroke="#555" stroke-width="0.8" fill="none"/>
<path d="M388 631.37H384.7V642.51H389.9" stroke="#555" stroke-width="0.8" fill="none"/>
<path d="M381.7 601.65H375.1V636.94H384.7" stroke="#555" stroke-width="0.8" fill="none"/>
<path d="M389.9 649.94H387.5V657.38H389.9" stroke="#555" stroke-width="0.8" fill="none"/>
<path d="M387.5 653.66H383.9V664.8H389.9" stroke="#555" stroke-width="0.8" fill="none"/>
<path d="M375.1 619.3H357.6V659.23H383.9" stroke="#555" stroke-width="0.8" fill="none"/>
<rect x="498.4" y="557.8" width="5.7" height="1.93" fill="#d9362a"/>
<rect x="498.4" y="559.63" width="5.7" height="1.93" fill="#de4130"/>
<rect x="498.4" y="561.46" width="5.7" height="1.93" fill="#e24c36"/>
<rect x="498.4" y="563.28" width="5.7" height="1.93" fill="#e7573c"/>
<rect x="498.4" y="565.11" width="5.7" height="1.93" fill="#eb6242"/>
<rect x="498.4" y="566.94" width="5.7" height="1.93" fill="#ef6d48"/>
<rect x="498.4" y="568.77" width="5.7" height="1.93" fill="#f4794e"/>
<rect x="498.4" y="570.6" width="5.7" height="1.93" fill="#f88454"/>
<rect x="498.4" y="572.42" width="5.7" height="1.93" fill="#fc8f5a"/>
<rect x="498.4" y="574.25" width="5.7" height="1.93" fill="#fc9961"/>
<rect x="498.4" y="576.08" width="5.7" height="1.93" fill="#fda367"/>
<rect x="498.4" y="577.91" width="5.7" height="1.93" fill="#fdad6e"/>
<rect x="498.4" y="579.74" width="5.7" height="1.93" fill="#fdb674"/>
<rect x="498.4" y="581.56" width="5.7" height="1.93" fill="#fdc07b"/>
<rect x="498.4" y="583.39" width="5.7" height="1.93" fill="#fdca82"/>
<rect x="498.4" y="585.22" width="5.7" height="1.93" fill="#fed488"/>
<rect x="498.4" y="587.05" width="5.7" height="1.93" fill="#fede8f"/>
<rect x="498.4" y="588.88" width="5.7" height="1.93" fill="#fee395"/>
<rect x="498.4" y="590.7" width="5.7" height="1.93" fill="#fee79a"/>
<rect x="498.4" y="592.53" width="5.7" height="1.93" fill="#feeba0"/>
<rect x="498.4" y="594.36" width="5.7" height="1.93" fill="#feeea6"/>
<rect x="498.4" y="596.19" width="5.7" height="1.93" fill="#fff2ab"/>
<rect x="498.4" y="598.02" width="5.7" height="1.93" fill="#fff6b1"/>
<rect x="498.4" y="599.84" width="5.7" height="1.93" fill="#fff9b7"/>
<rect x="498.4" y="601.67" width="5.7" height="1.93" fill="#fffdbc"/>
<rect x="498.4" y="603.5" width="5.7" height="1.93" fill="#fdfec2"/>
<rect x="498.4" y="605.33" width="5.7" height="1.93" fill="#f9fdc9"/>
<rect x="498.4" y="607.16" width="5.7" height="1.93" fill="#f6fbd0"/>
<rect x="498.4" y="608.98" width="5.7" height="1.93" fill="#f2fad7"/>
<rect x="498.4" y="610.81" width="5.7" height="1.93" fill="#eef9de"/>
<rect x="498.4" y="612.64" width="5.7" height="1.93" fill="#ebf7e5"/>
<rect x="498.4" y="614.47" width="5.7" height="1.93" fill="#e7f6eb"/>
<rect x="498.4" y="616.3" width="5.7" height="1.93" fill="#e3f4f2"/>
<rect x="498.4" y="618.12" width="5.7" height="1.93" fill="#def2f7"/>
<rect x="498.4" y="619.95" width="5.7" height="1.93" fill="#d5ecf4"/>
<rect x="498.4" y="621.78" width="5.7" height="1.93" fill="#cbe5f0"/>
<rect x="498.4" y="623.61" width="5.7" height="1.93" fill="#c2dfed"/>
<rect x="498.4" y="625.44" width="5.7" height="1.93" fill="#b8d9ea"/>
<rect x="498.4" y="627.26" width="5.7" height="1.93" fill="#afd3e6"/>
<rect x="498.4" y="629.09" width="5.7" height="1.93" fill="#a6cde3"/>
<rect x="498.4" y="630.92" width="5.7" height="1.93" fill="#9cc6df"/>
<rect x="498.4" y="632.75" width="5.7" height="1.93" fill="#93c0dc"/>
<rect x="498.4" y="634.58" width="5.7" height="1.93" fill="#89b8d7"/>
<rect x="498.4" y="636.4" width="5.7" height="1.93" fill="#80afd2"/>
<rect x="498.4" y="638.23" width="5.7" height="1.93" fill="#77a6ce"/>
<rect x="498.4" y="640.06" width="5.7" height="1.93" fill="#6e9dc9"/>
<rect x="498.4" y="641.89" width="5.7" height="1.93" fill="#6594c4"/>
<rect x="498.4" y="643.72" width="5.7" height="1.93" fill="#5c8bc0"/>
<rect x="498.4" y="645.54" width="5.7" height="1.93" fill="#5382bb"/>
<rect x="498.4" y="647.37" width="5.7" height="1.93" fill="#4a79b6"/>
<text x="506.5" y="566.4" font-size="7" fill="#000">1</text>
<text x="506.5" y="586.1" font-size="7" fill="#000">0.5</text>
<text x="506.5" y="605.9" font-size="7" fill="#000">0</text>
<text x="504.8" y="626.2" font-size="7" fill="#000">-0.5</text>
<text x="506" y="646.5" font-size="7" fill="#000">-1</text>
<text x="453.2" y="684" font-size="8.5" font-weight="bold" fill="#000">Class</text>
<rect x="453.3" y="687" width="5.7" height="5.7" fill="#6cc65a"/>
<text x="460.8" y="692.7" font-size="8.3" fill="#000">Chronic CMV</text>
<rect x="453.3" y="695.9" width="5.7" height="5.7" fill="#4ea6e8"/>
<text x="460.8" y="701.6" font-size="8.3" fill="#000">Chronic HIV</text>
<rect x="453.3" y="704.8" width="5.7" height="5.7" fill="#e8829e"/>
<text x="460.8" y="710.5" font-size="8.3" fill="#000">Primary HIV</text>
</svg>
</body></html>
